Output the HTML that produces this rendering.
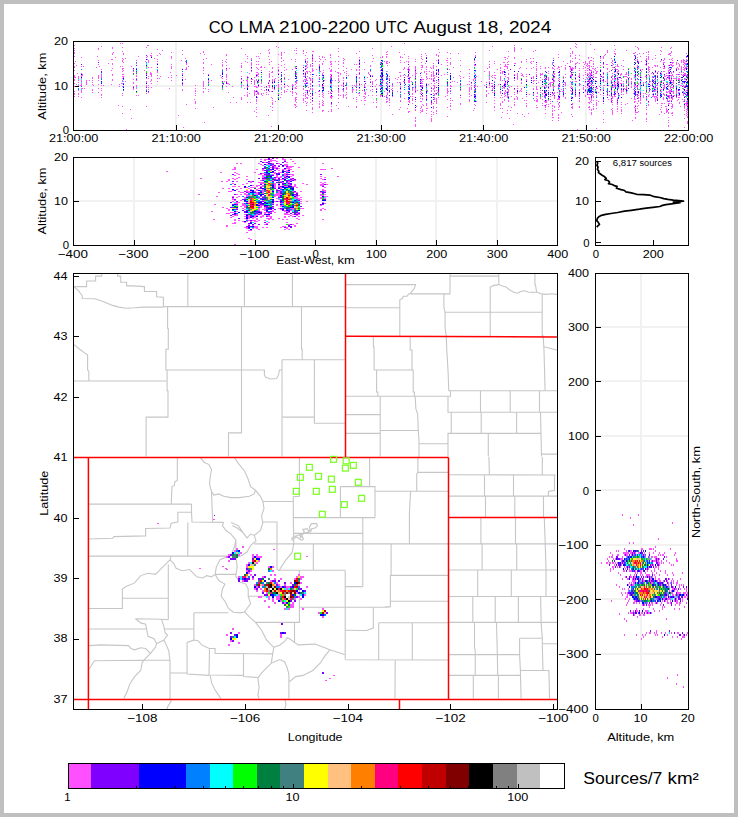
<!DOCTYPE html>
<html><head><meta charset="utf-8"><title>CO LMA</title>
<style>html,body{margin:0;padding:0;background:#fff;overflow:hidden}svg{display:block}text{font-family:"Liberation Sans",sans-serif;fill:#000}</style>
</head><body>
<svg width="738" height="817" viewBox="0 0 738 817">
<rect width="738" height="817" fill="#bfbfbf"/><rect x="4" y="4" width="730" height="809" fill="#fff"/>
<text y="33.2" font-size="17.1598"><tspan x="208.70" textLength="24.75" lengthAdjust="spacingAndGlyphs">CO</tspan> <tspan x="238.74" textLength="35.05" lengthAdjust="spacingAndGlyphs">LMA</tspan> <tspan x="279.09" textLength="90.81" lengthAdjust="spacingAndGlyphs">2100-2200</tspan> <tspan x="375.20" textLength="33.03" lengthAdjust="spacingAndGlyphs">UTC</tspan> <tspan x="413.52" textLength="58.30" lengthAdjust="spacingAndGlyphs">August</tspan> <tspan x="477.11" textLength="26.49" lengthAdjust="spacingAndGlyphs">18,</tspan> <tspan x="508.90" textLength="42.40" lengthAdjust="spacingAndGlyphs">2024</tspan></text>
<g shape-rendering="crispEdges">
<rect x="175" y="42" width="2" height="88" fill="#f1f1f1"/>
<rect x="277" y="42" width="2" height="88" fill="#f1f1f1"/>
<rect x="380" y="42" width="2" height="88" fill="#f1f1f1"/>
<rect x="482" y="42" width="2" height="88" fill="#f1f1f1"/>
<rect x="585" y="42" width="2" height="88" fill="#f1f1f1"/>
<rect x="74" y="85" width="614" height="2" fill="#f1f1f1"/>
<rect x="73" y="41" width="616" height="1" fill="#000"/><rect x="73" y="130" width="616" height="1" fill="#000"/><rect x="73" y="41" width="1" height="90" fill="#000"/><rect x="688" y="41" width="1" height="90" fill="#000"/>
<rect x="73" y="125" width="1" height="5" fill="#000"/>
<rect x="176" y="125" width="1" height="5" fill="#000"/>
<rect x="278" y="125" width="1" height="5" fill="#000"/>
<rect x="381" y="125" width="1" height="5" fill="#000"/>
<rect x="483" y="125" width="1" height="5" fill="#000"/>
<rect x="586" y="125" width="1" height="5" fill="#000"/>
<rect x="688" y="125" width="1" height="5" fill="#000"/>
<rect x="73" y="41" width="6" height="1" fill="#000"/>
<rect x="73" y="86" width="6" height="1" fill="#000"/>
<rect x="73" y="130" width="6" height="1" fill="#000"/>
<path fill="#ff50ff" d="M74 45h1v1h-1zM74 48h1v1h-1zM74 50h1v1h-1zM74 52h1v1h-1zM74 53h1v1h-1zM74 56h1v1h-1zM74 63h1v1h-1zM74 66h1v1h-1zM74 67h1v1h-1zM74 70h1v1h-1zM74 75h1v1h-1zM74 76h1v1h-1zM74 77h1v1h-1zM74 79h1v1h-1zM74 80h1v1h-1zM74 83h1v1h-1zM74 86h1v1h-1zM74 91h1v1h-1zM74 93h1v1h-1zM74 94h1v1h-1zM74 96h1v1h-1zM75 61h1v1h-1zM75 77h1v1h-1zM76 65h1v1h-1zM76 84h1v1h-1zM77 73h1v1h-1zM78 76h1v1h-1zM78 77h1v1h-1zM78 78h1v1h-1zM78 80h1v1h-1zM78 82h1v1h-1zM78 85h1v1h-1zM78 90h1v1h-1zM78 93h1v1h-1zM78 94h1v1h-1zM78 96h1v1h-1zM80 85h1v1h-1zM81 57h1v1h-1zM81 66h1v1h-1zM81 73h1v1h-1zM81 75h1v1h-1zM81 76h1v1h-1zM81 78h1v1h-1zM81 80h1v1h-1zM81 81h1v1h-1zM81 83h1v1h-1zM81 84h1v1h-1zM81 85h1v1h-1zM81 88h1v1h-1zM81 90h1v1h-1zM81 91h1v1h-1zM81 92h1v1h-1zM81 97h1v1h-1zM82 74h1v1h-1zM82 75h1v1h-1zM82 88h1v1h-1zM83 66h1v1h-1zM84 88h1v1h-1zM86 80h1v1h-1zM86 81h1v1h-1zM86 82h1v1h-1zM86 83h1v1h-1zM86 84h1v1h-1zM89 80h1v1h-1zM92 77h1v1h-1zM92 78h1v1h-1zM92 80h1v1h-1zM92 82h1v1h-1zM92 84h1v1h-1zM92 89h1v1h-1zM92 90h1v1h-1zM92 92h1v1h-1zM93 85h1v1h-1zM96 67h1v1h-1zM97 56h1v1h-1zM98 48h1v1h-1zM98 49h1v1h-1zM98 60h1v1h-1zM98 64h1v1h-1zM98 75h1v1h-1zM98 76h1v1h-1zM98 77h1v1h-1zM98 78h1v1h-1zM98 80h1v1h-1zM98 84h1v1h-1zM98 88h1v1h-1zM98 92h1v1h-1zM99 66h1v1h-1zM101 46h1v1h-1zM101 69h1v1h-1zM101 74h1v1h-1zM101 75h1v1h-1zM101 76h1v1h-1zM101 77h1v1h-1zM101 85h1v1h-1zM101 88h1v1h-1zM101 90h1v1h-1zM101 94h1v1h-1zM101 95h1v1h-1zM101 97h1v1h-1zM103 85h1v1h-1zM108 63h1v1h-1zM111 59h1v1h-1zM111 70h1v1h-1zM111 84h1v1h-1zM112 47h1v1h-1zM112 48h1v1h-1zM112 53h1v1h-1zM112 54h1v1h-1zM112 59h1v1h-1zM112 63h1v1h-1zM112 64h1v1h-1zM112 68h1v1h-1zM112 74h1v1h-1zM112 75h1v1h-1zM112 79h1v1h-1zM112 80h1v1h-1zM113 52h1v1h-1zM115 57h1v1h-1zM118 105h1v1h-1zM119 84h1v1h-1zM119 86h1v1h-1zM120 43h1v1h-1zM120 66h1v1h-1zM121 83h1v1h-1zM122 43h1v1h-1zM122 47h1v1h-1zM122 51h1v1h-1zM122 58h1v1h-1zM122 60h1v1h-1zM122 61h1v1h-1zM122 66h1v1h-1zM122 68h1v1h-1zM122 69h1v1h-1zM122 71h1v1h-1zM122 74h1v1h-1zM122 76h1v1h-1zM122 78h1v1h-1zM122 80h1v1h-1zM122 81h1v1h-1zM122 83h1v1h-1zM122 86h1v1h-1zM122 93h1v1h-1zM122 95h1v1h-1zM122 106h1v1h-1zM122 113h1v1h-1zM123 53h1v1h-1zM123 54h1v1h-1zM123 59h1v1h-1zM123 62h1v1h-1zM123 68h1v1h-1zM123 70h1v1h-1zM123 74h1v1h-1zM123 76h1v1h-1zM123 77h1v1h-1zM125 58h1v1h-1zM125 81h1v1h-1zM126 129h1v1h-1zM130 109h1v1h-1zM131 66h1v1h-1zM131 118h1v1h-1zM133 69h1v1h-1zM133 71h1v1h-1zM133 79h1v1h-1zM133 82h1v1h-1zM133 83h1v1h-1zM133 86h1v1h-1zM133 88h1v1h-1zM133 89h1v1h-1zM136 60h1v1h-1zM136 63h1v1h-1zM136 75h1v1h-1zM136 76h1v1h-1zM136 78h1v1h-1zM136 80h1v1h-1zM136 85h1v1h-1zM136 86h1v1h-1zM136 88h1v1h-1zM136 95h1v1h-1zM138 56h1v1h-1zM138 95h1v1h-1zM144 70h1v1h-1zM145 61h1v1h-1zM146 47h1v1h-1zM146 57h1v1h-1zM146 67h1v1h-1zM146 74h1v1h-1zM146 78h1v1h-1zM146 81h1v1h-1zM146 82h1v1h-1zM146 85h1v1h-1zM146 86h1v1h-1zM146 89h1v1h-1zM146 93h1v1h-1zM146 106h1v1h-1zM147 45h1v1h-1zM147 56h1v1h-1zM147 59h1v1h-1zM148 45h1v1h-1zM148 60h1v1h-1zM148 61h1v1h-1zM148 62h1v1h-1zM148 67h1v1h-1zM148 76h1v1h-1zM148 78h1v1h-1zM148 85h1v1h-1zM148 87h1v1h-1zM148 89h1v1h-1zM148 92h1v1h-1zM150 55h1v1h-1zM150 72h1v1h-1zM150 73h1v1h-1zM150 74h1v1h-1zM150 81h1v1h-1zM151 53h1v1h-1zM151 55h1v1h-1zM151 56h1v1h-1zM151 67h1v1h-1zM151 73h1v1h-1zM151 74h1v1h-1zM151 75h1v1h-1zM151 76h1v1h-1zM151 79h1v1h-1zM151 80h1v1h-1zM151 83h1v1h-1zM151 87h1v1h-1zM154 58h1v1h-1zM157 49h1v1h-1zM157 55h1v1h-1zM157 59h1v1h-1zM157 61h1v1h-1zM157 63h1v1h-1zM157 71h1v1h-1zM157 72h1v1h-1zM157 75h1v1h-1zM157 78h1v1h-1zM157 81h1v1h-1zM159 53h1v1h-1zM159 78h1v1h-1zM160 54h1v1h-1zM160 76h1v1h-1zM162 50h1v1h-1zM168 77h1v1h-1zM169 88h1v1h-1zM170 72h1v1h-1zM171 52h1v1h-1zM171 56h1v1h-1zM171 57h1v1h-1zM171 58h1v1h-1zM171 64h1v1h-1zM171 66h1v1h-1zM171 67h1v1h-1zM171 68h1v1h-1zM171 75h1v1h-1zM171 77h1v1h-1zM171 80h1v1h-1zM176 75h1v1h-1zM178 115h1v1h-1zM181 60h1v1h-1zM182 50h1v1h-1zM182 54h1v1h-1zM182 73h1v1h-1zM182 74h1v1h-1zM182 77h1v1h-1zM182 82h1v1h-1zM182 84h1v1h-1zM182 85h1v1h-1zM182 89h1v1h-1zM182 90h1v1h-1zM183 127h1v1h-1zM185 58h1v1h-1zM185 61h1v1h-1zM185 69h1v1h-1zM185 79h1v1h-1zM186 63h1v1h-1zM186 64h1v1h-1zM186 67h1v1h-1zM186 68h1v1h-1zM186 69h1v1h-1zM186 104h1v1h-1zM188 66h1v1h-1zM194 99h1v1h-1zM195 85h1v1h-1zM195 88h1v1h-1zM195 90h1v1h-1zM195 91h1v1h-1zM195 93h1v1h-1zM195 95h1v1h-1zM195 101h1v1h-1zM195 102h1v1h-1zM195 103h1v1h-1zM195 108h1v1h-1zM200 53h1v1h-1zM203 51h1v1h-1zM203 52h1v1h-1zM203 59h1v1h-1zM203 62h1v1h-1zM203 63h1v1h-1zM203 67h1v1h-1zM203 68h1v1h-1zM203 70h1v1h-1zM203 73h1v1h-1zM203 81h1v1h-1zM203 82h1v1h-1zM203 83h1v1h-1zM203 84h1v1h-1zM203 85h1v1h-1zM203 86h1v1h-1zM203 88h1v1h-1zM203 91h1v1h-1zM203 92h1v1h-1zM204 54h1v1h-1zM204 122h1v1h-1zM205 88h1v1h-1zM206 58h1v1h-1zM208 74h1v1h-1zM208 80h1v1h-1zM208 81h1v1h-1zM208 83h1v1h-1zM208 89h1v1h-1zM208 91h1v1h-1zM211 64h1v1h-1zM211 80h1v1h-1zM213 107h1v1h-1zM220 75h1v1h-1zM221 77h1v1h-1zM222 60h1v1h-1zM222 62h1v1h-1zM222 64h1v1h-1zM222 65h1v1h-1zM222 66h1v1h-1zM222 69h1v1h-1zM222 78h1v1h-1zM222 88h1v1h-1zM223 84h1v1h-1zM224 81h1v1h-1zM225 61h1v1h-1zM226 54h1v1h-1zM226 55h1v1h-1zM226 59h1v1h-1zM226 62h1v1h-1zM226 65h1v1h-1zM226 69h1v1h-1zM226 70h1v1h-1zM226 74h1v1h-1zM226 75h1v1h-1zM226 76h1v1h-1zM226 77h1v1h-1zM226 79h1v1h-1zM226 81h1v1h-1zM226 86h1v1h-1zM227 83h1v1h-1zM228 83h1v1h-1zM228 92h1v1h-1zM229 68h1v1h-1zM229 84h1v1h-1zM230 102h1v1h-1zM232 86h1v1h-1zM233 97h1v1h-1zM236 102h1v1h-1zM241 48h1v1h-1zM241 63h1v1h-1zM241 65h1v1h-1zM241 66h1v1h-1zM241 67h1v1h-1zM241 71h1v1h-1zM241 76h1v1h-1zM241 79h1v1h-1zM241 81h1v1h-1zM241 85h1v1h-1zM241 86h1v1h-1zM241 97h1v1h-1zM241 98h1v1h-1zM241 99h1v1h-1zM243 80h1v1h-1zM243 85h1v1h-1zM244 88h1v1h-1zM244 95h1v1h-1zM245 54h1v1h-1zM245 61h1v1h-1zM246 80h1v1h-1zM247 56h1v1h-1zM247 58h1v1h-1zM247 62h1v1h-1zM247 76h1v1h-1zM247 78h1v1h-1zM247 80h1v1h-1zM247 81h1v1h-1zM247 82h1v1h-1zM247 83h1v1h-1zM247 86h1v1h-1zM247 87h1v1h-1zM247 92h1v1h-1zM247 94h1v1h-1zM247 95h1v1h-1zM247 96h1v1h-1zM247 102h1v1h-1zM248 77h1v1h-1zM248 86h1v1h-1zM249 73h1v1h-1zM249 93h1v1h-1zM250 102h1v1h-1zM251 58h1v1h-1zM251 59h1v1h-1zM251 62h1v1h-1zM251 63h1v1h-1zM251 64h1v1h-1zM251 65h1v1h-1zM251 68h1v1h-1zM251 71h1v1h-1zM251 79h1v1h-1zM251 83h1v1h-1zM252 79h1v1h-1zM254 77h1v1h-1zM254 80h1v1h-1zM254 81h1v1h-1zM254 82h1v1h-1zM254 83h1v1h-1zM254 84h1v1h-1zM254 86h1v1h-1zM254 90h1v1h-1zM254 91h1v1h-1zM254 92h1v1h-1zM254 93h1v1h-1zM254 94h1v1h-1zM254 95h1v1h-1zM254 111h1v1h-1zM255 86h1v1h-1zM255 91h1v1h-1zM256 56h1v1h-1zM256 61h1v1h-1zM256 64h1v1h-1zM256 67h1v1h-1zM256 72h1v1h-1zM256 74h1v1h-1zM256 76h1v1h-1zM256 79h1v1h-1zM256 80h1v1h-1zM256 86h1v1h-1zM256 87h1v1h-1zM256 90h1v1h-1zM256 94h1v1h-1zM256 99h1v1h-1zM256 100h1v1h-1zM256 101h1v1h-1zM256 103h1v1h-1zM256 107h1v1h-1zM256 109h1v1h-1zM256 112h1v1h-1zM256 116h1v1h-1zM257 68h1v1h-1zM257 72h1v1h-1zM257 74h1v1h-1zM257 75h1v1h-1zM257 87h1v1h-1zM257 91h1v1h-1zM257 92h1v1h-1zM257 93h1v1h-1zM257 97h1v1h-1zM258 56h1v1h-1zM258 61h1v1h-1zM258 64h1v1h-1zM258 69h1v1h-1zM258 73h1v1h-1zM258 74h1v1h-1zM258 76h1v1h-1zM258 81h1v1h-1zM258 84h1v1h-1zM258 86h1v1h-1zM258 92h1v1h-1zM258 93h1v1h-1zM258 94h1v1h-1zM259 58h1v1h-1zM260 53h1v1h-1zM260 67h1v1h-1zM261 66h1v1h-1zM261 67h1v1h-1zM261 70h1v1h-1zM261 82h1v1h-1zM261 83h1v1h-1zM261 86h1v1h-1zM261 89h1v1h-1zM261 93h1v1h-1zM261 94h1v1h-1zM262 95h1v1h-1zM263 93h1v1h-1zM264 67h1v1h-1zM264 87h1v1h-1zM264 90h1v1h-1zM266 87h1v1h-1zM266 90h1v1h-1zM266 92h1v1h-1zM266 94h1v1h-1zM268 50h1v1h-1zM268 56h1v1h-1zM268 82h1v1h-1zM268 85h1v1h-1zM268 94h1v1h-1zM268 115h1v1h-1zM269 49h1v1h-1zM269 52h1v1h-1zM269 53h1v1h-1zM269 59h1v1h-1zM269 62h1v1h-1zM269 64h1v1h-1zM269 71h1v1h-1zM269 73h1v1h-1zM269 74h1v1h-1zM269 75h1v1h-1zM269 76h1v1h-1zM269 77h1v1h-1zM269 81h1v1h-1zM269 85h1v1h-1zM269 86h1v1h-1zM269 87h1v1h-1zM269 91h1v1h-1zM270 106h1v1h-1zM271 61h1v1h-1zM271 72h1v1h-1zM271 91h1v1h-1zM271 97h1v1h-1zM271 126h1v1h-1zM272 67h1v1h-1zM272 68h1v1h-1zM272 71h1v1h-1zM272 72h1v1h-1zM272 76h1v1h-1zM272 79h1v1h-1zM272 80h1v1h-1zM272 81h1v1h-1zM272 83h1v1h-1zM272 87h1v1h-1zM272 88h1v1h-1zM272 98h1v1h-1zM272 100h1v1h-1zM272 102h1v1h-1zM272 103h1v1h-1zM272 104h1v1h-1zM272 107h1v1h-1zM272 110h1v1h-1zM274 79h1v1h-1zM274 80h1v1h-1zM274 89h1v1h-1zM275 78h1v1h-1zM275 101h1v1h-1zM276 46h1v1h-1zM276 85h1v1h-1zM278 47h1v1h-1zM278 54h1v1h-1zM278 64h1v1h-1zM278 67h1v1h-1zM278 69h1v1h-1zM278 71h1v1h-1zM278 73h1v1h-1zM278 77h1v1h-1zM278 80h1v1h-1zM278 84h1v1h-1zM278 85h1v1h-1zM278 86h1v1h-1zM278 87h1v1h-1zM278 89h1v1h-1zM278 94h1v1h-1zM280 79h1v1h-1zM280 97h1v1h-1zM281 52h1v1h-1zM281 53h1v1h-1zM281 54h1v1h-1zM281 55h1v1h-1zM281 57h1v1h-1zM281 58h1v1h-1zM281 61h1v1h-1zM281 65h1v1h-1zM281 80h1v1h-1zM281 82h1v1h-1zM281 84h1v1h-1zM281 87h1v1h-1zM281 89h1v1h-1zM281 92h1v1h-1zM281 94h1v1h-1zM283 60h1v1h-1zM284 52h1v1h-1zM284 64h1v1h-1zM284 67h1v1h-1zM284 70h1v1h-1zM284 74h1v1h-1zM284 77h1v1h-1zM284 79h1v1h-1zM284 83h1v1h-1zM284 86h1v1h-1zM284 87h1v1h-1zM284 90h1v1h-1zM284 91h1v1h-1zM284 92h1v1h-1zM286 69h1v1h-1zM286 91h1v1h-1zM287 85h1v1h-1zM287 89h1v1h-1zM288 79h1v1h-1zM288 86h1v1h-1zM290 91h1v1h-1zM291 59h1v1h-1zM292 69h1v1h-1zM292 84h1v1h-1zM292 85h1v1h-1zM292 87h1v1h-1zM292 91h1v1h-1zM292 92h1v1h-1zM292 93h1v1h-1zM292 95h1v1h-1zM293 85h1v1h-1zM294 50h1v1h-1zM294 104h1v1h-1zM295 59h1v1h-1zM295 61h1v1h-1zM295 67h1v1h-1zM295 68h1v1h-1zM295 82h1v1h-1zM295 84h1v1h-1zM295 87h1v1h-1zM295 88h1v1h-1zM295 92h1v1h-1zM295 97h1v1h-1zM295 98h1v1h-1zM295 99h1v1h-1zM295 100h1v1h-1zM295 101h1v1h-1zM295 104h1v1h-1zM295 105h1v1h-1zM295 107h1v1h-1zM296 48h1v1h-1zM296 50h1v1h-1zM296 53h1v1h-1zM296 73h1v1h-1zM296 74h1v1h-1zM296 81h1v1h-1zM296 82h1v1h-1zM296 83h1v1h-1zM296 86h1v1h-1zM296 88h1v1h-1zM296 93h1v1h-1zM296 94h1v1h-1zM296 97h1v1h-1zM296 99h1v1h-1zM296 102h1v1h-1zM296 106h1v1h-1zM297 80h1v1h-1zM303 50h1v1h-1zM303 51h1v1h-1zM303 53h1v1h-1zM303 65h1v1h-1zM303 71h1v1h-1zM303 74h1v1h-1zM303 76h1v1h-1zM303 80h1v1h-1zM303 81h1v1h-1zM303 88h1v1h-1zM303 89h1v1h-1zM303 93h1v1h-1zM303 95h1v1h-1zM303 98h1v1h-1zM303 99h1v1h-1zM303 100h1v1h-1zM303 102h1v1h-1zM304 76h1v1h-1zM304 79h1v1h-1zM304 83h1v1h-1zM305 55h1v1h-1zM305 59h1v1h-1zM305 60h1v1h-1zM305 68h1v1h-1zM305 72h1v1h-1zM305 75h1v1h-1zM305 79h1v1h-1zM305 83h1v1h-1zM305 90h1v1h-1zM305 92h1v1h-1zM305 94h1v1h-1zM305 95h1v1h-1zM305 96h1v1h-1zM305 98h1v1h-1zM305 101h1v1h-1zM306 52h1v1h-1zM306 63h1v1h-1zM306 65h1v1h-1zM306 66h1v1h-1zM306 68h1v1h-1zM306 71h1v1h-1zM306 78h1v1h-1zM306 79h1v1h-1zM306 80h1v1h-1zM306 82h1v1h-1zM306 85h1v1h-1zM306 90h1v1h-1zM306 97h1v1h-1zM306 103h1v1h-1zM306 105h1v1h-1zM306 110h1v1h-1zM307 58h1v1h-1zM307 61h1v1h-1zM307 62h1v1h-1zM307 64h1v1h-1zM307 67h1v1h-1zM307 71h1v1h-1zM307 72h1v1h-1zM307 73h1v1h-1zM307 76h1v1h-1zM307 80h1v1h-1zM307 82h1v1h-1zM307 93h1v1h-1zM307 94h1v1h-1zM307 97h1v1h-1zM307 98h1v1h-1zM307 102h1v1h-1zM308 87h1v1h-1zM308 95h1v1h-1zM309 71h1v1h-1zM309 77h1v1h-1zM309 78h1v1h-1zM309 90h1v1h-1zM309 91h1v1h-1zM310 64h1v1h-1zM310 65h1v1h-1zM310 66h1v1h-1zM310 72h1v1h-1zM310 74h1v1h-1zM310 78h1v1h-1zM310 79h1v1h-1zM310 80h1v1h-1zM310 83h1v1h-1zM310 84h1v1h-1zM310 86h1v1h-1zM310 88h1v1h-1zM310 89h1v1h-1zM310 96h1v1h-1zM310 99h1v1h-1zM310 102h1v1h-1zM312 51h1v1h-1zM312 54h1v1h-1zM312 56h1v1h-1zM312 57h1v1h-1zM312 59h1v1h-1zM312 60h1v1h-1zM312 61h1v1h-1zM312 65h1v1h-1zM312 66h1v1h-1zM312 68h1v1h-1zM312 69h1v1h-1zM312 70h1v1h-1zM312 71h1v1h-1zM312 76h1v1h-1zM312 79h1v1h-1zM312 80h1v1h-1zM312 88h1v1h-1zM312 89h1v1h-1zM312 90h1v1h-1zM312 97h1v1h-1zM312 101h1v1h-1zM312 104h1v1h-1zM312 107h1v1h-1zM312 108h1v1h-1zM312 109h1v1h-1zM312 112h1v1h-1zM313 51h1v1h-1zM313 70h1v1h-1zM315 61h1v1h-1zM315 92h1v1h-1zM316 69h1v1h-1zM316 75h1v1h-1zM318 81h1v1h-1zM318 91h1v1h-1zM319 56h1v1h-1zM319 58h1v1h-1zM319 61h1v1h-1zM319 64h1v1h-1zM319 65h1v1h-1zM319 71h1v1h-1zM319 77h1v1h-1zM319 78h1v1h-1zM319 84h1v1h-1zM319 85h1v1h-1zM319 91h1v1h-1zM319 94h1v1h-1zM319 96h1v1h-1zM319 101h1v1h-1zM319 103h1v1h-1zM319 104h1v1h-1zM319 106h1v1h-1zM319 107h1v1h-1zM320 59h1v1h-1zM320 71h1v1h-1zM322 56h1v1h-1zM322 57h1v1h-1zM322 63h1v1h-1zM322 64h1v1h-1zM322 73h1v1h-1zM322 74h1v1h-1zM322 77h1v1h-1zM322 81h1v1h-1zM322 86h1v1h-1zM322 88h1v1h-1zM322 92h1v1h-1zM322 94h1v1h-1zM322 96h1v1h-1zM322 100h1v1h-1zM322 102h1v1h-1zM322 104h1v1h-1zM322 105h1v1h-1zM322 110h1v1h-1zM322 111h1v1h-1zM323 61h1v1h-1zM323 70h1v1h-1zM323 72h1v1h-1zM323 85h1v1h-1zM323 93h1v1h-1zM323 95h1v1h-1zM323 97h1v1h-1zM323 101h1v1h-1zM323 103h1v1h-1zM323 105h1v1h-1zM323 110h1v1h-1zM324 57h1v1h-1zM324 80h1v1h-1zM325 59h1v1h-1zM328 91h1v1h-1zM328 93h1v1h-1zM328 111h1v1h-1zM329 68h1v1h-1zM330 54h1v1h-1zM330 55h1v1h-1zM330 57h1v1h-1zM330 61h1v1h-1zM330 62h1v1h-1zM330 64h1v1h-1zM330 70h1v1h-1zM330 71h1v1h-1zM330 74h1v1h-1zM330 76h1v1h-1zM330 77h1v1h-1zM330 78h1v1h-1zM330 83h1v1h-1zM330 85h1v1h-1zM330 89h1v1h-1zM330 92h1v1h-1zM330 93h1v1h-1zM330 96h1v1h-1zM330 97h1v1h-1zM331 61h1v1h-1zM331 63h1v1h-1zM331 64h1v1h-1zM331 66h1v1h-1zM331 69h1v1h-1zM331 70h1v1h-1zM331 71h1v1h-1zM331 74h1v1h-1zM331 76h1v1h-1zM331 77h1v1h-1zM331 81h1v1h-1zM331 83h1v1h-1zM331 86h1v1h-1zM331 91h1v1h-1zM331 96h1v1h-1zM331 97h1v1h-1zM331 98h1v1h-1zM331 104h1v1h-1zM331 106h1v1h-1zM331 109h1v1h-1zM331 110h1v1h-1zM331 111h1v1h-1zM332 80h1v1h-1zM332 91h1v1h-1zM332 96h1v1h-1zM335 61h1v1h-1zM335 71h1v1h-1zM335 80h1v1h-1zM336 105h1v1h-1zM337 72h1v1h-1zM338 48h1v1h-1zM338 51h1v1h-1zM338 56h1v1h-1zM338 61h1v1h-1zM338 64h1v1h-1zM338 68h1v1h-1zM338 72h1v1h-1zM338 73h1v1h-1zM338 75h1v1h-1zM338 76h1v1h-1zM338 78h1v1h-1zM338 79h1v1h-1zM338 80h1v1h-1zM338 85h1v1h-1zM338 86h1v1h-1zM338 89h1v1h-1zM338 90h1v1h-1zM338 91h1v1h-1zM338 92h1v1h-1zM338 94h1v1h-1zM338 95h1v1h-1zM338 98h1v1h-1zM338 102h1v1h-1zM338 108h1v1h-1zM339 81h1v1h-1zM340 73h1v1h-1zM340 74h1v1h-1zM340 95h1v1h-1zM341 85h1v1h-1zM342 89h1v1h-1zM343 58h1v1h-1zM343 60h1v1h-1zM343 62h1v1h-1zM343 63h1v1h-1zM343 66h1v1h-1zM343 70h1v1h-1zM343 77h1v1h-1zM343 78h1v1h-1zM343 80h1v1h-1zM343 82h1v1h-1zM343 84h1v1h-1zM343 85h1v1h-1zM343 90h1v1h-1zM343 91h1v1h-1zM343 94h1v1h-1zM343 95h1v1h-1zM343 96h1v1h-1zM343 97h1v1h-1zM344 59h1v1h-1zM344 72h1v1h-1zM345 95h1v1h-1zM346 68h1v1h-1zM346 71h1v1h-1zM346 73h1v1h-1zM346 75h1v1h-1zM346 82h1v1h-1zM346 87h1v1h-1zM346 88h1v1h-1zM346 89h1v1h-1zM346 92h1v1h-1zM346 94h1v1h-1zM346 97h1v1h-1zM346 98h1v1h-1zM348 75h1v1h-1zM348 106h1v1h-1zM351 69h1v1h-1zM352 85h1v1h-1zM352 89h1v1h-1zM352 90h1v1h-1zM352 91h1v1h-1zM352 92h1v1h-1zM353 89h1v1h-1zM353 98h1v1h-1zM354 64h1v1h-1zM354 85h1v1h-1zM355 86h1v1h-1zM356 53h1v1h-1zM356 64h1v1h-1zM356 69h1v1h-1zM356 70h1v1h-1zM356 74h1v1h-1zM356 83h1v1h-1zM356 84h1v1h-1zM356 85h1v1h-1zM356 89h1v1h-1zM356 90h1v1h-1zM356 97h1v1h-1zM356 99h1v1h-1zM356 101h1v1h-1zM356 106h1v1h-1zM356 107h1v1h-1zM358 93h1v1h-1zM359 51h1v1h-1zM359 57h1v1h-1zM359 59h1v1h-1zM359 61h1v1h-1zM359 62h1v1h-1zM359 67h1v1h-1zM359 69h1v1h-1zM359 70h1v1h-1zM359 72h1v1h-1zM359 74h1v1h-1zM359 77h1v1h-1zM359 78h1v1h-1zM359 81h1v1h-1zM359 83h1v1h-1zM359 85h1v1h-1zM359 88h1v1h-1zM359 93h1v1h-1zM359 95h1v1h-1zM361 84h1v1h-1zM361 100h1v1h-1zM362 90h1v1h-1zM363 96h1v1h-1zM364 62h1v1h-1zM364 69h1v1h-1zM364 79h1v1h-1zM364 84h1v1h-1zM364 85h1v1h-1zM364 86h1v1h-1zM364 91h1v1h-1zM364 93h1v1h-1zM364 96h1v1h-1zM364 98h1v1h-1zM364 100h1v1h-1zM364 104h1v1h-1zM365 81h1v1h-1zM365 87h1v1h-1zM365 92h1v1h-1zM365 93h1v1h-1zM365 94h1v1h-1zM365 97h1v1h-1zM365 100h1v1h-1zM366 89h1v1h-1zM367 77h1v1h-1zM368 72h1v1h-1zM368 73h1v1h-1zM368 95h1v1h-1zM369 74h1v1h-1zM370 65h1v1h-1zM370 66h1v1h-1zM370 71h1v1h-1zM370 79h1v1h-1zM370 81h1v1h-1zM370 86h1v1h-1zM370 90h1v1h-1zM372 48h1v1h-1zM372 55h1v1h-1zM372 61h1v1h-1zM372 75h1v1h-1zM372 81h1v1h-1zM372 82h1v1h-1zM372 83h1v1h-1zM372 84h1v1h-1zM372 89h1v1h-1zM372 91h1v1h-1zM372 95h1v1h-1zM373 58h1v1h-1zM373 102h1v1h-1zM375 80h1v1h-1zM375 86h1v1h-1zM376 79h1v1h-1zM376 84h1v1h-1zM376 88h1v1h-1zM376 95h1v1h-1zM376 100h1v1h-1zM376 102h1v1h-1zM376 106h1v1h-1zM376 107h1v1h-1zM379 85h1v1h-1zM380 57h1v1h-1zM380 62h1v1h-1zM380 70h1v1h-1zM380 80h1v1h-1zM380 82h1v1h-1zM380 85h1v1h-1zM380 86h1v1h-1zM380 94h1v1h-1zM380 95h1v1h-1zM380 96h1v1h-1zM381 64h1v1h-1zM381 78h1v1h-1zM381 86h1v1h-1zM381 95h1v1h-1zM382 56h1v1h-1zM382 57h1v1h-1zM382 71h1v1h-1zM382 77h1v1h-1zM382 80h1v1h-1zM382 83h1v1h-1zM383 75h1v1h-1zM383 80h1v1h-1zM384 61h1v1h-1zM384 91h1v1h-1zM384 96h1v1h-1zM385 88h1v1h-1zM386 52h1v1h-1zM386 54h1v1h-1zM386 56h1v1h-1zM386 57h1v1h-1zM386 61h1v1h-1zM386 62h1v1h-1zM386 63h1v1h-1zM386 71h1v1h-1zM386 76h1v1h-1zM386 77h1v1h-1zM386 82h1v1h-1zM386 95h1v1h-1zM386 96h1v1h-1zM386 99h1v1h-1zM386 101h1v1h-1zM386 102h1v1h-1zM387 51h1v1h-1zM387 54h1v1h-1zM387 61h1v1h-1zM387 63h1v1h-1zM387 65h1v1h-1zM387 83h1v1h-1zM387 84h1v1h-1zM387 88h1v1h-1zM387 92h1v1h-1zM387 93h1v1h-1zM387 94h1v1h-1zM387 97h1v1h-1zM387 98h1v1h-1zM387 101h1v1h-1zM389 62h1v1h-1zM389 76h1v1h-1zM389 78h1v1h-1zM389 79h1v1h-1zM389 85h1v1h-1zM389 88h1v1h-1zM389 92h1v1h-1zM389 98h1v1h-1zM389 99h1v1h-1zM389 100h1v1h-1zM389 102h1v1h-1zM389 105h1v1h-1zM391 46h1v1h-1zM391 89h1v1h-1zM392 83h1v1h-1zM392 85h1v1h-1zM392 86h1v1h-1zM392 88h1v1h-1zM392 91h1v1h-1zM392 96h1v1h-1zM392 114h1v1h-1zM395 78h1v1h-1zM397 79h1v1h-1zM397 82h1v1h-1zM397 91h1v1h-1zM398 77h1v1h-1zM399 52h1v1h-1zM399 72h1v1h-1zM399 82h1v1h-1zM399 109h1v1h-1zM400 56h1v1h-1zM400 57h1v1h-1zM400 60h1v1h-1zM400 62h1v1h-1zM400 72h1v1h-1zM400 75h1v1h-1zM400 76h1v1h-1zM400 79h1v1h-1zM400 82h1v1h-1zM400 83h1v1h-1zM400 86h1v1h-1zM400 87h1v1h-1zM400 89h1v1h-1zM400 91h1v1h-1zM400 95h1v1h-1zM400 97h1v1h-1zM400 100h1v1h-1zM400 101h1v1h-1zM400 107h1v1h-1zM402 57h1v1h-1zM403 69h1v1h-1zM403 75h1v1h-1zM403 81h1v1h-1zM404 43h1v1h-1zM404 54h1v1h-1zM404 62h1v1h-1zM404 67h1v1h-1zM404 68h1v1h-1zM404 81h1v1h-1zM404 93h1v1h-1zM404 98h1v1h-1zM405 75h1v1h-1zM406 61h1v1h-1zM407 69h1v1h-1zM407 76h1v1h-1zM407 108h1v1h-1zM408 56h1v1h-1zM408 58h1v1h-1zM408 61h1v1h-1zM408 62h1v1h-1zM408 67h1v1h-1zM408 68h1v1h-1zM408 70h1v1h-1zM408 76h1v1h-1zM408 80h1v1h-1zM408 81h1v1h-1zM408 82h1v1h-1zM408 101h1v1h-1zM408 111h1v1h-1zM408 112h1v1h-1zM409 66h1v1h-1zM409 69h1v1h-1zM409 70h1v1h-1zM409 73h1v1h-1zM409 77h1v1h-1zM409 79h1v1h-1zM409 80h1v1h-1zM409 81h1v1h-1zM409 82h1v1h-1zM409 84h1v1h-1zM409 86h1v1h-1zM409 87h1v1h-1zM409 91h1v1h-1zM409 93h1v1h-1zM409 100h1v1h-1zM409 101h1v1h-1zM409 102h1v1h-1zM409 111h1v1h-1zM410 77h1v1h-1zM410 96h1v1h-1zM411 81h1v1h-1zM412 75h1v1h-1zM412 88h1v1h-1zM412 89h1v1h-1zM412 90h1v1h-1zM412 93h1v1h-1zM412 94h1v1h-1zM412 96h1v1h-1zM412 98h1v1h-1zM412 99h1v1h-1zM412 100h1v1h-1zM412 103h1v1h-1zM413 87h1v1h-1zM415 59h1v1h-1zM415 61h1v1h-1zM415 66h1v1h-1zM415 67h1v1h-1zM415 68h1v1h-1zM415 69h1v1h-1zM415 71h1v1h-1zM415 72h1v1h-1zM415 73h1v1h-1zM415 74h1v1h-1zM415 75h1v1h-1zM415 77h1v1h-1zM415 83h1v1h-1zM415 85h1v1h-1zM415 88h1v1h-1zM415 89h1v1h-1zM415 90h1v1h-1zM415 92h1v1h-1zM415 101h1v1h-1zM415 109h1v1h-1zM415 110h1v1h-1zM415 117h1v1h-1zM415 118h1v1h-1zM415 120h1v1h-1zM415 121h1v1h-1zM415 124h1v1h-1zM415 125h1v1h-1zM415 126h1v1h-1zM416 73h1v1h-1zM416 106h1v1h-1zM417 90h1v1h-1zM420 75h1v1h-1zM420 80h1v1h-1zM420 82h1v1h-1zM420 89h1v1h-1zM420 91h1v1h-1zM420 93h1v1h-1zM420 96h1v1h-1zM420 98h1v1h-1zM420 101h1v1h-1zM420 108h1v1h-1zM420 110h1v1h-1zM420 112h1v1h-1zM421 54h1v1h-1zM421 56h1v1h-1zM421 58h1v1h-1zM421 62h1v1h-1zM421 65h1v1h-1zM421 67h1v1h-1zM421 69h1v1h-1zM421 72h1v1h-1zM421 77h1v1h-1zM421 79h1v1h-1zM421 80h1v1h-1zM421 82h1v1h-1zM421 83h1v1h-1zM421 85h1v1h-1zM421 86h1v1h-1zM421 87h1v1h-1zM421 90h1v1h-1zM421 92h1v1h-1zM421 101h1v1h-1zM421 106h1v1h-1zM421 107h1v1h-1zM421 111h1v1h-1zM422 59h1v1h-1zM422 65h1v1h-1zM422 66h1v1h-1zM422 67h1v1h-1zM422 79h1v1h-1zM422 81h1v1h-1zM422 83h1v1h-1zM422 85h1v1h-1zM422 86h1v1h-1zM422 96h1v1h-1zM422 98h1v1h-1zM422 99h1v1h-1zM422 104h1v1h-1zM422 109h1v1h-1zM422 110h1v1h-1zM422 111h1v1h-1zM423 79h1v1h-1zM423 105h1v1h-1zM424 71h1v1h-1zM424 72h1v1h-1zM425 53h1v1h-1zM425 63h1v1h-1zM426 55h1v1h-1zM426 60h1v1h-1zM426 66h1v1h-1zM426 67h1v1h-1zM426 69h1v1h-1zM426 71h1v1h-1zM426 73h1v1h-1zM426 74h1v1h-1zM426 76h1v1h-1zM426 77h1v1h-1zM426 79h1v1h-1zM426 83h1v1h-1zM426 86h1v1h-1zM426 89h1v1h-1zM426 96h1v1h-1zM426 97h1v1h-1zM426 98h1v1h-1zM426 103h1v1h-1zM426 104h1v1h-1zM426 105h1v1h-1zM426 108h1v1h-1zM426 110h1v1h-1zM426 113h1v1h-1zM427 78h1v1h-1zM427 90h1v1h-1zM427 91h1v1h-1zM427 108h1v1h-1zM428 84h1v1h-1zM429 71h1v1h-1zM429 78h1v1h-1zM430 67h1v1h-1zM430 94h1v1h-1zM431 68h1v1h-1zM431 72h1v1h-1zM431 74h1v1h-1zM431 75h1v1h-1zM431 76h1v1h-1zM431 78h1v1h-1zM431 79h1v1h-1zM431 83h1v1h-1zM431 87h1v1h-1zM431 90h1v1h-1zM431 91h1v1h-1zM431 103h1v1h-1zM431 104h1v1h-1zM431 111h1v1h-1zM431 114h1v1h-1zM431 116h1v1h-1zM431 118h1v1h-1zM431 119h1v1h-1zM431 120h1v1h-1zM431 121h1v1h-1zM433 63h1v1h-1zM433 65h1v1h-1zM433 66h1v1h-1zM433 67h1v1h-1zM433 68h1v1h-1zM433 71h1v1h-1zM433 72h1v1h-1zM433 73h1v1h-1zM433 74h1v1h-1zM433 75h1v1h-1zM433 76h1v1h-1zM433 78h1v1h-1zM433 79h1v1h-1zM433 81h1v1h-1zM433 85h1v1h-1zM433 88h1v1h-1zM433 89h1v1h-1zM433 93h1v1h-1zM433 103h1v1h-1zM433 106h1v1h-1zM433 107h1v1h-1zM433 108h1v1h-1zM433 112h1v1h-1zM433 114h1v1h-1zM434 75h1v1h-1zM434 77h1v1h-1zM434 78h1v1h-1zM434 80h1v1h-1zM434 81h1v1h-1zM434 83h1v1h-1zM434 85h1v1h-1zM434 86h1v1h-1zM434 87h1v1h-1zM434 88h1v1h-1zM434 90h1v1h-1zM434 91h1v1h-1zM434 94h1v1h-1zM434 95h1v1h-1zM434 97h1v1h-1zM434 98h1v1h-1zM434 99h1v1h-1zM434 101h1v1h-1zM435 93h1v1h-1zM436 54h1v1h-1zM436 55h1v1h-1zM436 60h1v1h-1zM436 66h1v1h-1zM436 69h1v1h-1zM436 72h1v1h-1zM436 76h1v1h-1zM436 82h1v1h-1zM436 90h1v1h-1zM436 94h1v1h-1zM436 98h1v1h-1zM436 99h1v1h-1zM436 100h1v1h-1zM436 101h1v1h-1zM436 102h1v1h-1zM436 103h1v1h-1zM436 107h1v1h-1zM436 110h1v1h-1zM436 111h1v1h-1zM436 113h1v1h-1zM437 92h1v1h-1zM438 49h1v1h-1zM438 55h1v1h-1zM438 56h1v1h-1zM438 59h1v1h-1zM438 61h1v1h-1zM438 72h1v1h-1zM438 73h1v1h-1zM438 80h1v1h-1zM438 81h1v1h-1zM438 92h1v1h-1zM438 97h1v1h-1zM439 52h1v1h-1zM441 64h1v1h-1zM441 75h1v1h-1zM444 74h1v1h-1zM445 96h1v1h-1zM446 60h1v1h-1zM447 52h1v1h-1zM447 58h1v1h-1zM447 60h1v1h-1zM447 62h1v1h-1zM447 65h1v1h-1zM447 74h1v1h-1zM447 86h1v1h-1zM447 88h1v1h-1zM447 89h1v1h-1zM447 90h1v1h-1zM447 91h1v1h-1zM447 92h1v1h-1zM447 93h1v1h-1zM447 95h1v1h-1zM447 99h1v1h-1zM447 107h1v1h-1zM447 116h1v1h-1zM448 91h1v1h-1zM449 69h1v1h-1zM450 53h1v1h-1zM450 58h1v1h-1zM450 62h1v1h-1zM450 63h1v1h-1zM450 64h1v1h-1zM450 85h1v1h-1zM450 86h1v1h-1zM450 90h1v1h-1zM450 93h1v1h-1zM450 98h1v1h-1zM450 100h1v1h-1zM450 103h1v1h-1zM450 105h1v1h-1zM450 106h1v1h-1zM450 109h1v1h-1zM451 86h1v1h-1zM452 81h1v1h-1zM452 100h1v1h-1zM453 67h1v1h-1zM453 77h1v1h-1zM454 81h1v1h-1zM457 82h1v1h-1zM458 53h1v1h-1zM459 75h1v1h-1zM460 60h1v1h-1zM460 65h1v1h-1zM460 71h1v1h-1zM460 76h1v1h-1zM460 78h1v1h-1zM460 85h1v1h-1zM460 88h1v1h-1zM460 90h1v1h-1zM460 97h1v1h-1zM460 103h1v1h-1zM460 104h1v1h-1zM463 77h1v1h-1zM467 84h1v1h-1zM469 69h1v1h-1zM469 73h1v1h-1zM469 76h1v1h-1zM469 78h1v1h-1zM469 81h1v1h-1zM469 84h1v1h-1zM469 87h1v1h-1zM469 88h1v1h-1zM469 89h1v1h-1zM469 90h1v1h-1zM469 91h1v1h-1zM469 93h1v1h-1zM469 94h1v1h-1zM469 96h1v1h-1zM469 99h1v1h-1zM469 100h1v1h-1zM469 101h1v1h-1zM471 83h1v1h-1zM471 85h1v1h-1zM471 87h1v1h-1zM471 88h1v1h-1zM471 89h1v1h-1zM471 95h1v1h-1zM473 79h1v1h-1zM473 80h1v1h-1zM473 110h1v1h-1zM474 60h1v1h-1zM474 62h1v1h-1zM474 64h1v1h-1zM474 65h1v1h-1zM474 73h1v1h-1zM474 78h1v1h-1zM474 81h1v1h-1zM474 86h1v1h-1zM474 89h1v1h-1zM474 95h1v1h-1zM474 104h1v1h-1zM474 108h1v1h-1zM475 52h1v1h-1zM475 55h1v1h-1zM475 56h1v1h-1zM475 65h1v1h-1zM475 74h1v1h-1zM475 78h1v1h-1zM475 79h1v1h-1zM475 84h1v1h-1zM475 85h1v1h-1zM475 86h1v1h-1zM475 90h1v1h-1zM475 94h1v1h-1zM475 97h1v1h-1zM475 105h1v1h-1zM476 76h1v1h-1zM476 101h1v1h-1zM477 86h1v1h-1zM481 81h1v1h-1zM484 71h1v1h-1zM484 85h1v1h-1zM486 82h1v1h-1zM486 90h1v1h-1zM486 91h1v1h-1zM486 94h1v1h-1zM486 95h1v1h-1zM486 96h1v1h-1zM486 102h1v1h-1zM487 68h1v1h-1zM488 93h1v1h-1zM489 50h1v1h-1zM489 61h1v1h-1zM489 64h1v1h-1zM489 66h1v1h-1zM489 67h1v1h-1zM489 71h1v1h-1zM489 72h1v1h-1zM489 73h1v1h-1zM489 74h1v1h-1zM489 76h1v1h-1zM489 78h1v1h-1zM489 79h1v1h-1zM489 81h1v1h-1zM489 82h1v1h-1zM489 84h1v1h-1zM489 85h1v1h-1zM489 87h1v1h-1zM491 76h1v1h-1zM491 83h1v1h-1zM491 86h1v1h-1zM491 90h1v1h-1zM492 46h1v1h-1zM492 75h1v1h-1zM492 77h1v1h-1zM492 83h1v1h-1zM492 85h1v1h-1zM492 88h1v1h-1zM492 89h1v1h-1zM492 92h1v1h-1zM493 87h1v1h-1zM494 61h1v1h-1zM494 63h1v1h-1zM494 72h1v1h-1zM494 75h1v1h-1zM494 77h1v1h-1zM494 81h1v1h-1zM494 85h1v1h-1zM494 87h1v1h-1zM494 91h1v1h-1zM494 92h1v1h-1zM494 97h1v1h-1zM494 100h1v1h-1zM494 103h1v1h-1zM494 106h1v1h-1zM494 107h1v1h-1zM494 110h1v1h-1zM495 75h1v1h-1zM495 78h1v1h-1zM497 69h1v1h-1zM498 84h1v1h-1zM500 64h1v1h-1zM500 67h1v1h-1zM500 68h1v1h-1zM500 70h1v1h-1zM500 72h1v1h-1zM500 73h1v1h-1zM500 76h1v1h-1zM500 77h1v1h-1zM500 78h1v1h-1zM500 79h1v1h-1zM500 80h1v1h-1zM500 87h1v1h-1zM500 91h1v1h-1zM500 92h1v1h-1zM500 93h1v1h-1zM500 97h1v1h-1zM500 103h1v1h-1zM500 104h1v1h-1zM500 105h1v1h-1zM500 108h1v1h-1zM501 95h1v1h-1zM501 117h1v1h-1zM502 71h1v1h-1zM502 72h1v1h-1zM502 73h1v1h-1zM502 80h1v1h-1zM502 88h1v1h-1zM502 97h1v1h-1zM502 101h1v1h-1zM502 102h1v1h-1zM502 108h1v1h-1zM502 112h1v1h-1zM503 62h1v1h-1zM503 71h1v1h-1zM503 85h1v1h-1zM503 87h1v1h-1zM504 57h1v1h-1zM504 62h1v1h-1zM504 66h1v1h-1zM504 69h1v1h-1zM504 80h1v1h-1zM504 83h1v1h-1zM504 86h1v1h-1zM504 87h1v1h-1zM504 88h1v1h-1zM504 92h1v1h-1zM504 93h1v1h-1zM504 94h1v1h-1zM504 96h1v1h-1zM504 99h1v1h-1zM504 100h1v1h-1zM505 57h1v1h-1zM505 59h1v1h-1zM505 64h1v1h-1zM505 65h1v1h-1zM505 66h1v1h-1zM505 74h1v1h-1zM505 76h1v1h-1zM505 82h1v1h-1zM505 83h1v1h-1zM505 85h1v1h-1zM505 90h1v1h-1zM505 91h1v1h-1zM505 93h1v1h-1zM505 95h1v1h-1zM506 66h1v1h-1zM506 92h1v1h-1zM507 58h1v1h-1zM507 62h1v1h-1zM507 64h1v1h-1zM507 66h1v1h-1zM507 67h1v1h-1zM507 68h1v1h-1zM507 77h1v1h-1zM507 80h1v1h-1zM507 81h1v1h-1zM507 83h1v1h-1zM507 89h1v1h-1zM507 91h1v1h-1zM507 95h1v1h-1zM507 96h1v1h-1zM507 97h1v1h-1zM507 110h1v1h-1zM507 113h1v1h-1zM508 51h1v1h-1zM508 56h1v1h-1zM508 61h1v1h-1zM508 64h1v1h-1zM508 70h1v1h-1zM508 73h1v1h-1zM508 74h1v1h-1zM508 77h1v1h-1zM508 78h1v1h-1zM508 79h1v1h-1zM508 86h1v1h-1zM508 89h1v1h-1zM508 90h1v1h-1zM508 91h1v1h-1zM508 92h1v1h-1zM508 94h1v1h-1zM508 96h1v1h-1zM508 100h1v1h-1zM508 101h1v1h-1zM508 106h1v1h-1zM509 87h1v1h-1zM509 118h1v1h-1zM510 110h1v1h-1zM511 86h1v1h-1zM511 96h1v1h-1zM511 107h1v1h-1zM513 124h1v1h-1zM514 45h1v1h-1zM514 47h1v1h-1zM514 48h1v1h-1zM514 49h1v1h-1zM514 50h1v1h-1zM514 51h1v1h-1zM514 57h1v1h-1zM514 58h1v1h-1zM514 63h1v1h-1zM514 74h1v1h-1zM514 80h1v1h-1zM514 89h1v1h-1zM514 92h1v1h-1zM514 94h1v1h-1zM514 98h1v1h-1zM514 99h1v1h-1zM514 102h1v1h-1zM514 104h1v1h-1zM514 105h1v1h-1zM515 63h1v1h-1zM516 96h1v1h-1zM517 73h1v1h-1zM517 74h1v1h-1zM517 75h1v1h-1zM517 76h1v1h-1zM517 77h1v1h-1zM517 78h1v1h-1zM517 79h1v1h-1zM517 86h1v1h-1zM517 88h1v1h-1zM517 92h1v1h-1zM517 93h1v1h-1zM517 97h1v1h-1zM517 98h1v1h-1zM517 99h1v1h-1zM517 113h1v1h-1zM519 68h1v1h-1zM519 91h1v1h-1zM520 67h1v1h-1zM520 90h1v1h-1zM521 48h1v1h-1zM521 61h1v1h-1zM521 62h1v1h-1zM521 73h1v1h-1zM521 75h1v1h-1zM521 80h1v1h-1zM521 82h1v1h-1zM521 83h1v1h-1zM521 88h1v1h-1zM521 89h1v1h-1zM521 91h1v1h-1zM522 74h1v1h-1zM522 75h1v1h-1zM522 98h1v1h-1zM522 114h1v1h-1zM523 76h1v1h-1zM524 100h1v1h-1zM524 116h1v1h-1zM526 59h1v1h-1zM526 61h1v1h-1zM526 68h1v1h-1zM526 74h1v1h-1zM526 76h1v1h-1zM526 79h1v1h-1zM526 80h1v1h-1zM526 96h1v1h-1zM526 100h1v1h-1zM526 103h1v1h-1zM526 105h1v1h-1zM526 106h1v1h-1zM528 113h1v1h-1zM529 94h1v1h-1zM530 58h1v1h-1zM530 62h1v1h-1zM531 61h1v1h-1zM531 63h1v1h-1zM531 68h1v1h-1zM531 77h1v1h-1zM533 51h1v1h-1zM533 58h1v1h-1zM533 61h1v1h-1zM533 67h1v1h-1zM533 76h1v1h-1zM533 77h1v1h-1zM533 78h1v1h-1zM533 80h1v1h-1zM533 81h1v1h-1zM533 83h1v1h-1zM533 88h1v1h-1zM533 89h1v1h-1zM533 93h1v1h-1zM533 94h1v1h-1zM534 80h1v1h-1zM534 100h1v1h-1zM535 50h1v1h-1zM536 64h1v1h-1zM536 66h1v1h-1zM536 68h1v1h-1zM536 69h1v1h-1zM536 70h1v1h-1zM536 72h1v1h-1zM536 74h1v1h-1zM536 75h1v1h-1zM536 80h1v1h-1zM536 86h1v1h-1zM536 87h1v1h-1zM536 88h1v1h-1zM536 89h1v1h-1zM536 96h1v1h-1zM536 98h1v1h-1zM536 100h1v1h-1zM536 101h1v1h-1zM536 105h1v1h-1zM536 107h1v1h-1zM537 89h1v1h-1zM537 92h1v1h-1zM537 93h1v1h-1zM537 96h1v1h-1zM537 99h1v1h-1zM537 100h1v1h-1zM537 101h1v1h-1zM537 107h1v1h-1zM538 82h1v1h-1zM540 66h1v1h-1zM540 68h1v1h-1zM540 73h1v1h-1zM540 74h1v1h-1zM540 75h1v1h-1zM540 77h1v1h-1zM540 80h1v1h-1zM540 90h1v1h-1zM540 92h1v1h-1zM540 97h1v1h-1zM540 98h1v1h-1zM541 74h1v1h-1zM542 73h1v1h-1zM542 74h1v1h-1zM542 79h1v1h-1zM542 86h1v1h-1zM542 93h1v1h-1zM542 94h1v1h-1zM542 96h1v1h-1zM542 99h1v1h-1zM542 103h1v1h-1zM542 105h1v1h-1zM544 77h1v1h-1zM544 86h1v1h-1zM544 93h1v1h-1zM544 95h1v1h-1zM544 97h1v1h-1zM544 101h1v1h-1zM544 105h1v1h-1zM545 67h1v1h-1zM545 68h1v1h-1zM545 76h1v1h-1zM545 79h1v1h-1zM545 82h1v1h-1zM545 85h1v1h-1zM545 87h1v1h-1zM545 91h1v1h-1zM545 93h1v1h-1zM545 96h1v1h-1zM545 98h1v1h-1zM545 101h1v1h-1zM545 102h1v1h-1zM545 106h1v1h-1zM545 107h1v1h-1zM545 109h1v1h-1zM545 113h1v1h-1zM546 78h1v1h-1zM546 85h1v1h-1zM546 87h1v1h-1zM546 91h1v1h-1zM546 93h1v1h-1zM546 100h1v1h-1zM546 101h1v1h-1zM546 102h1v1h-1zM546 104h1v1h-1zM548 67h1v1h-1zM548 71h1v1h-1zM548 73h1v1h-1zM548 77h1v1h-1zM548 78h1v1h-1zM548 79h1v1h-1zM548 80h1v1h-1zM548 86h1v1h-1zM548 88h1v1h-1zM548 90h1v1h-1zM548 100h1v1h-1zM548 104h1v1h-1zM548 106h1v1h-1zM549 83h1v1h-1zM550 82h1v1h-1zM550 83h1v1h-1zM550 84h1v1h-1zM550 85h1v1h-1zM550 86h1v1h-1zM550 92h1v1h-1zM550 96h1v1h-1zM550 99h1v1h-1zM550 101h1v1h-1zM550 103h1v1h-1zM551 82h1v1h-1zM552 62h1v1h-1zM552 63h1v1h-1zM552 64h1v1h-1zM552 67h1v1h-1zM552 68h1v1h-1zM552 74h1v1h-1zM552 75h1v1h-1zM552 78h1v1h-1zM552 82h1v1h-1zM552 84h1v1h-1zM552 85h1v1h-1zM552 93h1v1h-1zM552 95h1v1h-1zM552 105h1v1h-1zM552 106h1v1h-1zM552 108h1v1h-1zM552 110h1v1h-1zM552 111h1v1h-1zM552 113h1v1h-1zM552 114h1v1h-1zM552 115h1v1h-1zM552 117h1v1h-1zM552 120h1v1h-1zM553 58h1v1h-1zM553 68h1v1h-1zM553 73h1v1h-1zM553 78h1v1h-1zM553 79h1v1h-1zM553 81h1v1h-1zM553 82h1v1h-1zM553 86h1v1h-1zM553 87h1v1h-1zM553 88h1v1h-1zM553 93h1v1h-1zM553 94h1v1h-1zM553 117h1v1h-1zM554 66h1v1h-1zM554 69h1v1h-1zM554 71h1v1h-1zM554 73h1v1h-1zM554 74h1v1h-1zM554 77h1v1h-1zM554 80h1v1h-1zM554 81h1v1h-1zM554 86h1v1h-1zM554 92h1v1h-1zM554 93h1v1h-1zM554 96h1v1h-1zM554 97h1v1h-1zM554 98h1v1h-1zM554 106h1v1h-1zM554 107h1v1h-1zM554 110h1v1h-1zM557 68h1v1h-1zM557 92h1v1h-1zM557 99h1v1h-1zM557 101h1v1h-1zM558 54h1v1h-1zM558 57h1v1h-1zM558 66h1v1h-1zM558 67h1v1h-1zM558 75h1v1h-1zM558 78h1v1h-1zM558 80h1v1h-1zM558 84h1v1h-1zM558 86h1v1h-1zM558 87h1v1h-1zM558 89h1v1h-1zM558 95h1v1h-1zM558 97h1v1h-1zM558 98h1v1h-1zM558 99h1v1h-1zM558 103h1v1h-1zM558 104h1v1h-1zM558 107h1v1h-1zM558 109h1v1h-1zM558 114h1v1h-1zM558 115h1v1h-1zM558 117h1v1h-1zM558 118h1v1h-1zM558 120h1v1h-1zM559 67h1v1h-1zM559 69h1v1h-1zM559 79h1v1h-1zM559 84h1v1h-1zM559 92h1v1h-1zM559 93h1v1h-1zM559 98h1v1h-1zM559 99h1v1h-1zM559 105h1v1h-1zM559 106h1v1h-1zM560 91h1v1h-1zM561 66h1v1h-1zM561 89h1v1h-1zM561 112h1v1h-1zM562 82h1v1h-1zM562 86h1v1h-1zM562 91h1v1h-1zM563 61h1v1h-1zM563 76h1v1h-1zM563 78h1v1h-1zM563 89h1v1h-1zM563 91h1v1h-1zM563 95h1v1h-1zM563 96h1v1h-1zM564 82h1v1h-1zM565 65h1v1h-1zM565 67h1v1h-1zM565 68h1v1h-1zM565 69h1v1h-1zM565 74h1v1h-1zM565 77h1v1h-1zM565 82h1v1h-1zM565 83h1v1h-1zM565 84h1v1h-1zM565 85h1v1h-1zM565 88h1v1h-1zM565 93h1v1h-1zM565 97h1v1h-1zM565 98h1v1h-1zM567 63h1v1h-1zM570 48h1v1h-1zM570 53h1v1h-1zM570 55h1v1h-1zM570 56h1v1h-1zM570 60h1v1h-1zM570 61h1v1h-1zM570 62h1v1h-1zM570 66h1v1h-1zM570 67h1v1h-1zM570 68h1v1h-1zM570 69h1v1h-1zM570 75h1v1h-1zM570 81h1v1h-1zM570 87h1v1h-1zM570 90h1v1h-1zM571 68h1v1h-1zM571 73h1v1h-1zM571 74h1v1h-1zM571 75h1v1h-1zM571 76h1v1h-1zM571 78h1v1h-1zM571 83h1v1h-1zM571 84h1v1h-1zM571 86h1v1h-1zM571 91h1v1h-1zM571 93h1v1h-1zM571 97h1v1h-1zM571 107h1v1h-1zM571 114h1v1h-1zM572 51h1v1h-1zM572 52h1v1h-1zM572 53h1v1h-1zM572 58h1v1h-1zM572 61h1v1h-1zM572 67h1v1h-1zM572 68h1v1h-1zM572 69h1v1h-1zM572 70h1v1h-1zM572 75h1v1h-1zM572 81h1v1h-1zM572 87h1v1h-1zM572 88h1v1h-1zM572 91h1v1h-1zM572 98h1v1h-1zM572 103h1v1h-1zM572 104h1v1h-1zM572 106h1v1h-1zM572 107h1v1h-1zM572 108h1v1h-1zM572 116h1v1h-1zM573 68h1v1h-1zM573 72h1v1h-1zM575 43h1v1h-1zM575 46h1v1h-1zM575 55h1v1h-1zM575 57h1v1h-1zM575 58h1v1h-1zM575 63h1v1h-1zM575 64h1v1h-1zM575 67h1v1h-1zM575 68h1v1h-1zM575 77h1v1h-1zM575 79h1v1h-1zM575 81h1v1h-1zM575 91h1v1h-1zM575 93h1v1h-1zM575 95h1v1h-1zM575 96h1v1h-1zM576 44h1v1h-1zM576 47h1v1h-1zM576 63h1v1h-1zM576 81h1v1h-1zM577 62h1v1h-1zM577 129h1v1h-1zM578 76h1v1h-1zM579 55h1v1h-1zM579 59h1v1h-1zM579 63h1v1h-1zM579 68h1v1h-1zM579 70h1v1h-1zM579 73h1v1h-1zM579 74h1v1h-1zM579 75h1v1h-1zM579 76h1v1h-1zM579 79h1v1h-1zM579 84h1v1h-1zM579 85h1v1h-1zM579 89h1v1h-1zM579 90h1v1h-1zM579 94h1v1h-1zM579 95h1v1h-1zM579 96h1v1h-1zM579 100h1v1h-1zM579 101h1v1h-1zM579 106h1v1h-1zM579 107h1v1h-1zM580 84h1v1h-1zM583 62h1v1h-1zM583 66h1v1h-1zM583 68h1v1h-1zM583 75h1v1h-1zM583 78h1v1h-1zM583 87h1v1h-1zM583 88h1v1h-1zM583 89h1v1h-1zM584 64h1v1h-1zM585 61h1v1h-1zM585 62h1v1h-1zM585 63h1v1h-1zM585 67h1v1h-1zM585 70h1v1h-1zM585 72h1v1h-1zM585 74h1v1h-1zM585 79h1v1h-1zM585 82h1v1h-1zM585 86h1v1h-1zM585 89h1v1h-1zM585 91h1v1h-1zM585 95h1v1h-1zM585 96h1v1h-1zM586 65h1v1h-1zM586 77h1v1h-1zM587 63h1v1h-1zM587 64h1v1h-1zM587 66h1v1h-1zM587 68h1v1h-1zM587 70h1v1h-1zM587 73h1v1h-1zM587 74h1v1h-1zM587 78h1v1h-1zM587 87h1v1h-1zM587 90h1v1h-1zM587 93h1v1h-1zM588 57h1v1h-1zM588 58h1v1h-1zM588 65h1v1h-1zM588 68h1v1h-1zM588 74h1v1h-1zM588 76h1v1h-1zM588 77h1v1h-1zM588 79h1v1h-1zM588 80h1v1h-1zM588 84h1v1h-1zM588 85h1v1h-1zM588 86h1v1h-1zM588 88h1v1h-1zM588 94h1v1h-1zM588 97h1v1h-1zM588 102h1v1h-1zM588 107h1v1h-1zM589 61h1v1h-1zM589 62h1v1h-1zM589 63h1v1h-1zM589 65h1v1h-1zM589 66h1v1h-1zM589 67h1v1h-1zM589 70h1v1h-1zM589 72h1v1h-1zM589 73h1v1h-1zM589 75h1v1h-1zM589 77h1v1h-1zM589 80h1v1h-1zM589 81h1v1h-1zM589 83h1v1h-1zM589 85h1v1h-1zM589 87h1v1h-1zM589 94h1v1h-1zM589 97h1v1h-1zM589 98h1v1h-1zM589 99h1v1h-1zM589 102h1v1h-1zM589 103h1v1h-1zM589 106h1v1h-1zM589 107h1v1h-1zM589 109h1v1h-1zM590 44h1v1h-1zM590 60h1v1h-1zM590 70h1v1h-1zM590 73h1v1h-1zM590 74h1v1h-1zM590 75h1v1h-1zM590 76h1v1h-1zM590 79h1v1h-1zM590 83h1v1h-1zM590 85h1v1h-1zM590 101h1v1h-1zM591 57h1v1h-1zM591 60h1v1h-1zM591 66h1v1h-1zM591 70h1v1h-1zM591 71h1v1h-1zM591 73h1v1h-1zM591 74h1v1h-1zM591 82h1v1h-1zM591 83h1v1h-1zM591 94h1v1h-1zM591 95h1v1h-1zM591 98h1v1h-1zM591 99h1v1h-1zM591 100h1v1h-1zM591 102h1v1h-1zM591 109h1v1h-1zM591 110h1v1h-1zM591 112h1v1h-1zM591 113h1v1h-1zM591 114h1v1h-1zM592 68h1v1h-1zM592 75h1v1h-1zM592 77h1v1h-1zM592 80h1v1h-1zM592 85h1v1h-1zM592 89h1v1h-1zM592 93h1v1h-1zM592 95h1v1h-1zM593 58h1v1h-1zM593 61h1v1h-1zM593 63h1v1h-1zM593 64h1v1h-1zM593 66h1v1h-1zM593 68h1v1h-1zM593 71h1v1h-1zM593 72h1v1h-1zM593 74h1v1h-1zM593 76h1v1h-1zM593 77h1v1h-1zM593 81h1v1h-1zM593 85h1v1h-1zM593 89h1v1h-1zM593 91h1v1h-1zM593 92h1v1h-1zM593 94h1v1h-1zM593 96h1v1h-1zM593 97h1v1h-1zM593 100h1v1h-1zM593 104h1v1h-1zM593 106h1v1h-1zM593 108h1v1h-1zM593 109h1v1h-1zM594 49h1v1h-1zM594 69h1v1h-1zM595 68h1v1h-1zM595 70h1v1h-1zM595 73h1v1h-1zM595 77h1v1h-1zM595 80h1v1h-1zM595 87h1v1h-1zM596 71h1v1h-1zM596 72h1v1h-1zM596 73h1v1h-1zM596 77h1v1h-1zM596 87h1v1h-1zM596 88h1v1h-1zM596 91h1v1h-1zM596 95h1v1h-1zM596 96h1v1h-1zM596 100h1v1h-1zM596 102h1v1h-1zM596 103h1v1h-1zM596 104h1v1h-1zM596 105h1v1h-1zM596 108h1v1h-1zM596 128h1v1h-1zM597 67h1v1h-1zM597 71h1v1h-1zM597 88h1v1h-1zM598 92h1v1h-1zM598 101h1v1h-1zM599 86h1v1h-1zM600 57h1v1h-1zM600 58h1v1h-1zM600 60h1v1h-1zM600 65h1v1h-1zM600 69h1v1h-1zM600 75h1v1h-1zM600 76h1v1h-1zM600 79h1v1h-1zM600 85h1v1h-1zM600 90h1v1h-1zM600 94h1v1h-1zM602 77h1v1h-1zM602 80h1v1h-1zM603 56h1v1h-1zM603 57h1v1h-1zM603 58h1v1h-1zM603 64h1v1h-1zM603 66h1v1h-1zM603 72h1v1h-1zM603 74h1v1h-1zM603 76h1v1h-1zM603 81h1v1h-1zM603 85h1v1h-1zM603 87h1v1h-1zM603 89h1v1h-1zM603 92h1v1h-1zM603 95h1v1h-1zM603 99h1v1h-1zM603 100h1v1h-1zM603 103h1v1h-1zM603 111h1v1h-1zM603 113h1v1h-1zM603 119h1v1h-1zM603 122h1v1h-1zM604 55h1v1h-1zM604 85h1v1h-1zM605 54h1v1h-1zM605 81h1v1h-1zM606 64h1v1h-1zM606 91h1v1h-1zM607 50h1v1h-1zM607 51h1v1h-1zM607 52h1v1h-1zM607 64h1v1h-1zM607 68h1v1h-1zM607 69h1v1h-1zM607 72h1v1h-1zM607 79h1v1h-1zM607 80h1v1h-1zM607 81h1v1h-1zM607 82h1v1h-1zM607 93h1v1h-1zM607 95h1v1h-1zM608 85h1v1h-1zM608 99h1v1h-1zM609 71h1v1h-1zM609 95h1v1h-1zM611 58h1v1h-1zM611 62h1v1h-1zM611 76h1v1h-1zM611 80h1v1h-1zM611 85h1v1h-1zM611 90h1v1h-1zM611 91h1v1h-1zM611 96h1v1h-1zM611 99h1v1h-1zM611 100h1v1h-1zM611 102h1v1h-1zM611 109h1v1h-1zM612 60h1v1h-1zM612 61h1v1h-1zM612 63h1v1h-1zM612 65h1v1h-1zM612 67h1v1h-1zM612 69h1v1h-1zM612 73h1v1h-1zM612 75h1v1h-1zM612 76h1v1h-1zM612 78h1v1h-1zM612 79h1v1h-1zM612 82h1v1h-1zM612 86h1v1h-1zM612 87h1v1h-1zM612 96h1v1h-1zM612 97h1v1h-1zM612 98h1v1h-1zM612 100h1v1h-1zM612 102h1v1h-1zM612 104h1v1h-1zM612 108h1v1h-1zM612 110h1v1h-1zM612 111h1v1h-1zM612 112h1v1h-1zM612 113h1v1h-1zM612 114h1v1h-1zM613 64h1v1h-1zM613 67h1v1h-1zM613 87h1v1h-1zM613 94h1v1h-1zM614 45h1v1h-1zM614 51h1v1h-1zM614 53h1v1h-1zM614 69h1v1h-1zM614 72h1v1h-1zM614 78h1v1h-1zM614 79h1v1h-1zM614 82h1v1h-1zM614 83h1v1h-1zM614 84h1v1h-1zM614 85h1v1h-1zM614 86h1v1h-1zM614 95h1v1h-1zM614 96h1v1h-1zM615 49h1v1h-1zM615 53h1v1h-1zM615 54h1v1h-1zM615 61h1v1h-1zM615 66h1v1h-1zM615 68h1v1h-1zM615 79h1v1h-1zM615 82h1v1h-1zM615 84h1v1h-1zM615 86h1v1h-1zM615 91h1v1h-1zM615 94h1v1h-1zM615 96h1v1h-1zM616 69h1v1h-1zM617 64h1v1h-1zM617 65h1v1h-1zM617 66h1v1h-1zM617 69h1v1h-1zM617 71h1v1h-1zM617 72h1v1h-1zM617 73h1v1h-1zM617 75h1v1h-1zM617 77h1v1h-1zM617 80h1v1h-1zM617 81h1v1h-1zM617 82h1v1h-1zM617 84h1v1h-1zM617 86h1v1h-1zM617 90h1v1h-1zM617 91h1v1h-1zM617 92h1v1h-1zM617 98h1v1h-1zM617 99h1v1h-1zM617 101h1v1h-1zM617 103h1v1h-1zM617 104h1v1h-1zM617 106h1v1h-1zM617 108h1v1h-1zM617 109h1v1h-1zM617 111h1v1h-1zM618 66h1v1h-1zM618 70h1v1h-1zM618 71h1v1h-1zM618 77h1v1h-1zM618 79h1v1h-1zM618 81h1v1h-1zM618 82h1v1h-1zM618 83h1v1h-1zM618 87h1v1h-1zM618 88h1v1h-1zM618 94h1v1h-1zM619 95h1v1h-1zM620 74h1v1h-1zM620 75h1v1h-1zM620 83h1v1h-1zM621 65h1v1h-1zM621 73h1v1h-1zM621 74h1v1h-1zM621 78h1v1h-1zM621 80h1v1h-1zM621 83h1v1h-1zM621 86h1v1h-1zM621 90h1v1h-1zM621 91h1v1h-1zM621 92h1v1h-1zM621 94h1v1h-1zM621 102h1v1h-1zM621 104h1v1h-1zM621 107h1v1h-1zM621 109h1v1h-1zM621 110h1v1h-1zM621 111h1v1h-1zM621 113h1v1h-1zM623 60h1v1h-1zM623 66h1v1h-1zM623 69h1v1h-1zM623 81h1v1h-1zM623 83h1v1h-1zM623 85h1v1h-1zM623 88h1v1h-1zM623 90h1v1h-1zM623 91h1v1h-1zM623 94h1v1h-1zM624 76h1v1h-1zM624 88h1v1h-1zM625 74h1v1h-1zM625 76h1v1h-1zM625 89h1v1h-1zM625 104h1v1h-1zM626 50h1v1h-1zM626 72h1v1h-1zM626 73h1v1h-1zM626 74h1v1h-1zM626 76h1v1h-1zM626 79h1v1h-1zM626 83h1v1h-1zM626 86h1v1h-1zM626 87h1v1h-1zM626 88h1v1h-1zM626 92h1v1h-1zM626 93h1v1h-1zM627 77h1v1h-1zM627 90h1v1h-1zM627 103h1v1h-1zM628 74h1v1h-1zM628 80h1v1h-1zM628 81h1v1h-1zM628 82h1v1h-1zM629 77h1v1h-1zM631 78h1v1h-1zM631 79h1v1h-1zM631 81h1v1h-1zM631 82h1v1h-1zM631 84h1v1h-1zM631 86h1v1h-1zM631 87h1v1h-1zM631 98h1v1h-1zM632 120h1v1h-1zM633 53h1v1h-1zM633 89h1v1h-1zM633 93h1v1h-1zM634 53h1v1h-1zM634 67h1v1h-1zM634 71h1v1h-1zM634 75h1v1h-1zM634 77h1v1h-1zM634 84h1v1h-1zM634 85h1v1h-1zM634 86h1v1h-1zM634 91h1v1h-1zM634 92h1v1h-1zM634 97h1v1h-1zM634 98h1v1h-1zM634 99h1v1h-1zM634 101h1v1h-1zM634 102h1v1h-1zM634 107h1v1h-1zM635 46h1v1h-1zM635 52h1v1h-1zM635 55h1v1h-1zM635 60h1v1h-1zM635 77h1v1h-1zM635 80h1v1h-1zM635 82h1v1h-1zM635 83h1v1h-1zM635 85h1v1h-1zM635 87h1v1h-1zM635 99h1v1h-1zM635 101h1v1h-1zM635 105h1v1h-1zM635 108h1v1h-1zM635 109h1v1h-1zM635 111h1v1h-1zM635 112h1v1h-1zM635 114h1v1h-1zM635 117h1v1h-1zM635 118h1v1h-1zM636 86h1v1h-1zM636 94h1v1h-1zM636 112h1v1h-1zM637 47h1v1h-1zM637 54h1v1h-1zM637 57h1v1h-1zM637 59h1v1h-1zM637 60h1v1h-1zM637 62h1v1h-1zM637 65h1v1h-1zM637 66h1v1h-1zM637 68h1v1h-1zM637 74h1v1h-1zM637 79h1v1h-1zM637 86h1v1h-1zM637 87h1v1h-1zM637 89h1v1h-1zM637 91h1v1h-1zM637 92h1v1h-1zM637 95h1v1h-1zM637 96h1v1h-1zM637 103h1v1h-1zM637 106h1v1h-1zM637 108h1v1h-1zM637 112h1v1h-1zM638 48h1v1h-1zM638 49h1v1h-1zM638 61h1v1h-1zM638 68h1v1h-1zM638 76h1v1h-1zM638 83h1v1h-1zM638 84h1v1h-1zM638 93h1v1h-1zM638 95h1v1h-1zM638 97h1v1h-1zM638 98h1v1h-1zM638 100h1v1h-1zM638 101h1v1h-1zM638 105h1v1h-1zM638 111h1v1h-1zM639 53h1v1h-1zM639 89h1v1h-1zM640 56h1v1h-1zM640 69h1v1h-1zM640 74h1v1h-1zM640 76h1v1h-1zM640 80h1v1h-1zM640 84h1v1h-1zM640 86h1v1h-1zM640 91h1v1h-1zM640 95h1v1h-1zM640 97h1v1h-1zM640 98h1v1h-1zM640 99h1v1h-1zM640 100h1v1h-1zM640 102h1v1h-1zM640 103h1v1h-1zM641 61h1v1h-1zM641 71h1v1h-1zM641 77h1v1h-1zM641 80h1v1h-1zM642 69h1v1h-1zM643 53h1v1h-1zM643 82h1v1h-1zM643 83h1v1h-1zM643 93h1v1h-1zM643 95h1v1h-1zM643 97h1v1h-1zM645 60h1v1h-1zM645 64h1v1h-1zM645 76h1v1h-1zM645 82h1v1h-1zM645 93h1v1h-1zM646 52h1v1h-1zM646 56h1v1h-1zM646 58h1v1h-1zM646 59h1v1h-1zM646 60h1v1h-1zM646 62h1v1h-1zM646 65h1v1h-1zM646 76h1v1h-1zM646 79h1v1h-1zM646 84h1v1h-1zM646 89h1v1h-1zM646 94h1v1h-1zM646 97h1v1h-1zM646 98h1v1h-1zM646 100h1v1h-1zM646 107h1v1h-1zM646 109h1v1h-1zM646 113h1v1h-1zM646 114h1v1h-1zM646 118h1v1h-1zM646 119h1v1h-1zM646 121h1v1h-1zM648 51h1v1h-1zM648 52h1v1h-1zM648 54h1v1h-1zM648 56h1v1h-1zM648 57h1v1h-1zM648 58h1v1h-1zM648 59h1v1h-1zM648 63h1v1h-1zM648 66h1v1h-1zM648 67h1v1h-1zM648 68h1v1h-1zM648 69h1v1h-1zM648 70h1v1h-1zM648 72h1v1h-1zM648 74h1v1h-1zM648 83h1v1h-1zM648 92h1v1h-1zM648 95h1v1h-1zM648 96h1v1h-1zM648 102h1v1h-1zM648 104h1v1h-1zM648 105h1v1h-1zM649 67h1v1h-1zM649 69h1v1h-1zM649 71h1v1h-1zM649 75h1v1h-1zM649 76h1v1h-1zM649 80h1v1h-1zM649 82h1v1h-1zM649 89h1v1h-1zM649 91h1v1h-1zM649 94h1v1h-1zM650 81h1v1h-1zM650 85h1v1h-1zM650 89h1v1h-1zM651 73h1v1h-1zM652 59h1v1h-1zM652 67h1v1h-1zM652 76h1v1h-1zM652 77h1v1h-1zM652 83h1v1h-1zM652 86h1v1h-1zM652 90h1v1h-1zM652 94h1v1h-1zM652 96h1v1h-1zM653 74h1v1h-1zM653 81h1v1h-1zM653 87h1v1h-1zM653 91h1v1h-1zM653 93h1v1h-1zM653 95h1v1h-1zM653 96h1v1h-1zM654 65h1v1h-1zM654 75h1v1h-1zM654 79h1v1h-1zM654 87h1v1h-1zM654 88h1v1h-1zM654 90h1v1h-1zM654 91h1v1h-1zM654 96h1v1h-1zM654 97h1v1h-1zM655 55h1v1h-1zM655 58h1v1h-1zM655 65h1v1h-1zM655 66h1v1h-1zM655 70h1v1h-1zM655 72h1v1h-1zM655 79h1v1h-1zM655 80h1v1h-1zM655 90h1v1h-1zM655 96h1v1h-1zM655 98h1v1h-1zM655 99h1v1h-1zM655 100h1v1h-1zM655 101h1v1h-1zM656 85h1v1h-1zM656 96h1v1h-1zM656 97h1v1h-1zM657 65h1v1h-1zM657 66h1v1h-1zM657 72h1v1h-1zM657 75h1v1h-1zM657 84h1v1h-1zM657 85h1v1h-1zM657 87h1v1h-1zM657 90h1v1h-1zM657 93h1v1h-1zM657 94h1v1h-1zM657 97h1v1h-1zM657 98h1v1h-1zM657 103h1v1h-1zM658 71h1v1h-1zM658 82h1v1h-1zM659 114h1v1h-1zM660 50h1v1h-1zM660 54h1v1h-1zM660 61h1v1h-1zM660 67h1v1h-1zM660 72h1v1h-1zM660 74h1v1h-1zM660 82h1v1h-1zM660 83h1v1h-1zM660 89h1v1h-1zM660 91h1v1h-1zM660 96h1v1h-1zM660 109h1v1h-1zM661 47h1v1h-1zM661 51h1v1h-1zM661 60h1v1h-1zM661 73h1v1h-1zM661 80h1v1h-1zM661 89h1v1h-1zM661 91h1v1h-1zM661 103h1v1h-1zM661 105h1v1h-1zM661 107h1v1h-1zM661 111h1v1h-1zM661 112h1v1h-1zM662 103h1v1h-1zM663 60h1v1h-1zM663 62h1v1h-1zM663 63h1v1h-1zM663 66h1v1h-1zM663 68h1v1h-1zM663 71h1v1h-1zM663 80h1v1h-1zM663 82h1v1h-1zM663 85h1v1h-1zM663 87h1v1h-1zM663 88h1v1h-1zM663 93h1v1h-1zM663 94h1v1h-1zM663 97h1v1h-1zM663 98h1v1h-1zM663 99h1v1h-1zM664 58h1v1h-1zM664 59h1v1h-1zM664 62h1v1h-1zM664 65h1v1h-1zM664 67h1v1h-1zM664 68h1v1h-1zM664 71h1v1h-1zM664 75h1v1h-1zM664 76h1v1h-1zM664 78h1v1h-1zM664 84h1v1h-1zM664 85h1v1h-1zM664 86h1v1h-1zM664 87h1v1h-1zM664 88h1v1h-1zM664 94h1v1h-1zM664 95h1v1h-1zM664 103h1v1h-1zM664 113h1v1h-1zM665 76h1v1h-1zM665 106h1v1h-1zM666 73h1v1h-1zM666 75h1v1h-1zM666 78h1v1h-1zM666 79h1v1h-1zM666 89h1v1h-1zM666 91h1v1h-1zM666 92h1v1h-1zM666 106h1v1h-1zM666 108h1v1h-1zM666 109h1v1h-1zM666 110h1v1h-1zM666 111h1v1h-1zM666 112h1v1h-1zM667 75h1v1h-1zM667 82h1v1h-1zM667 83h1v1h-1zM667 92h1v1h-1zM667 95h1v1h-1zM667 99h1v1h-1zM667 100h1v1h-1zM667 101h1v1h-1zM667 110h1v1h-1zM667 111h1v1h-1zM668 54h1v1h-1zM668 65h1v1h-1zM668 68h1v1h-1zM668 70h1v1h-1zM668 71h1v1h-1zM668 72h1v1h-1zM668 73h1v1h-1zM668 75h1v1h-1zM668 76h1v1h-1zM668 77h1v1h-1zM668 78h1v1h-1zM668 85h1v1h-1zM668 86h1v1h-1zM668 89h1v1h-1zM668 91h1v1h-1zM668 95h1v1h-1zM668 97h1v1h-1zM668 103h1v1h-1zM668 104h1v1h-1zM668 112h1v1h-1zM668 113h1v1h-1zM668 117h1v1h-1zM668 120h1v1h-1zM668 122h1v1h-1zM668 125h1v1h-1zM668 126h1v1h-1zM669 53h1v1h-1zM669 54h1v1h-1zM669 59h1v1h-1zM669 69h1v1h-1zM669 70h1v1h-1zM669 76h1v1h-1zM669 79h1v1h-1zM669 83h1v1h-1zM669 84h1v1h-1zM669 90h1v1h-1zM669 91h1v1h-1zM669 92h1v1h-1zM669 93h1v1h-1zM669 95h1v1h-1zM669 96h1v1h-1zM669 97h1v1h-1zM669 98h1v1h-1zM669 100h1v1h-1zM669 101h1v1h-1zM669 103h1v1h-1zM670 48h1v1h-1zM670 53h1v1h-1zM670 55h1v1h-1zM670 64h1v1h-1zM670 75h1v1h-1zM670 80h1v1h-1zM670 87h1v1h-1zM670 88h1v1h-1zM670 90h1v1h-1zM670 91h1v1h-1zM670 92h1v1h-1zM670 95h1v1h-1zM671 47h1v1h-1zM671 51h1v1h-1zM671 52h1v1h-1zM671 59h1v1h-1zM671 62h1v1h-1zM671 64h1v1h-1zM671 65h1v1h-1zM671 68h1v1h-1zM671 72h1v1h-1zM671 73h1v1h-1zM671 75h1v1h-1zM671 77h1v1h-1zM671 79h1v1h-1zM671 80h1v1h-1zM671 84h1v1h-1zM671 85h1v1h-1zM671 87h1v1h-1zM671 90h1v1h-1zM671 94h1v1h-1zM671 96h1v1h-1zM671 98h1v1h-1zM671 100h1v1h-1zM671 103h1v1h-1zM671 106h1v1h-1zM671 108h1v1h-1zM671 113h1v1h-1zM672 58h1v1h-1zM672 60h1v1h-1zM672 62h1v1h-1zM672 63h1v1h-1zM672 65h1v1h-1zM672 66h1v1h-1zM672 74h1v1h-1zM672 75h1v1h-1zM672 82h1v1h-1zM672 87h1v1h-1zM672 91h1v1h-1zM672 96h1v1h-1zM672 97h1v1h-1zM672 98h1v1h-1zM672 99h1v1h-1zM672 104h1v1h-1zM672 105h1v1h-1zM672 106h1v1h-1zM672 107h1v1h-1zM672 112h1v1h-1zM672 113h1v1h-1zM672 115h1v1h-1zM673 62h1v1h-1zM673 65h1v1h-1zM673 72h1v1h-1zM673 76h1v1h-1zM673 78h1v1h-1zM673 81h1v1h-1zM673 82h1v1h-1zM673 83h1v1h-1zM673 87h1v1h-1zM673 91h1v1h-1zM673 92h1v1h-1zM673 93h1v1h-1zM673 95h1v1h-1zM674 78h1v1h-1zM674 95h1v1h-1zM675 78h1v1h-1zM676 62h1v1h-1zM676 63h1v1h-1zM676 64h1v1h-1zM676 68h1v1h-1zM676 74h1v1h-1zM676 76h1v1h-1zM676 78h1v1h-1zM676 79h1v1h-1zM676 85h1v1h-1zM676 90h1v1h-1zM676 91h1v1h-1zM676 92h1v1h-1zM676 93h1v1h-1zM676 97h1v1h-1zM677 67h1v1h-1zM677 74h1v1h-1zM677 100h1v1h-1zM678 63h1v1h-1zM678 68h1v1h-1zM678 69h1v1h-1zM678 78h1v1h-1zM678 79h1v1h-1zM678 84h1v1h-1zM678 92h1v1h-1zM678 93h1v1h-1zM678 95h1v1h-1zM678 97h1v1h-1zM678 99h1v1h-1zM679 64h1v1h-1zM679 65h1v1h-1zM679 66h1v1h-1zM679 72h1v1h-1zM679 74h1v1h-1zM679 76h1v1h-1zM679 78h1v1h-1zM679 79h1v1h-1zM679 81h1v1h-1zM679 90h1v1h-1zM679 95h1v1h-1zM679 97h1v1h-1zM679 102h1v1h-1zM679 103h1v1h-1zM680 85h1v1h-1zM680 106h1v1h-1zM681 60h1v1h-1zM681 61h1v1h-1zM681 62h1v1h-1zM681 66h1v1h-1zM681 67h1v1h-1zM681 68h1v1h-1zM681 69h1v1h-1zM681 70h1v1h-1zM681 72h1v1h-1zM681 74h1v1h-1zM681 79h1v1h-1zM681 83h1v1h-1zM681 85h1v1h-1zM682 75h1v1h-1zM682 83h1v1h-1zM682 99h1v1h-1zM683 59h1v1h-1zM683 60h1v1h-1zM683 61h1v1h-1zM683 62h1v1h-1zM683 64h1v1h-1zM683 67h1v1h-1zM683 69h1v1h-1zM683 72h1v1h-1zM683 74h1v1h-1zM683 75h1v1h-1zM683 82h1v1h-1zM683 85h1v1h-1zM683 86h1v1h-1zM683 88h1v1h-1zM683 89h1v1h-1zM683 91h1v1h-1zM683 92h1v1h-1zM683 93h1v1h-1zM683 94h1v1h-1zM683 95h1v1h-1zM683 101h1v1h-1zM684 60h1v1h-1zM684 62h1v1h-1zM684 63h1v1h-1zM684 65h1v1h-1zM684 66h1v1h-1zM684 68h1v1h-1zM684 69h1v1h-1zM684 70h1v1h-1zM684 73h1v1h-1zM684 74h1v1h-1zM684 78h1v1h-1zM684 79h1v1h-1zM684 83h1v1h-1zM684 86h1v1h-1zM684 96h1v1h-1zM684 99h1v1h-1zM684 100h1v1h-1zM684 103h1v1h-1zM684 105h1v1h-1zM684 106h1v1h-1zM684 107h1v1h-1zM684 108h1v1h-1zM684 110h1v1h-1zM684 114h1v1h-1zM684 118h1v1h-1zM684 127h1v1h-1zM685 61h1v1h-1zM685 63h1v1h-1zM685 64h1v1h-1zM685 67h1v1h-1zM685 68h1v1h-1zM685 73h1v1h-1zM685 74h1v1h-1zM685 75h1v1h-1zM685 79h1v1h-1zM685 85h1v1h-1zM685 91h1v1h-1zM685 93h1v1h-1zM685 103h1v1h-1zM686 53h1v1h-1zM686 57h1v1h-1zM686 59h1v1h-1zM686 60h1v1h-1zM686 63h1v1h-1zM686 66h1v1h-1zM686 67h1v1h-1zM686 75h1v1h-1zM686 80h1v1h-1zM686 90h1v1h-1zM686 94h1v1h-1zM686 97h1v1h-1zM686 101h1v1h-1zM686 102h1v1h-1zM686 103h1v1h-1zM686 104h1v1h-1zM686 105h1v1h-1zM686 109h1v1h-1zM686 111h1v1h-1zM686 113h1v1h-1zM686 115h1v1h-1zM687 68h1v1h-1zM687 76h1v1h-1zM687 78h1v1h-1zM687 87h1v1h-1zM687 89h1v1h-1zM687 91h1v1h-1zM687 100h1v1h-1zM687 102h1v1h-1zM687 104h1v1h-1zM687 105h1v1h-1zM687 107h1v1h-1zM687 109h1v1h-1zM687 110h1v1h-1zM687 112h1v1h-1zM687 114h1v1h-1zM687 116h1v1h-1zM687 117h1v1h-1zM687 121h1v1h-1zM687 122h1v1h-1zM687 123h1v1h-1z"/><path fill="#0080ff" d="M78 88h1v1h-1zM78 89h1v1h-1zM81 69h1v1h-1zM81 86h1v1h-1zM101 78h1v1h-1zM101 79h1v1h-1zM101 82h1v1h-1zM123 79h1v1h-1zM123 83h1v1h-1zM123 86h1v1h-1zM123 90h1v1h-1zM133 70h1v1h-1zM136 62h1v1h-1zM136 68h1v1h-1zM146 62h1v1h-1zM146 90h1v1h-1zM182 71h1v1h-1zM186 60h1v1h-1zM186 61h1v1h-1zM208 78h1v1h-1zM208 82h1v1h-1zM208 85h1v1h-1zM222 70h1v1h-1zM222 71h1v1h-1zM222 83h1v1h-1zM222 87h1v1h-1zM247 84h1v1h-1zM251 60h1v1h-1zM261 76h1v1h-1zM261 79h1v1h-1zM274 85h1v1h-1zM274 86h1v1h-1zM278 82h1v1h-1zM278 90h1v1h-1zM278 91h1v1h-1zM278 98h1v1h-1zM281 74h1v1h-1zM281 76h1v1h-1zM292 86h1v1h-1zM295 74h1v1h-1zM295 81h1v1h-1zM296 77h1v1h-1zM296 80h1v1h-1zM305 62h1v1h-1zM305 76h1v1h-1zM305 84h1v1h-1zM305 87h1v1h-1zM307 83h1v1h-1zM307 91h1v1h-1zM312 78h1v1h-1zM312 86h1v1h-1zM312 91h1v1h-1zM313 74h1v1h-1zM319 70h1v1h-1zM319 79h1v1h-1zM319 81h1v1h-1zM322 79h1v1h-1zM322 91h1v1h-1zM323 89h1v1h-1zM330 79h1v1h-1zM330 87h1v1h-1zM331 80h1v1h-1zM331 87h1v1h-1zM343 89h1v1h-1zM346 78h1v1h-1zM346 83h1v1h-1zM346 84h1v1h-1zM346 85h1v1h-1zM356 78h1v1h-1zM356 79h1v1h-1zM356 80h1v1h-1zM356 92h1v1h-1zM359 92h1v1h-1zM364 90h1v1h-1zM370 69h1v1h-1zM370 70h1v1h-1zM376 92h1v1h-1zM380 67h1v1h-1zM380 84h1v1h-1zM380 88h1v1h-1zM381 65h1v1h-1zM381 67h1v1h-1zM381 74h1v1h-1zM381 79h1v1h-1zM381 84h1v1h-1zM381 85h1v1h-1zM381 87h1v1h-1zM381 90h1v1h-1zM382 60h1v1h-1zM382 61h1v1h-1zM382 72h1v1h-1zM382 78h1v1h-1zM382 81h1v1h-1zM382 82h1v1h-1zM382 88h1v1h-1zM382 89h1v1h-1zM382 92h1v1h-1zM386 74h1v1h-1zM386 78h1v1h-1zM386 83h1v1h-1zM386 85h1v1h-1zM386 97h1v1h-1zM387 74h1v1h-1zM387 79h1v1h-1zM387 81h1v1h-1zM387 87h1v1h-1zM392 84h1v1h-1zM392 94h1v1h-1zM400 92h1v1h-1zM400 94h1v1h-1zM400 96h1v1h-1zM404 74h1v1h-1zM404 83h1v1h-1zM404 85h1v1h-1zM404 87h1v1h-1zM404 89h1v1h-1zM408 88h1v1h-1zM408 92h1v1h-1zM408 98h1v1h-1zM409 85h1v1h-1zM412 82h1v1h-1zM412 87h1v1h-1zM415 76h1v1h-1zM415 81h1v1h-1zM415 84h1v1h-1zM415 86h1v1h-1zM420 81h1v1h-1zM420 86h1v1h-1zM426 87h1v1h-1zM426 93h1v1h-1zM426 100h1v1h-1zM431 100h1v1h-1zM433 95h1v1h-1zM436 80h1v1h-1zM438 88h1v1h-1zM438 93h1v1h-1zM438 94h1v1h-1zM447 72h1v1h-1zM447 79h1v1h-1zM447 84h1v1h-1zM447 85h1v1h-1zM450 77h1v1h-1zM450 91h1v1h-1zM460 80h1v1h-1zM460 81h1v1h-1zM460 83h1v1h-1zM474 58h1v1h-1zM474 67h1v1h-1zM474 75h1v1h-1zM474 83h1v1h-1zM474 85h1v1h-1zM474 91h1v1h-1zM474 100h1v1h-1zM475 75h1v1h-1zM475 80h1v1h-1zM475 88h1v1h-1zM475 95h1v1h-1zM475 98h1v1h-1zM486 84h1v1h-1zM492 90h1v1h-1zM494 82h1v1h-1zM494 94h1v1h-1zM504 78h1v1h-1zM507 84h1v1h-1zM507 88h1v1h-1zM507 93h1v1h-1zM507 94h1v1h-1zM508 98h1v1h-1zM526 87h1v1h-1zM533 95h1v1h-1zM533 98h1v1h-1zM540 94h1v1h-1zM540 95h1v1h-1zM544 81h1v1h-1zM544 83h1v1h-1zM544 96h1v1h-1zM545 75h1v1h-1zM545 78h1v1h-1zM545 80h1v1h-1zM545 81h1v1h-1zM545 84h1v1h-1zM545 97h1v1h-1zM546 82h1v1h-1zM548 93h1v1h-1zM552 101h1v1h-1zM553 62h1v1h-1zM553 75h1v1h-1zM553 89h1v1h-1zM558 88h1v1h-1zM559 74h1v1h-1zM559 75h1v1h-1zM559 77h1v1h-1zM559 85h1v1h-1zM559 91h1v1h-1zM559 94h1v1h-1zM563 86h1v1h-1zM563 88h1v1h-1zM563 90h1v1h-1zM563 92h1v1h-1zM571 82h1v1h-1zM571 94h1v1h-1zM572 82h1v1h-1zM572 84h1v1h-1zM572 94h1v1h-1zM575 72h1v1h-1zM575 85h1v1h-1zM575 89h1v1h-1zM579 83h1v1h-1zM583 85h1v1h-1zM587 83h1v1h-1zM587 91h1v1h-1zM588 91h1v1h-1zM590 81h1v1h-1zM590 88h1v1h-1zM590 92h1v1h-1zM590 94h1v1h-1zM591 84h1v1h-1zM591 89h1v1h-1zM591 91h1v1h-1zM592 82h1v1h-1zM592 83h1v1h-1zM595 89h1v1h-1zM596 93h1v1h-1zM596 97h1v1h-1zM600 62h1v1h-1zM600 87h1v1h-1zM603 77h1v1h-1zM607 74h1v1h-1zM607 76h1v1h-1zM607 77h1v1h-1zM607 78h1v1h-1zM607 88h1v1h-1zM607 89h1v1h-1zM607 90h1v1h-1zM607 91h1v1h-1zM611 81h1v1h-1zM611 83h1v1h-1zM611 87h1v1h-1zM611 92h1v1h-1zM614 60h1v1h-1zM614 62h1v1h-1zM614 71h1v1h-1zM614 77h1v1h-1zM614 91h1v1h-1zM614 93h1v1h-1zM615 76h1v1h-1zM615 85h1v1h-1zM617 79h1v1h-1zM617 88h1v1h-1zM618 95h1v1h-1zM621 88h1v1h-1zM623 76h1v1h-1zM626 82h1v1h-1zM626 91h1v1h-1zM628 71h1v1h-1zM628 72h1v1h-1zM628 73h1v1h-1zM628 75h1v1h-1zM628 79h1v1h-1zM631 83h1v1h-1zM634 55h1v1h-1zM634 70h1v1h-1zM634 94h1v1h-1zM634 96h1v1h-1zM635 69h1v1h-1zM635 89h1v1h-1zM635 93h1v1h-1zM637 69h1v1h-1zM637 78h1v1h-1zM637 88h1v1h-1zM638 71h1v1h-1zM638 73h1v1h-1zM638 79h1v1h-1zM640 73h1v1h-1zM640 83h1v1h-1zM640 88h1v1h-1zM640 92h1v1h-1zM643 84h1v1h-1zM646 86h1v1h-1zM646 99h1v1h-1zM646 105h1v1h-1zM649 78h1v1h-1zM649 79h1v1h-1zM649 81h1v1h-1zM649 90h1v1h-1zM651 97h1v1h-1zM652 79h1v1h-1zM652 80h1v1h-1zM652 84h1v1h-1zM652 88h1v1h-1zM653 90h1v1h-1zM654 76h1v1h-1zM655 77h1v1h-1zM655 86h1v1h-1zM655 89h1v1h-1zM655 93h1v1h-1zM655 94h1v1h-1zM657 79h1v1h-1zM657 89h1v1h-1zM660 75h1v1h-1zM660 85h1v1h-1zM660 86h1v1h-1zM660 94h1v1h-1zM660 97h1v1h-1zM661 71h1v1h-1zM661 74h1v1h-1zM661 81h1v1h-1zM661 95h1v1h-1zM663 90h1v1h-1zM664 80h1v1h-1zM666 88h1v1h-1zM666 94h1v1h-1zM666 97h1v1h-1zM667 84h1v1h-1zM667 89h1v1h-1zM667 96h1v1h-1zM667 98h1v1h-1zM668 101h1v1h-1zM669 77h1v1h-1zM669 82h1v1h-1zM671 67h1v1h-1zM673 85h1v1h-1zM676 86h1v1h-1zM676 87h1v1h-1zM676 94h1v1h-1zM678 74h1v1h-1zM679 87h1v1h-1zM681 71h1v1h-1zM682 79h1v1h-1zM684 101h1v1h-1zM685 94h1v1h-1zM685 96h1v1h-1zM686 64h1v1h-1zM686 71h1v1h-1zM687 60h1v1h-1zM687 66h1v1h-1zM687 71h1v1h-1zM687 75h1v1h-1zM687 85h1v1h-1zM687 88h1v1h-1zM687 101h1v1h-1zM687 108h1v1h-1z"/><path fill="#00ffff" d="M78 79h1v1h-1zM78 84h1v1h-1zM81 79h1v1h-1zM81 82h1v1h-1zM81 89h1v1h-1zM101 73h1v1h-1zM123 81h1v1h-1zM136 70h1v1h-1zM136 87h1v1h-1zM146 63h1v1h-1zM146 64h1v1h-1zM146 68h1v1h-1zM157 69h1v1h-1zM241 84h1v1h-1zM241 87h1v1h-1zM247 72h1v1h-1zM257 83h1v1h-1zM261 77h1v1h-1zM281 88h1v1h-1zM284 81h1v1h-1zM296 70h1v1h-1zM296 72h1v1h-1zM305 65h1v1h-1zM305 80h1v1h-1zM307 85h1v1h-1zM312 92h1v1h-1zM319 72h1v1h-1zM319 73h1v1h-1zM319 86h1v1h-1zM323 76h1v1h-1zM323 78h1v1h-1zM331 84h1v1h-1zM331 85h1v1h-1zM331 88h1v1h-1zM352 88h1v1h-1zM356 86h1v1h-1zM364 76h1v1h-1zM364 78h1v1h-1zM380 63h1v1h-1zM381 75h1v1h-1zM381 80h1v1h-1zM381 92h1v1h-1zM382 86h1v1h-1zM382 91h1v1h-1zM387 71h1v1h-1zM387 77h1v1h-1zM408 84h1v1h-1zM408 87h1v1h-1zM408 89h1v1h-1zM408 95h1v1h-1zM426 88h1v1h-1zM460 86h1v1h-1zM474 72h1v1h-1zM474 77h1v1h-1zM474 99h1v1h-1zM475 71h1v1h-1zM489 77h1v1h-1zM500 88h1v1h-1zM504 79h1v1h-1zM507 86h1v1h-1zM526 86h1v1h-1zM526 90h1v1h-1zM544 80h1v1h-1zM545 74h1v1h-1zM545 90h1v1h-1zM546 86h1v1h-1zM559 88h1v1h-1zM563 82h1v1h-1zM571 77h1v1h-1zM571 96h1v1h-1zM572 83h1v1h-1zM575 83h1v1h-1zM575 87h1v1h-1zM575 88h1v1h-1zM583 81h1v1h-1zM587 79h1v1h-1zM587 89h1v1h-1zM589 76h1v1h-1zM590 77h1v1h-1zM590 89h1v1h-1zM592 81h1v1h-1zM595 90h1v1h-1zM600 82h1v1h-1zM600 84h1v1h-1zM603 82h1v1h-1zM603 88h1v1h-1zM607 73h1v1h-1zM607 75h1v1h-1zM607 84h1v1h-1zM613 85h1v1h-1zM614 58h1v1h-1zM614 80h1v1h-1zM615 64h1v1h-1zM615 74h1v1h-1zM615 80h1v1h-1zM617 87h1v1h-1zM618 96h1v1h-1zM623 84h1v1h-1zM634 76h1v1h-1zM634 87h1v1h-1zM635 73h1v1h-1zM635 78h1v1h-1zM637 81h1v1h-1zM638 67h1v1h-1zM640 81h1v1h-1zM640 85h1v1h-1zM640 87h1v1h-1zM640 89h1v1h-1zM640 90h1v1h-1zM643 90h1v1h-1zM643 96h1v1h-1zM646 82h1v1h-1zM646 83h1v1h-1zM646 85h1v1h-1zM646 87h1v1h-1zM646 103h1v1h-1zM649 77h1v1h-1zM653 76h1v1h-1zM655 85h1v1h-1zM655 91h1v1h-1zM657 80h1v1h-1zM657 81h1v1h-1zM661 75h1v1h-1zM661 92h1v1h-1zM666 81h1v1h-1zM667 81h1v1h-1zM671 76h1v1h-1zM671 83h1v1h-1zM673 90h1v1h-1zM676 77h1v1h-1zM679 84h1v1h-1zM679 92h1v1h-1zM682 82h1v1h-1zM682 84h1v1h-1zM682 91h1v1h-1zM684 92h1v1h-1zM685 78h1v1h-1zM686 65h1v1h-1zM686 83h1v1h-1zM686 96h1v1h-1z"/><path fill="#0000ff" d="M81 74h1v1h-1zM81 77h1v1h-1zM101 81h1v1h-1zM101 83h1v1h-1zM123 78h1v1h-1zM123 84h1v1h-1zM123 87h1v1h-1zM123 89h1v1h-1zM136 69h1v1h-1zM136 91h1v1h-1zM146 59h1v1h-1zM146 65h1v1h-1zM146 75h1v1h-1zM146 77h1v1h-1zM146 83h1v1h-1zM146 91h1v1h-1zM151 57h1v1h-1zM157 64h1v1h-1zM182 69h1v1h-1zM182 75h1v1h-1zM182 79h1v1h-1zM182 80h1v1h-1zM182 83h1v1h-1zM208 75h1v1h-1zM208 79h1v1h-1zM222 73h1v1h-1zM222 74h1v1h-1zM222 76h1v1h-1zM241 82h1v1h-1zM247 85h1v1h-1zM247 88h1v1h-1zM247 89h1v1h-1zM251 67h1v1h-1zM251 78h1v1h-1zM256 75h1v1h-1zM256 91h1v1h-1zM256 97h1v1h-1zM257 81h1v1h-1zM258 80h1v1h-1zM258 85h1v1h-1zM261 72h1v1h-1zM266 89h1v1h-1zM268 90h1v1h-1zM272 82h1v1h-1zM272 86h1v1h-1zM274 82h1v1h-1zM274 87h1v1h-1zM278 74h1v1h-1zM278 95h1v1h-1zM278 99h1v1h-1zM281 78h1v1h-1zM281 81h1v1h-1zM284 84h1v1h-1zM292 89h1v1h-1zM295 76h1v1h-1zM295 78h1v1h-1zM296 68h1v1h-1zM303 70h1v1h-1zM303 73h1v1h-1zM305 61h1v1h-1zM305 69h1v1h-1zM305 77h1v1h-1zM305 85h1v1h-1zM307 92h1v1h-1zM312 74h1v1h-1zM312 85h1v1h-1zM312 93h1v1h-1zM312 98h1v1h-1zM319 67h1v1h-1zM319 90h1v1h-1zM322 84h1v1h-1zM322 90h1v1h-1zM323 75h1v1h-1zM323 77h1v1h-1zM323 80h1v1h-1zM323 87h1v1h-1zM323 90h1v1h-1zM330 80h1v1h-1zM330 81h1v1h-1zM330 86h1v1h-1zM331 90h1v1h-1zM331 95h1v1h-1zM338 88h1v1h-1zM346 77h1v1h-1zM356 77h1v1h-1zM356 81h1v1h-1zM359 60h1v1h-1zM359 63h1v1h-1zM359 87h1v1h-1zM364 77h1v1h-1zM364 81h1v1h-1zM364 87h1v1h-1zM370 76h1v1h-1zM376 91h1v1h-1zM380 64h1v1h-1zM380 79h1v1h-1zM380 83h1v1h-1zM380 89h1v1h-1zM381 60h1v1h-1zM381 70h1v1h-1zM381 73h1v1h-1zM381 88h1v1h-1zM381 93h1v1h-1zM382 63h1v1h-1zM382 70h1v1h-1zM382 73h1v1h-1zM382 74h1v1h-1zM382 75h1v1h-1zM382 76h1v1h-1zM382 79h1v1h-1zM382 93h1v1h-1zM382 95h1v1h-1zM386 79h1v1h-1zM386 88h1v1h-1zM386 89h1v1h-1zM387 75h1v1h-1zM387 90h1v1h-1zM389 82h1v1h-1zM389 86h1v1h-1zM389 91h1v1h-1zM392 93h1v1h-1zM392 95h1v1h-1zM400 84h1v1h-1zM400 88h1v1h-1zM404 79h1v1h-1zM408 72h1v1h-1zM408 78h1v1h-1zM408 86h1v1h-1zM408 97h1v1h-1zM409 89h1v1h-1zM409 94h1v1h-1zM409 97h1v1h-1zM409 98h1v1h-1zM412 84h1v1h-1zM415 99h1v1h-1zM415 105h1v1h-1zM415 107h1v1h-1zM420 73h1v1h-1zM420 79h1v1h-1zM420 83h1v1h-1zM421 89h1v1h-1zM421 94h1v1h-1zM422 87h1v1h-1zM422 88h1v1h-1zM426 58h1v1h-1zM426 61h1v1h-1zM426 84h1v1h-1zM426 85h1v1h-1zM426 91h1v1h-1zM426 92h1v1h-1zM426 99h1v1h-1zM431 94h1v1h-1zM431 97h1v1h-1zM431 107h1v1h-1zM436 70h1v1h-1zM436 73h1v1h-1zM438 60h1v1h-1zM438 62h1v1h-1zM438 63h1v1h-1zM438 69h1v1h-1zM438 70h1v1h-1zM438 74h1v1h-1zM438 79h1v1h-1zM438 85h1v1h-1zM438 87h1v1h-1zM438 89h1v1h-1zM447 82h1v1h-1zM450 75h1v1h-1zM450 76h1v1h-1zM450 78h1v1h-1zM450 79h1v1h-1zM474 59h1v1h-1zM474 70h1v1h-1zM474 76h1v1h-1zM474 94h1v1h-1zM474 96h1v1h-1zM475 57h1v1h-1zM475 64h1v1h-1zM475 77h1v1h-1zM475 82h1v1h-1zM475 91h1v1h-1zM475 96h1v1h-1zM475 101h1v1h-1zM489 83h1v1h-1zM492 80h1v1h-1zM494 84h1v1h-1zM494 86h1v1h-1zM494 88h1v1h-1zM494 93h1v1h-1zM494 95h1v1h-1zM500 84h1v1h-1zM500 89h1v1h-1zM502 90h1v1h-1zM502 93h1v1h-1zM504 71h1v1h-1zM504 72h1v1h-1zM504 74h1v1h-1zM504 84h1v1h-1zM504 85h1v1h-1zM505 81h1v1h-1zM505 86h1v1h-1zM507 82h1v1h-1zM507 92h1v1h-1zM508 81h1v1h-1zM508 97h1v1h-1zM514 65h1v1h-1zM514 71h1v1h-1zM514 77h1v1h-1zM517 91h1v1h-1zM521 79h1v1h-1zM524 87h1v1h-1zM526 81h1v1h-1zM526 84h1v1h-1zM526 94h1v1h-1zM531 80h1v1h-1zM531 82h1v1h-1zM533 92h1v1h-1zM536 78h1v1h-1zM540 88h1v1h-1zM542 81h1v1h-1zM542 84h1v1h-1zM544 87h1v1h-1zM544 90h1v1h-1zM544 91h1v1h-1zM544 92h1v1h-1zM545 94h1v1h-1zM545 100h1v1h-1zM546 72h1v1h-1zM546 76h1v1h-1zM546 90h1v1h-1zM546 94h1v1h-1zM546 95h1v1h-1zM548 87h1v1h-1zM548 92h1v1h-1zM548 98h1v1h-1zM550 94h1v1h-1zM552 79h1v1h-1zM552 92h1v1h-1zM553 60h1v1h-1zM553 65h1v1h-1zM553 71h1v1h-1zM553 76h1v1h-1zM553 90h1v1h-1zM558 96h1v1h-1zM559 71h1v1h-1zM559 83h1v1h-1zM559 97h1v1h-1zM563 80h1v1h-1zM563 81h1v1h-1zM563 94h1v1h-1zM570 77h1v1h-1zM571 98h1v1h-1zM571 100h1v1h-1zM572 74h1v1h-1zM572 89h1v1h-1zM572 90h1v1h-1zM572 92h1v1h-1zM572 93h1v1h-1zM572 97h1v1h-1zM575 78h1v1h-1zM575 84h1v1h-1zM575 92h1v1h-1zM575 94h1v1h-1zM579 77h1v1h-1zM579 92h1v1h-1zM583 92h1v1h-1zM587 84h1v1h-1zM588 83h1v1h-1zM588 89h1v1h-1zM588 90h1v1h-1zM589 79h1v1h-1zM589 86h1v1h-1zM589 88h1v1h-1zM589 90h1v1h-1zM589 92h1v1h-1zM590 78h1v1h-1zM590 90h1v1h-1zM590 91h1v1h-1zM591 75h1v1h-1zM591 80h1v1h-1zM591 81h1v1h-1zM591 87h1v1h-1zM591 90h1v1h-1zM592 78h1v1h-1zM592 91h1v1h-1zM593 79h1v1h-1zM595 81h1v1h-1zM595 83h1v1h-1zM595 92h1v1h-1zM596 86h1v1h-1zM596 92h1v1h-1zM600 56h1v1h-1zM600 70h1v1h-1zM600 71h1v1h-1zM600 74h1v1h-1zM600 78h1v1h-1zM600 81h1v1h-1zM600 83h1v1h-1zM603 90h1v1h-1zM603 93h1v1h-1zM603 97h1v1h-1zM603 98h1v1h-1zM603 101h1v1h-1zM607 83h1v1h-1zM607 85h1v1h-1zM611 89h1v1h-1zM611 93h1v1h-1zM612 85h1v1h-1zM614 56h1v1h-1zM614 59h1v1h-1zM614 81h1v1h-1zM614 94h1v1h-1zM615 62h1v1h-1zM615 70h1v1h-1zM615 71h1v1h-1zM615 88h1v1h-1zM617 83h1v1h-1zM617 85h1v1h-1zM617 89h1v1h-1zM618 73h1v1h-1zM618 84h1v1h-1zM618 86h1v1h-1zM618 93h1v1h-1zM618 97h1v1h-1zM619 77h1v1h-1zM621 85h1v1h-1zM621 97h1v1h-1zM623 89h1v1h-1zM626 90h1v1h-1zM628 78h1v1h-1zM628 88h1v1h-1zM634 64h1v1h-1zM634 68h1v1h-1zM634 93h1v1h-1zM635 58h1v1h-1zM635 63h1v1h-1zM635 72h1v1h-1zM635 74h1v1h-1zM635 91h1v1h-1zM635 92h1v1h-1zM637 61h1v1h-1zM637 72h1v1h-1zM637 85h1v1h-1zM638 63h1v1h-1zM638 92h1v1h-1zM640 77h1v1h-1zM640 79h1v1h-1zM640 82h1v1h-1zM641 85h1v1h-1zM643 85h1v1h-1zM646 61h1v1h-1zM646 69h1v1h-1zM646 72h1v1h-1zM646 75h1v1h-1zM648 86h1v1h-1zM649 84h1v1h-1zM649 86h1v1h-1zM649 88h1v1h-1zM652 81h1v1h-1zM652 91h1v1h-1zM653 86h1v1h-1zM653 94h1v1h-1zM654 83h1v1h-1zM655 71h1v1h-1zM655 76h1v1h-1zM657 83h1v1h-1zM657 91h1v1h-1zM660 73h1v1h-1zM660 77h1v1h-1zM660 84h1v1h-1zM660 95h1v1h-1zM661 76h1v1h-1zM661 87h1v1h-1zM661 96h1v1h-1zM663 77h1v1h-1zM663 89h1v1h-1zM666 87h1v1h-1zM667 86h1v1h-1zM667 88h1v1h-1zM668 105h1v1h-1zM668 109h1v1h-1zM669 72h1v1h-1zM669 75h1v1h-1zM670 62h1v1h-1zM670 67h1v1h-1zM670 69h1v1h-1zM670 71h1v1h-1zM670 82h1v1h-1zM670 83h1v1h-1zM670 93h1v1h-1zM671 95h1v1h-1zM673 96h1v1h-1zM676 88h1v1h-1zM678 89h1v1h-1zM679 89h1v1h-1zM679 93h1v1h-1zM679 94h1v1h-1zM681 80h1v1h-1zM682 77h1v1h-1zM682 81h1v1h-1zM682 92h1v1h-1zM683 76h1v1h-1zM684 81h1v1h-1zM684 89h1v1h-1zM684 97h1v1h-1zM684 104h1v1h-1zM686 68h1v1h-1zM686 69h1v1h-1zM686 79h1v1h-1zM686 82h1v1h-1zM686 86h1v1h-1zM686 92h1v1h-1zM687 55h1v1h-1zM687 56h1v1h-1zM687 63h1v1h-1zM687 64h1v1h-1zM687 77h1v1h-1zM687 81h1v1h-1zM687 82h1v1h-1zM687 86h1v1h-1zM687 92h1v1h-1zM687 93h1v1h-1zM687 94h1v1h-1zM687 98h1v1h-1zM687 99h1v1h-1z"/><path fill="#8000ff" d="M81 64h1v1h-1zM98 62h1v1h-1zM101 71h1v1h-1zM101 72h1v1h-1zM133 68h1v1h-1zM133 73h1v1h-1zM133 87h1v1h-1zM136 65h1v1h-1zM136 71h1v1h-1zM136 73h1v1h-1zM136 79h1v1h-1zM146 55h1v1h-1zM146 73h1v1h-1zM146 87h1v1h-1zM148 91h1v1h-1zM157 67h1v1h-1zM157 70h1v1h-1zM186 62h1v1h-1zM222 72h1v1h-1zM222 81h1v1h-1zM222 85h1v1h-1zM223 83h1v1h-1zM226 68h1v1h-1zM226 82h1v1h-1zM226 83h1v1h-1zM241 78h1v1h-1zM247 77h1v1h-1zM251 70h1v1h-1zM251 81h1v1h-1zM256 96h1v1h-1zM257 82h1v1h-1zM261 80h1v1h-1zM268 83h1v1h-1zM268 89h1v1h-1zM269 80h1v1h-1zM272 91h1v1h-1zM274 81h1v1h-1zM274 88h1v1h-1zM278 70h1v1h-1zM281 72h1v1h-1zM281 75h1v1h-1zM292 88h1v1h-1zM295 71h1v1h-1zM295 73h1v1h-1zM296 66h1v1h-1zM296 76h1v1h-1zM296 78h1v1h-1zM303 67h1v1h-1zM303 86h1v1h-1zM305 66h1v1h-1zM305 73h1v1h-1zM305 74h1v1h-1zM305 81h1v1h-1zM306 83h1v1h-1zM306 86h1v1h-1zM307 90h1v1h-1zM310 93h1v1h-1zM312 55h1v1h-1zM312 58h1v1h-1zM312 63h1v1h-1zM312 81h1v1h-1zM312 82h1v1h-1zM312 94h1v1h-1zM312 95h1v1h-1zM312 100h1v1h-1zM319 66h1v1h-1zM319 68h1v1h-1zM322 75h1v1h-1zM322 85h1v1h-1zM323 83h1v1h-1zM323 88h1v1h-1zM330 82h1v1h-1zM331 75h1v1h-1zM331 79h1v1h-1zM331 93h1v1h-1zM331 102h1v1h-1zM331 103h1v1h-1zM343 83h1v1h-1zM343 86h1v1h-1zM343 88h1v1h-1zM345 85h1v1h-1zM352 87h1v1h-1zM356 76h1v1h-1zM356 87h1v1h-1zM359 64h1v1h-1zM359 66h1v1h-1zM359 73h1v1h-1zM365 83h1v1h-1zM370 75h1v1h-1zM370 82h1v1h-1zM372 76h1v1h-1zM372 86h1v1h-1zM376 89h1v1h-1zM380 75h1v1h-1zM380 76h1v1h-1zM381 62h1v1h-1zM381 69h1v1h-1zM381 72h1v1h-1zM381 76h1v1h-1zM381 82h1v1h-1zM381 91h1v1h-1zM382 68h1v1h-1zM382 85h1v1h-1zM382 96h1v1h-1zM386 73h1v1h-1zM387 78h1v1h-1zM387 86h1v1h-1zM389 80h1v1h-1zM389 90h1v1h-1zM389 95h1v1h-1zM392 90h1v1h-1zM404 77h1v1h-1zM404 80h1v1h-1zM404 82h1v1h-1zM405 84h1v1h-1zM408 64h1v1h-1zM408 69h1v1h-1zM408 71h1v1h-1zM408 74h1v1h-1zM408 75h1v1h-1zM408 91h1v1h-1zM408 93h1v1h-1zM408 99h1v1h-1zM408 104h1v1h-1zM409 78h1v1h-1zM409 88h1v1h-1zM415 70h1v1h-1zM415 78h1v1h-1zM415 82h1v1h-1zM415 87h1v1h-1zM415 91h1v1h-1zM415 97h1v1h-1zM420 85h1v1h-1zM422 93h1v1h-1zM422 95h1v1h-1zM426 57h1v1h-1zM426 95h1v1h-1zM431 88h1v1h-1zM431 101h1v1h-1zM431 102h1v1h-1zM433 80h1v1h-1zM433 97h1v1h-1zM433 99h1v1h-1zM436 74h1v1h-1zM436 87h1v1h-1zM436 93h1v1h-1zM438 71h1v1h-1zM438 77h1v1h-1zM438 83h1v1h-1zM438 90h1v1h-1zM438 91h1v1h-1zM447 69h1v1h-1zM447 83h1v1h-1zM450 73h1v1h-1zM450 82h1v1h-1zM450 88h1v1h-1zM460 84h1v1h-1zM460 95h1v1h-1zM471 82h1v1h-1zM474 87h1v1h-1zM474 92h1v1h-1zM474 97h1v1h-1zM474 101h1v1h-1zM475 70h1v1h-1zM475 89h1v1h-1zM486 86h1v1h-1zM486 87h1v1h-1zM492 86h1v1h-1zM502 86h1v1h-1zM505 72h1v1h-1zM505 84h1v1h-1zM510 69h1v1h-1zM514 75h1v1h-1zM514 78h1v1h-1zM514 88h1v1h-1zM517 90h1v1h-1zM518 71h1v1h-1zM526 92h1v1h-1zM529 74h1v1h-1zM531 78h1v1h-1zM536 62h1v1h-1zM536 76h1v1h-1zM536 83h1v1h-1zM542 82h1v1h-1zM542 90h1v1h-1zM544 75h1v1h-1zM544 79h1v1h-1zM544 88h1v1h-1zM545 71h1v1h-1zM545 95h1v1h-1zM545 105h1v1h-1zM546 77h1v1h-1zM546 79h1v1h-1zM548 84h1v1h-1zM548 94h1v1h-1zM548 96h1v1h-1zM553 80h1v1h-1zM554 76h1v1h-1zM554 95h1v1h-1zM558 72h1v1h-1zM558 85h1v1h-1zM559 72h1v1h-1zM559 81h1v1h-1zM559 86h1v1h-1zM559 90h1v1h-1zM559 96h1v1h-1zM559 102h1v1h-1zM563 84h1v1h-1zM563 93h1v1h-1zM569 66h1v1h-1zM570 71h1v1h-1zM570 76h1v1h-1zM571 69h1v1h-1zM571 70h1v1h-1zM571 72h1v1h-1zM571 88h1v1h-1zM571 104h1v1h-1zM575 66h1v1h-1zM575 75h1v1h-1zM575 90h1v1h-1zM579 80h1v1h-1zM579 93h1v1h-1zM579 98h1v1h-1zM585 81h1v1h-1zM585 90h1v1h-1zM587 75h1v1h-1zM587 81h1v1h-1zM587 85h1v1h-1zM587 92h1v1h-1zM587 94h1v1h-1zM588 81h1v1h-1zM589 69h1v1h-1zM589 82h1v1h-1zM590 87h1v1h-1zM591 72h1v1h-1zM591 77h1v1h-1zM591 88h1v1h-1zM591 92h1v1h-1zM591 96h1v1h-1zM591 97h1v1h-1zM593 87h1v1h-1zM596 81h1v1h-1zM600 80h1v1h-1zM600 89h1v1h-1zM601 76h1v1h-1zM603 62h1v1h-1zM603 63h1v1h-1zM603 67h1v1h-1zM603 73h1v1h-1zM603 79h1v1h-1zM603 80h1v1h-1zM607 94h1v1h-1zM607 97h1v1h-1zM609 91h1v1h-1zM611 65h1v1h-1zM611 70h1v1h-1zM611 77h1v1h-1zM611 82h1v1h-1zM611 88h1v1h-1zM611 94h1v1h-1zM611 95h1v1h-1zM611 98h1v1h-1zM611 101h1v1h-1zM612 84h1v1h-1zM614 74h1v1h-1zM614 92h1v1h-1zM615 75h1v1h-1zM615 78h1v1h-1zM615 87h1v1h-1zM615 93h1v1h-1zM617 78h1v1h-1zM617 100h1v1h-1zM617 102h1v1h-1zM618 85h1v1h-1zM618 98h1v1h-1zM620 77h1v1h-1zM621 84h1v1h-1zM621 89h1v1h-1zM623 86h1v1h-1zM626 81h1v1h-1zM626 89h1v1h-1zM628 69h1v1h-1zM628 84h1v1h-1zM628 85h1v1h-1zM634 59h1v1h-1zM634 62h1v1h-1zM634 88h1v1h-1zM634 90h1v1h-1zM635 56h1v1h-1zM635 57h1v1h-1zM635 71h1v1h-1zM635 75h1v1h-1zM635 79h1v1h-1zM635 84h1v1h-1zM635 94h1v1h-1zM635 95h1v1h-1zM635 106h1v1h-1zM635 110h1v1h-1zM637 67h1v1h-1zM637 75h1v1h-1zM637 94h1v1h-1zM637 98h1v1h-1zM638 62h1v1h-1zM638 66h1v1h-1zM638 91h1v1h-1zM640 70h1v1h-1zM640 93h1v1h-1zM640 94h1v1h-1zM640 96h1v1h-1zM646 63h1v1h-1zM646 64h1v1h-1zM646 68h1v1h-1zM646 77h1v1h-1zM646 81h1v1h-1zM646 90h1v1h-1zM646 96h1v1h-1zM648 84h1v1h-1zM648 101h1v1h-1zM652 72h1v1h-1zM652 85h1v1h-1zM653 73h1v1h-1zM653 77h1v1h-1zM653 80h1v1h-1zM653 82h1v1h-1zM654 89h1v1h-1zM655 78h1v1h-1zM655 81h1v1h-1zM655 82h1v1h-1zM655 83h1v1h-1zM655 87h1v1h-1zM657 73h1v1h-1zM657 76h1v1h-1zM657 77h1v1h-1zM657 88h1v1h-1zM657 92h1v1h-1zM657 95h1v1h-1zM657 99h1v1h-1zM657 100h1v1h-1zM660 93h1v1h-1zM661 59h1v1h-1zM661 94h1v1h-1zM663 64h1v1h-1zM663 83h1v1h-1zM664 66h1v1h-1zM664 74h1v1h-1zM664 79h1v1h-1zM666 84h1v1h-1zM666 95h1v1h-1zM666 98h1v1h-1zM667 77h1v1h-1zM668 96h1v1h-1zM669 65h1v1h-1zM669 67h1v1h-1zM669 73h1v1h-1zM669 78h1v1h-1zM669 80h1v1h-1zM670 81h1v1h-1zM671 78h1v1h-1zM671 82h1v1h-1zM671 89h1v1h-1zM671 91h1v1h-1zM671 97h1v1h-1zM671 101h1v1h-1zM672 84h1v1h-1zM673 71h1v1h-1zM673 80h1v1h-1zM673 86h1v1h-1zM676 69h1v1h-1zM676 70h1v1h-1zM676 89h1v1h-1zM676 95h1v1h-1zM676 96h1v1h-1zM677 60h1v1h-1zM678 80h1v1h-1zM678 82h1v1h-1zM678 90h1v1h-1zM681 77h1v1h-1zM682 86h1v1h-1zM683 81h1v1h-1zM684 75h1v1h-1zM684 82h1v1h-1zM684 87h1v1h-1zM684 90h1v1h-1zM684 93h1v1h-1zM685 81h1v1h-1zM685 87h1v1h-1zM686 56h1v1h-1zM686 61h1v1h-1zM686 76h1v1h-1zM686 84h1v1h-1zM686 85h1v1h-1zM686 95h1v1h-1zM687 74h1v1h-1zM687 90h1v1h-1zM687 95h1v1h-1zM687 103h1v1h-1zM687 106h1v1h-1z"/><path fill="#00ff00" d="M133 74h1v1h-1zM136 72h1v1h-1zM136 92h1v1h-1zM146 66h1v1h-1zM146 71h1v1h-1zM146 72h1v1h-1zM208 84h1v1h-1zM222 82h1v1h-1zM222 89h1v1h-1zM241 83h1v1h-1zM247 79h1v1h-1zM258 79h1v1h-1zM258 82h1v1h-1zM261 74h1v1h-1zM261 81h1v1h-1zM278 88h1v1h-1zM278 93h1v1h-1zM278 97h1v1h-1zM281 79h1v1h-1zM295 66h1v1h-1zM305 86h1v1h-1zM322 78h1v1h-1zM331 89h1v1h-1zM359 90h1v1h-1zM376 98h1v1h-1zM376 99h1v1h-1zM381 83h1v1h-1zM381 94h1v1h-1zM382 65h1v1h-1zM382 66h1v1h-1zM382 90h1v1h-1zM382 94h1v1h-1zM409 92h1v1h-1zM412 83h1v1h-1zM415 79h1v1h-1zM422 90h1v1h-1zM426 90h1v1h-1zM438 95h1v1h-1zM447 68h1v1h-1zM447 81h1v1h-1zM474 68h1v1h-1zM474 90h1v1h-1zM475 92h1v1h-1zM475 100h1v1h-1zM489 75h1v1h-1zM500 86h1v1h-1zM508 85h1v1h-1zM521 78h1v1h-1zM526 85h1v1h-1zM540 87h1v1h-1zM540 96h1v1h-1zM544 76h1v1h-1zM545 83h1v1h-1zM545 88h1v1h-1zM546 75h1v1h-1zM546 83h1v1h-1zM548 99h1v1h-1zM553 77h1v1h-1zM553 84h1v1h-1zM553 85h1v1h-1zM563 77h1v1h-1zM572 72h1v1h-1zM572 79h1v1h-1zM591 86h1v1h-1zM592 88h1v1h-1zM595 91h1v1h-1zM600 67h1v1h-1zM611 86h1v1h-1zM614 89h1v1h-1zM614 90h1v1h-1zM623 77h1v1h-1zM626 80h1v1h-1zM626 85h1v1h-1zM628 68h1v1h-1zM628 83h1v1h-1zM631 73h1v1h-1zM635 62h1v1h-1zM635 68h1v1h-1zM637 71h1v1h-1zM637 82h1v1h-1zM637 83h1v1h-1zM638 74h1v1h-1zM638 89h1v1h-1zM640 72h1v1h-1zM640 75h1v1h-1zM646 74h1v1h-1zM646 78h1v1h-1zM646 88h1v1h-1zM646 92h1v1h-1zM652 89h1v1h-1zM653 88h1v1h-1zM654 81h1v1h-1zM655 84h1v1h-1zM660 81h1v1h-1zM661 77h1v1h-1zM661 84h1v1h-1zM666 82h1v1h-1zM670 86h1v1h-1zM673 88h1v1h-1zM679 80h1v1h-1zM682 88h1v1h-1zM686 77h1v1h-1zM687 83h1v1h-1zM687 96h1v1h-1z"/><path fill="#008040" d="M222 86h1v1h-1zM266 86h1v1h-1zM272 85h1v1h-1zM284 78h1v1h-1zM295 72h1v1h-1zM295 75h1v1h-1zM319 69h1v1h-1zM319 75h1v1h-1zM322 87h1v1h-1zM323 81h1v1h-1zM331 78h1v1h-1zM331 82h1v1h-1zM338 82h1v1h-1zM356 82h1v1h-1zM359 84h1v1h-1zM364 89h1v1h-1zM380 81h1v1h-1zM380 91h1v1h-1zM381 63h1v1h-1zM381 66h1v1h-1zM381 77h1v1h-1zM382 64h1v1h-1zM382 69h1v1h-1zM382 87h1v1h-1zM387 76h1v1h-1zM387 89h1v1h-1zM392 92h1v1h-1zM460 87h1v1h-1zM460 89h1v1h-1zM494 90h1v1h-1zM545 92h1v1h-1zM553 72h1v1h-1zM553 83h1v1h-1zM575 74h1v1h-1zM589 78h1v1h-1zM589 89h1v1h-1zM589 91h1v1h-1zM607 92h1v1h-1zM614 67h1v1h-1zM614 76h1v1h-1zM615 69h1v1h-1zM618 74h1v1h-1zM634 82h1v1h-1zM634 83h1v1h-1zM635 76h1v1h-1zM646 71h1v1h-1zM646 91h1v1h-1zM655 75h1v1h-1zM660 90h1v1h-1zM661 82h1v1h-1zM663 78h1v1h-1zM676 80h1v1h-1zM676 83h1v1h-1zM679 82h1v1h-1zM685 86h1v1h-1zM687 72h1v1h-1z"/><path fill="#ffff00" d="M687 79h1v1h-1z"/>
</g>
<text y="141.9" font-size="11.33"><tspan x="48.90" textLength="49.40" lengthAdjust="spacingAndGlyphs">21:00:00</tspan></text>
<text y="141.9" font-size="11.33"><tspan x="151.40" textLength="49.40" lengthAdjust="spacingAndGlyphs">21:10:00</tspan></text>
<text y="141.9" font-size="11.33"><tspan x="253.90" textLength="49.40" lengthAdjust="spacingAndGlyphs">21:20:00</tspan></text>
<text y="141.9" font-size="11.33"><tspan x="356.40" textLength="49.40" lengthAdjust="spacingAndGlyphs">21:30:00</tspan></text>
<text y="141.9" font-size="11.33"><tspan x="458.90" textLength="49.40" lengthAdjust="spacingAndGlyphs">21:40:00</tspan></text>
<text y="141.9" font-size="11.33"><tspan x="561.40" textLength="49.40" lengthAdjust="spacingAndGlyphs">21:50:00</tspan></text>
<text y="141.9" font-size="11.33"><tspan x="663.90" textLength="49.40" lengthAdjust="spacingAndGlyphs">22:00:00</tspan></text>
<text y="45.2" font-size="11.33"><tspan x="53.90" textLength="14.00" lengthAdjust="spacingAndGlyphs">20</tspan></text>
<text y="90.2" font-size="11.33"><tspan x="53.90" textLength="14.00" lengthAdjust="spacingAndGlyphs">10</tspan></text>
<text y="134.1" font-size="11.33"><tspan x="65.80" text-anchor="middle">0</tspan></text>
<text y="86.1" font-size="11.33" transform="rotate(-90 46.3 86.1)"><tspan x="12.77" textLength="46.48" lengthAdjust="spacingAndGlyphs">Altitude,</tspan> <tspan x="62.75" textLength="17.08" lengthAdjust="spacingAndGlyphs">km</tspan></text>
<g shape-rendering="crispEdges">
<rect x="133" y="158" width="2" height="87" fill="#f1f1f1"/>
<rect x="193" y="158" width="2" height="87" fill="#f1f1f1"/>
<rect x="254" y="158" width="2" height="87" fill="#f1f1f1"/>
<rect x="314" y="158" width="2" height="87" fill="#f1f1f1"/>
<rect x="375" y="158" width="2" height="87" fill="#f1f1f1"/>
<rect x="435" y="158" width="2" height="87" fill="#f1f1f1"/>
<rect x="496" y="158" width="2" height="87" fill="#f1f1f1"/>
<rect x="74" y="200" width="483" height="2" fill="#f1f1f1"/>
<path fill="#408080" d="M248 198h2v1h-2zM248 205h2v1h-2zM248 208h2v1h-2zM248 209h2v1h-2zM250 196h2v1h-2zM250 197h2v1h-2zM250 199h2v1h-2zM250 209h2v1h-2zM250 213h2v1h-2zM252 195h2v1h-2zM252 196h2v1h-2zM252 197h2v1h-2zM252 213h2v1h-2zM254 198h2v1h-2zM256 201h2v1h-2zM264 185h2v1h-2zM264 190h2v1h-2zM266 179h2v1h-2zM266 182h2v1h-2zM266 193h2v1h-2zM266 197h2v1h-2zM266 198h2v1h-2zM266 199h2v1h-2zM266 200h2v1h-2zM266 202h2v1h-2zM268 179h2v1h-2zM268 188h2v1h-2zM268 200h2v1h-2zM268 202h2v1h-2zM268 203h2v1h-2zM270 184h2v1h-2zM270 187h2v1h-2zM270 188h2v1h-2zM270 189h2v1h-2zM270 193h2v1h-2zM270 194h2v1h-2zM270 202h2v1h-2zM272 183h2v1h-2zM276 191h2v1h-2zM284 191h2v1h-2zM284 194h2v1h-2zM284 208h2v1h-2zM286 185h2v1h-2zM286 190h2v1h-2zM288 191h2v1h-2zM288 192h2v1h-2zM290 192h2v1h-2zM290 195h2v1h-2zM290 198h2v1h-2zM290 199h2v1h-2zM290 201h2v1h-2zM290 205h2v1h-2zM292 193h2v1h-2zM294 202h2v1h-2zM294 203h2v1h-2zM294 205h2v1h-2zM294 208h2v1h-2zM294 209h2v1h-2zM296 200h2v1h-2zM322 197h2v1h-2z"/><path fill="#ff0080" d="M248 203h2v1h-2zM250 198h2v1h-2zM250 200h2v1h-2zM250 203h2v1h-2zM250 205h2v1h-2zM252 203h2v1h-2zM252 205h2v1h-2zM252 208h2v1h-2zM266 190h2v1h-2zM268 183h2v1h-2zM268 191h2v1h-2zM268 194h2v1h-2zM268 195h2v1h-2zM284 198h2v1h-2zM284 199h2v1h-2zM286 199h2v1h-2zM286 202h2v1h-2zM286 203h2v1h-2zM288 202h2v1h-2zM288 203h2v1h-2z"/><path fill="#ffff00" d="M232 208h2v1h-2zM246 189h2v1h-2zM248 199h2v1h-2zM248 204h2v1h-2zM248 206h2v1h-2zM252 209h2v1h-2zM252 210h2v1h-2zM254 199h2v1h-2zM254 201h2v1h-2zM254 206h2v1h-2zM254 209h2v1h-2zM256 203h2v1h-2zM256 206h2v1h-2zM256 208h2v1h-2zM266 183h2v1h-2zM266 186h2v1h-2zM266 194h2v1h-2zM266 195h2v1h-2zM268 181h2v1h-2zM268 187h2v1h-2zM268 189h2v1h-2zM268 197h2v1h-2zM270 171h2v1h-2zM270 192h2v1h-2zM270 196h2v1h-2zM270 198h2v1h-2zM284 195h2v1h-2zM284 197h2v1h-2zM284 202h2v1h-2zM284 203h2v1h-2zM284 204h2v1h-2zM286 191h2v1h-2zM286 192h2v1h-2zM286 196h2v1h-2zM286 205h2v1h-2zM288 188h2v1h-2zM290 196h2v1h-2zM290 197h2v1h-2zM290 203h2v1h-2zM294 206h2v1h-2z"/><path fill="#0000ff" d="M232 189h2v1h-2zM232 205h2v1h-2zM232 209h2v1h-2zM234 190h2v1h-2zM234 204h2v1h-2zM234 211h2v1h-2zM234 213h2v1h-2zM236 207h2v1h-2zM238 212h2v1h-2zM244 186h2v1h-2zM244 200h2v1h-2zM244 221h2v1h-2zM246 197h2v1h-2zM246 201h2v1h-2zM246 203h2v1h-2zM246 211h2v1h-2zM246 212h2v1h-2zM246 215h2v1h-2zM246 217h2v1h-2zM246 218h2v1h-2zM248 227h2v1h-2zM250 185h2v1h-2zM250 190h2v1h-2zM250 192h2v1h-2zM250 217h2v1h-2zM250 223h2v1h-2zM250 229h2v1h-2zM252 190h2v1h-2zM252 191h2v1h-2zM252 192h2v1h-2zM252 216h2v1h-2zM252 226h2v1h-2zM254 195h2v1h-2zM254 211h2v1h-2zM256 204h2v1h-2zM256 205h2v1h-2zM256 216h2v1h-2zM258 190h2v1h-2zM258 202h2v1h-2zM258 205h2v1h-2zM258 212h2v1h-2zM260 192h2v1h-2zM260 194h2v1h-2zM260 195h2v1h-2zM260 202h2v1h-2zM262 188h2v1h-2zM262 194h2v1h-2zM262 199h2v1h-2zM262 203h2v1h-2zM264 164h2v1h-2zM264 181h2v1h-2zM264 184h2v1h-2zM264 189h2v1h-2zM264 202h2v1h-2zM264 205h2v1h-2zM266 172h2v1h-2zM266 177h2v1h-2zM266 203h2v1h-2zM266 205h2v1h-2zM266 210h2v1h-2zM266 214h2v1h-2zM268 163h2v1h-2zM268 173h2v1h-2zM268 208h2v1h-2zM268 214h2v1h-2zM270 172h2v1h-2zM270 176h2v1h-2zM270 207h2v1h-2zM270 208h2v1h-2zM272 169h2v1h-2zM272 171h2v1h-2zM272 185h2v1h-2zM272 186h2v1h-2zM272 187h2v1h-2zM272 191h2v1h-2zM272 197h2v1h-2zM272 199h2v1h-2zM272 201h2v1h-2zM272 202h2v1h-2zM276 180h2v1h-2zM278 174h2v1h-2zM278 184h2v1h-2zM278 188h2v1h-2zM280 195h2v1h-2zM280 197h2v1h-2zM280 201h2v1h-2zM280 204h2v1h-2zM282 165h2v1h-2zM282 171h2v1h-2zM282 172h2v1h-2zM282 178h2v1h-2zM282 181h2v1h-2zM282 186h2v1h-2zM282 187h2v1h-2zM282 189h2v1h-2zM282 194h2v1h-2zM282 206h2v1h-2zM282 209h2v1h-2zM284 168h2v1h-2zM284 179h2v1h-2zM284 183h2v1h-2zM284 187h2v1h-2zM284 188h2v1h-2zM286 176h2v1h-2zM286 187h2v1h-2zM286 210h2v1h-2zM288 170h2v1h-2zM288 172h2v1h-2zM288 177h2v1h-2zM288 186h2v1h-2zM290 181h2v1h-2zM290 186h2v1h-2zM290 188h2v1h-2zM290 207h2v1h-2zM292 188h2v1h-2zM292 189h2v1h-2zM292 194h2v1h-2zM292 195h2v1h-2zM292 202h2v1h-2zM292 206h2v1h-2zM292 207h2v1h-2zM294 196h2v1h-2zM294 200h2v1h-2zM298 210h2v1h-2zM322 196h2v1h-2zM322 200h2v1h-2zM322 203h2v1h-2zM324 200h2v1h-2z"/><path fill="#800000" d="M252 204h2v1h-2z"/><path fill="#ff0000" d="M250 201h2v1h-2zM250 204h2v1h-2zM250 207h2v1h-2zM252 202h2v1h-2zM252 207h2v1h-2zM268 192h2v1h-2zM286 200h2v1h-2zM286 201h2v1h-2zM288 195h2v1h-2zM288 199h2v1h-2zM288 201h2v1h-2zM296 205h2v1h-2z"/><path fill="#008040" d="M234 206h2v1h-2zM234 207h2v1h-2zM246 199h2v1h-2zM246 207h2v1h-2zM248 197h2v1h-2zM248 207h2v1h-2zM248 210h2v1h-2zM248 214h2v1h-2zM250 212h2v1h-2zM252 194h2v1h-2zM252 211h2v1h-2zM252 212h2v1h-2zM254 188h2v1h-2zM254 200h2v1h-2zM254 210h2v1h-2zM264 186h2v1h-2zM264 187h2v1h-2zM264 193h2v1h-2zM264 197h2v1h-2zM266 167h2v1h-2zM266 176h2v1h-2zM266 178h2v1h-2zM266 181h2v1h-2zM268 175h2v1h-2zM268 176h2v1h-2zM268 178h2v1h-2zM268 205h2v1h-2zM268 207h2v1h-2zM270 185h2v1h-2zM270 199h2v1h-2zM270 201h2v1h-2zM272 179h2v1h-2zM272 188h2v1h-2zM278 182h2v1h-2zM282 193h2v1h-2zM282 196h2v1h-2zM282 197h2v1h-2zM282 198h2v1h-2zM282 199h2v1h-2zM282 200h2v1h-2zM284 180h2v1h-2zM284 192h2v1h-2zM284 193h2v1h-2zM286 189h2v1h-2zM286 204h2v1h-2zM286 208h2v1h-2zM288 190h2v1h-2zM288 205h2v1h-2zM288 207h2v1h-2zM290 187h2v1h-2zM290 189h2v1h-2zM290 191h2v1h-2zM290 193h2v1h-2zM290 194h2v1h-2zM290 202h2v1h-2zM292 192h2v1h-2zM292 204h2v1h-2zM294 212h2v1h-2zM296 202h2v1h-2zM296 210h2v1h-2zM298 204h2v1h-2zM298 205h2v1h-2zM298 208h2v1h-2zM322 199h2v1h-2z"/><path fill="#8000ff" d="M230 202h2v1h-2zM230 207h2v1h-2zM230 215h2v1h-2zM232 174h2v1h-2zM232 181h2v1h-2zM232 197h2v1h-2zM232 204h2v1h-2zM232 207h2v1h-2zM232 214h2v1h-2zM234 184h2v1h-2zM234 194h2v1h-2zM234 199h2v1h-2zM234 214h2v1h-2zM236 201h2v1h-2zM236 204h2v1h-2zM236 209h2v1h-2zM238 218h2v1h-2zM242 199h2v1h-2zM242 210h2v1h-2zM244 187h2v1h-2zM244 191h2v1h-2zM244 199h2v1h-2zM244 201h2v1h-2zM244 211h2v1h-2zM244 212h2v1h-2zM246 192h2v1h-2zM246 206h2v1h-2zM246 210h2v1h-2zM246 214h2v1h-2zM246 216h2v1h-2zM246 226h2v1h-2zM248 181h2v1h-2zM248 223h2v1h-2zM248 225h2v1h-2zM248 226h2v1h-2zM248 228h2v1h-2zM250 215h2v1h-2zM250 216h2v1h-2zM250 220h2v1h-2zM250 222h2v1h-2zM250 226h2v1h-2zM252 181h2v1h-2zM252 224h2v1h-2zM254 192h2v1h-2zM254 213h2v1h-2zM254 223h2v1h-2zM256 197h2v1h-2zM256 211h2v1h-2zM256 212h2v1h-2zM258 178h2v1h-2zM258 192h2v1h-2zM258 193h2v1h-2zM258 194h2v1h-2zM258 203h2v1h-2zM258 211h2v1h-2zM258 214h2v1h-2zM258 224h2v1h-2zM260 161h2v1h-2zM260 173h2v1h-2zM260 184h2v1h-2zM260 187h2v1h-2zM260 188h2v1h-2zM260 191h2v1h-2zM260 198h2v1h-2zM260 201h2v1h-2zM260 203h2v1h-2zM260 204h2v1h-2zM260 212h2v1h-2zM260 213h2v1h-2zM262 162h2v1h-2zM262 168h2v1h-2zM262 178h2v1h-2zM262 180h2v1h-2zM262 197h2v1h-2zM262 201h2v1h-2zM262 204h2v1h-2zM264 167h2v1h-2zM264 168h2v1h-2zM264 170h2v1h-2zM264 174h2v1h-2zM264 177h2v1h-2zM264 178h2v1h-2zM264 195h2v1h-2zM264 198h2v1h-2zM264 199h2v1h-2zM264 203h2v1h-2zM264 206h2v1h-2zM264 214h2v1h-2zM264 222h2v1h-2zM266 162h2v1h-2zM266 170h2v1h-2zM266 171h2v1h-2zM266 174h2v1h-2zM266 175h2v1h-2zM266 206h2v1h-2zM266 207h2v1h-2zM266 209h2v1h-2zM266 211h2v1h-2zM266 216h2v1h-2zM266 224h2v1h-2zM268 158h2v1h-2zM268 159h2v1h-2zM268 161h2v1h-2zM268 168h2v1h-2zM268 174h2v1h-2zM268 209h2v1h-2zM268 212h2v1h-2zM270 163h2v1h-2zM270 165h2v1h-2zM270 169h2v1h-2zM270 175h2v1h-2zM270 177h2v1h-2zM270 209h2v1h-2zM270 211h2v1h-2zM270 213h2v1h-2zM272 158h2v1h-2zM272 164h2v1h-2zM272 166h2v1h-2zM272 167h2v1h-2zM272 168h2v1h-2zM272 172h2v1h-2zM272 175h2v1h-2zM272 178h2v1h-2zM272 181h2v1h-2zM272 184h2v1h-2zM272 200h2v1h-2zM272 204h2v1h-2zM272 206h2v1h-2zM272 208h2v1h-2zM274 165h2v1h-2zM274 170h2v1h-2zM274 177h2v1h-2zM274 179h2v1h-2zM274 180h2v1h-2zM274 188h2v1h-2zM274 209h2v1h-2zM276 163h2v1h-2zM276 168h2v1h-2zM276 173h2v1h-2zM276 174h2v1h-2zM276 182h2v1h-2zM276 190h2v1h-2zM276 201h2v1h-2zM278 166h2v1h-2zM278 173h2v1h-2zM278 178h2v1h-2zM278 179h2v1h-2zM278 187h2v1h-2zM278 190h2v1h-2zM278 197h2v1h-2zM280 164h2v1h-2zM280 182h2v1h-2zM280 186h2v1h-2zM280 191h2v1h-2zM280 192h2v1h-2zM280 193h2v1h-2zM280 196h2v1h-2zM280 200h2v1h-2zM280 202h2v1h-2zM280 208h2v1h-2zM282 162h2v1h-2zM282 166h2v1h-2zM282 170h2v1h-2zM282 175h2v1h-2zM282 183h2v1h-2zM282 184h2v1h-2zM282 202h2v1h-2zM282 208h2v1h-2zM282 210h2v1h-2zM284 161h2v1h-2zM284 171h2v1h-2zM284 177h2v1h-2zM284 185h2v1h-2zM284 227h2v1h-2zM286 166h2v1h-2zM286 174h2v1h-2zM286 180h2v1h-2zM286 181h2v1h-2zM286 207h2v1h-2zM286 209h2v1h-2zM286 212h2v1h-2zM288 174h2v1h-2zM288 176h2v1h-2zM288 180h2v1h-2zM288 183h2v1h-2zM288 185h2v1h-2zM288 187h2v1h-2zM288 208h2v1h-2zM288 210h2v1h-2zM288 211h2v1h-2zM288 225h2v1h-2zM288 226h2v1h-2zM290 179h2v1h-2zM290 183h2v1h-2zM290 184h2v1h-2zM290 213h2v1h-2zM290 224h2v1h-2zM290 226h2v1h-2zM290 227h2v1h-2zM292 178h2v1h-2zM292 180h2v1h-2zM292 187h2v1h-2zM292 205h2v1h-2zM292 212h2v1h-2zM294 179h2v1h-2zM294 191h2v1h-2zM294 194h2v1h-2zM294 210h2v1h-2zM294 211h2v1h-2zM294 213h2v1h-2zM294 214h2v1h-2zM294 216h2v1h-2zM296 193h2v1h-2zM296 194h2v1h-2zM296 195h2v1h-2zM296 212h2v1h-2zM296 214h2v1h-2zM298 200h2v1h-2zM298 202h2v1h-2zM298 213h2v1h-2zM300 206h2v1h-2zM320 174h2v1h-2zM320 191h2v1h-2zM320 204h2v1h-2zM322 186h2v1h-2zM322 192h2v1h-2zM322 193h2v1h-2zM322 204h2v1h-2zM324 179h2v1h-2zM324 184h2v1h-2zM324 192h2v1h-2zM324 199h2v1h-2z"/><path fill="#ff8000" d="M250 208h2v1h-2zM252 198h2v1h-2zM252 199h2v1h-2zM252 200h2v1h-2zM252 201h2v1h-2zM254 202h2v1h-2zM254 203h2v1h-2zM254 204h2v1h-2zM254 205h2v1h-2zM266 188h2v1h-2zM266 191h2v1h-2zM266 192h2v1h-2zM268 184h2v1h-2zM268 185h2v1h-2zM268 190h2v1h-2zM270 183h2v1h-2zM284 196h2v1h-2zM284 201h2v1h-2zM286 193h2v1h-2zM288 193h2v1h-2zM288 194h2v1h-2zM288 196h2v1h-2zM288 197h2v1h-2zM288 198h2v1h-2zM288 204h2v1h-2zM296 203h2v1h-2zM296 204h2v1h-2zM296 206h2v1h-2zM296 208h2v1h-2z"/><path fill="#0080ff" d="M230 184h2v1h-2zM232 210h2v1h-2zM234 209h2v1h-2zM236 213h2v1h-2zM242 196h2v1h-2zM244 203h2v1h-2zM246 205h2v1h-2zM246 208h2v1h-2zM246 220h2v1h-2zM248 186h2v1h-2zM248 193h2v1h-2zM248 194h2v1h-2zM248 196h2v1h-2zM250 214h2v1h-2zM252 193h2v1h-2zM252 215h2v1h-2zM252 227h2v1h-2zM254 212h2v1h-2zM254 214h2v1h-2zM256 195h2v1h-2zM256 196h2v1h-2zM256 202h2v1h-2zM256 210h2v1h-2zM256 213h2v1h-2zM258 197h2v1h-2zM258 200h2v1h-2zM258 201h2v1h-2zM258 207h2v1h-2zM260 190h2v1h-2zM260 199h2v1h-2zM262 198h2v1h-2zM264 166h2v1h-2zM264 172h2v1h-2zM264 188h2v1h-2zM264 191h2v1h-2zM264 196h2v1h-2zM266 169h2v1h-2zM266 173h2v1h-2zM266 208h2v1h-2zM268 166h2v1h-2zM268 169h2v1h-2zM268 170h2v1h-2zM268 177h2v1h-2zM268 180h2v1h-2zM268 201h2v1h-2zM268 211h2v1h-2zM270 164h2v1h-2zM270 178h2v1h-2zM270 180h2v1h-2zM270 203h2v1h-2zM270 204h2v1h-2zM270 205h2v1h-2zM272 182h2v1h-2zM272 190h2v1h-2zM272 192h2v1h-2zM272 194h2v1h-2zM272 195h2v1h-2zM276 192h2v1h-2zM278 180h2v1h-2zM280 189h2v1h-2zM280 199h2v1h-2zM282 174h2v1h-2zM282 190h2v1h-2zM282 191h2v1h-2zM282 192h2v1h-2zM282 201h2v1h-2zM282 204h2v1h-2zM284 206h2v1h-2zM284 207h2v1h-2zM286 172h2v1h-2zM286 178h2v1h-2zM286 182h2v1h-2zM288 209h2v1h-2zM290 206h2v1h-2zM290 209h2v1h-2zM292 190h2v1h-2zM292 201h2v1h-2zM294 201h2v1h-2zM296 199h2v1h-2zM296 201h2v1h-2zM296 211h2v1h-2zM298 203h2v1h-2zM322 191h2v1h-2z"/><path fill="#ffc080" d="M234 208h2v1h-2zM248 200h2v1h-2zM248 201h2v1h-2zM248 202h2v1h-2zM250 195h2v1h-2zM250 210h2v1h-2zM250 211h2v1h-2zM254 207h2v1h-2zM254 208h2v1h-2zM266 185h2v1h-2zM266 187h2v1h-2zM266 189h2v1h-2zM266 196h2v1h-2zM268 182h2v1h-2zM268 186h2v1h-2zM268 193h2v1h-2zM268 196h2v1h-2zM268 198h2v1h-2zM268 199h2v1h-2zM270 181h2v1h-2zM270 186h2v1h-2zM270 190h2v1h-2zM270 191h2v1h-2zM284 200h2v1h-2zM286 194h2v1h-2zM286 195h2v1h-2zM288 200h2v1h-2zM290 200h2v1h-2zM294 204h2v1h-2zM294 207h2v1h-2zM296 207h2v1h-2zM296 209h2v1h-2z"/><path fill="#00ff00" d="M236 206h2v1h-2zM254 196h2v1h-2zM254 197h2v1h-2zM256 199h2v1h-2zM256 207h2v1h-2zM256 209h2v1h-2zM260 193h2v1h-2zM264 182h2v1h-2zM264 200h2v1h-2zM264 204h2v1h-2zM266 168h2v1h-2zM266 180h2v1h-2zM266 184h2v1h-2zM268 171h2v1h-2zM270 195h2v1h-2zM270 206h2v1h-2zM272 189h2v1h-2zM272 193h2v1h-2zM272 196h2v1h-2zM282 195h2v1h-2zM284 184h2v1h-2zM284 189h2v1h-2zM284 205h2v1h-2zM286 206h2v1h-2zM286 224h2v1h-2zM288 206h2v1h-2zM290 204h2v1h-2zM292 197h2v1h-2zM292 198h2v1h-2zM298 207h2v1h-2zM298 209h2v1h-2zM322 194h2v1h-2zM322 198h2v1h-2z"/><path fill="#00ffff" d="M232 206h2v1h-2zM234 202h2v1h-2zM234 205h2v1h-2zM234 210h2v1h-2zM246 198h2v1h-2zM246 200h2v1h-2zM246 204h2v1h-2zM246 209h2v1h-2zM248 211h2v1h-2zM248 213h2v1h-2zM250 193h2v1h-2zM250 194h2v1h-2zM250 227h2v1h-2zM252 214h2v1h-2zM252 222h2v1h-2zM254 193h2v1h-2zM256 198h2v1h-2zM256 200h2v1h-2zM258 196h2v1h-2zM264 176h2v1h-2zM264 180h2v1h-2zM266 165h2v1h-2zM266 201h2v1h-2zM266 204h2v1h-2zM266 221h2v1h-2zM268 165h2v1h-2zM268 167h2v1h-2zM268 172h2v1h-2zM268 204h2v1h-2zM270 174h2v1h-2zM270 179h2v1h-2zM270 182h2v1h-2zM270 197h2v1h-2zM270 200h2v1h-2zM272 177h2v1h-2zM278 198h2v1h-2zM282 176h2v1h-2zM282 203h2v1h-2zM282 207h2v1h-2zM284 190h2v1h-2zM286 184h2v1h-2zM286 188h2v1h-2zM288 179h2v1h-2zM288 189h2v1h-2zM290 190h2v1h-2zM292 196h2v1h-2zM292 199h2v1h-2zM292 200h2v1h-2zM292 203h2v1h-2zM292 210h2v1h-2zM292 211h2v1h-2zM294 199h2v1h-2zM298 201h2v1h-2zM298 206h2v1h-2zM324 197h2v1h-2z"/><path fill="#c00000" d="M250 202h2v1h-2zM250 206h2v1h-2zM252 206h2v1h-2zM286 197h2v1h-2zM286 198h2v1h-2z"/><path fill="#ff50ff" d="M200 178h2v1h-2zM216 196h2v1h-2zM218 192h2v1h-2zM220 172h2v1h-2zM222 188h2v1h-2zM222 207h2v1h-2zM226 181h2v1h-2zM226 208h2v1h-2zM226 213h2v1h-2zM226 225h2v1h-2zM226 226h2v1h-2zM228 179h2v1h-2zM228 180h2v1h-2zM228 188h2v1h-2zM228 191h2v1h-2zM228 209h2v1h-2zM228 210h2v1h-2zM228 213h2v1h-2zM230 191h2v1h-2zM230 212h2v1h-2zM230 217h2v1h-2zM232 169h2v1h-2zM232 178h2v1h-2zM232 183h2v1h-2zM232 186h2v1h-2zM232 190h2v1h-2zM232 196h2v1h-2zM232 198h2v1h-2zM232 199h2v1h-2zM232 201h2v1h-2zM232 212h2v1h-2zM232 216h2v1h-2zM232 223h2v1h-2zM234 167h2v1h-2zM234 168h2v1h-2zM234 169h2v1h-2zM234 172h2v1h-2zM234 175h2v1h-2zM234 179h2v1h-2zM234 186h2v1h-2zM234 200h2v1h-2zM234 203h2v1h-2zM234 212h2v1h-2zM234 215h2v1h-2zM234 219h2v1h-2zM234 220h2v1h-2zM234 222h2v1h-2zM234 223h2v1h-2zM234 244h2v1h-2zM236 163h2v1h-2zM236 173h2v1h-2zM236 178h2v1h-2zM236 181h2v1h-2zM236 189h2v1h-2zM236 194h2v1h-2zM236 197h2v1h-2zM236 202h2v1h-2zM236 203h2v1h-2zM236 205h2v1h-2zM236 208h2v1h-2zM236 211h2v1h-2zM236 214h2v1h-2zM236 215h2v1h-2zM238 174h2v1h-2zM238 177h2v1h-2zM238 186h2v1h-2zM238 191h2v1h-2zM238 196h2v1h-2zM238 202h2v1h-2zM238 220h2v1h-2zM240 163h2v1h-2zM240 188h2v1h-2zM240 192h2v1h-2zM240 194h2v1h-2zM240 200h2v1h-2zM240 206h2v1h-2zM242 184h2v1h-2zM242 192h2v1h-2zM242 203h2v1h-2zM242 204h2v1h-2zM242 205h2v1h-2zM242 208h2v1h-2zM242 221h2v1h-2zM244 193h2v1h-2zM244 194h2v1h-2zM244 197h2v1h-2zM244 198h2v1h-2zM244 204h2v1h-2zM244 205h2v1h-2zM244 206h2v1h-2zM244 207h2v1h-2zM244 209h2v1h-2zM244 214h2v1h-2zM244 216h2v1h-2zM244 218h2v1h-2zM244 222h2v1h-2zM244 227h2v1h-2zM246 176h2v1h-2zM246 179h2v1h-2zM246 183h2v1h-2zM246 187h2v1h-2zM246 190h2v1h-2zM246 191h2v1h-2zM246 194h2v1h-2zM246 195h2v1h-2zM246 196h2v1h-2zM246 202h2v1h-2zM246 219h2v1h-2zM246 221h2v1h-2zM246 227h2v1h-2zM246 228h2v1h-2zM246 232h2v1h-2zM248 188h2v1h-2zM248 191h2v1h-2zM248 192h2v1h-2zM248 195h2v1h-2zM248 212h2v1h-2zM248 215h2v1h-2zM248 216h2v1h-2zM248 217h2v1h-2zM248 218h2v1h-2zM248 220h2v1h-2zM248 224h2v1h-2zM248 230h2v1h-2zM248 238h2v1h-2zM250 181h2v1h-2zM250 182h2v1h-2zM250 187h2v1h-2zM250 189h2v1h-2zM250 191h2v1h-2zM250 221h2v1h-2zM250 230h2v1h-2zM250 239h2v1h-2zM252 185h2v1h-2zM252 187h2v1h-2zM252 217h2v1h-2zM252 218h2v1h-2zM252 220h2v1h-2zM252 225h2v1h-2zM252 228h2v1h-2zM254 172h2v1h-2zM254 187h2v1h-2zM254 191h2v1h-2zM254 194h2v1h-2zM254 215h2v1h-2zM254 216h2v1h-2zM254 217h2v1h-2zM254 220h2v1h-2zM254 221h2v1h-2zM254 226h2v1h-2zM254 227h2v1h-2zM256 169h2v1h-2zM256 185h2v1h-2zM256 186h2v1h-2zM256 189h2v1h-2zM256 190h2v1h-2zM256 192h2v1h-2zM256 193h2v1h-2zM256 194h2v1h-2zM256 214h2v1h-2zM256 215h2v1h-2zM256 218h2v1h-2zM256 219h2v1h-2zM256 221h2v1h-2zM256 226h2v1h-2zM256 227h2v1h-2zM256 228h2v1h-2zM258 163h2v1h-2zM258 174h2v1h-2zM258 182h2v1h-2zM258 185h2v1h-2zM258 188h2v1h-2zM258 198h2v1h-2zM258 204h2v1h-2zM258 206h2v1h-2zM258 208h2v1h-2zM258 209h2v1h-2zM258 210h2v1h-2zM258 213h2v1h-2zM258 220h2v1h-2zM258 229h2v1h-2zM260 159h2v1h-2zM260 164h2v1h-2zM260 174h2v1h-2zM260 180h2v1h-2zM260 182h2v1h-2zM260 183h2v1h-2zM260 186h2v1h-2zM260 196h2v1h-2zM260 205h2v1h-2zM260 206h2v1h-2zM260 207h2v1h-2zM260 211h2v1h-2zM260 214h2v1h-2zM260 216h2v1h-2zM260 217h2v1h-2zM262 165h2v1h-2zM262 169h2v1h-2zM262 170h2v1h-2zM262 173h2v1h-2zM262 175h2v1h-2zM262 176h2v1h-2zM262 177h2v1h-2zM262 179h2v1h-2zM262 182h2v1h-2zM262 183h2v1h-2zM262 185h2v1h-2zM262 186h2v1h-2zM262 189h2v1h-2zM262 190h2v1h-2zM262 191h2v1h-2zM262 192h2v1h-2zM262 193h2v1h-2zM262 196h2v1h-2zM262 200h2v1h-2zM262 205h2v1h-2zM262 209h2v1h-2zM262 215h2v1h-2zM262 216h2v1h-2zM262 227h2v1h-2zM264 159h2v1h-2zM264 160h2v1h-2zM264 162h2v1h-2zM264 173h2v1h-2zM264 175h2v1h-2zM264 179h2v1h-2zM264 183h2v1h-2zM264 201h2v1h-2zM264 207h2v1h-2zM264 208h2v1h-2zM264 209h2v1h-2zM264 210h2v1h-2zM264 212h2v1h-2zM264 213h2v1h-2zM264 220h2v1h-2zM264 224h2v1h-2zM266 159h2v1h-2zM266 164h2v1h-2zM266 212h2v1h-2zM266 215h2v1h-2zM266 218h2v1h-2zM266 223h2v1h-2zM266 227h2v1h-2zM268 162h2v1h-2zM268 164h2v1h-2zM268 206h2v1h-2zM268 213h2v1h-2zM268 215h2v1h-2zM268 216h2v1h-2zM268 218h2v1h-2zM268 219h2v1h-2zM268 222h2v1h-2zM270 159h2v1h-2zM270 160h2v1h-2zM270 161h2v1h-2zM270 167h2v1h-2zM270 170h2v1h-2zM270 212h2v1h-2zM270 216h2v1h-2zM270 217h2v1h-2zM270 218h2v1h-2zM272 160h2v1h-2zM272 163h2v1h-2zM272 165h2v1h-2zM272 174h2v1h-2zM272 180h2v1h-2zM272 203h2v1h-2zM272 207h2v1h-2zM272 210h2v1h-2zM272 211h2v1h-2zM272 219h2v1h-2zM274 160h2v1h-2zM274 166h2v1h-2zM274 167h2v1h-2zM274 168h2v1h-2zM274 172h2v1h-2zM274 173h2v1h-2zM274 178h2v1h-2zM274 183h2v1h-2zM274 184h2v1h-2zM274 185h2v1h-2zM274 186h2v1h-2zM274 187h2v1h-2zM274 194h2v1h-2zM274 195h2v1h-2zM274 196h2v1h-2zM274 201h2v1h-2zM274 212h2v1h-2zM276 158h2v1h-2zM276 161h2v1h-2zM276 167h2v1h-2zM276 169h2v1h-2zM276 175h2v1h-2zM276 176h2v1h-2zM276 177h2v1h-2zM276 179h2v1h-2zM276 189h2v1h-2zM276 193h2v1h-2zM276 194h2v1h-2zM276 195h2v1h-2zM276 198h2v1h-2zM276 204h2v1h-2zM276 205h2v1h-2zM278 163h2v1h-2zM278 165h2v1h-2zM278 168h2v1h-2zM278 170h2v1h-2zM278 172h2v1h-2zM278 177h2v1h-2zM278 181h2v1h-2zM278 183h2v1h-2zM278 185h2v1h-2zM278 186h2v1h-2zM278 191h2v1h-2zM278 192h2v1h-2zM278 193h2v1h-2zM278 194h2v1h-2zM278 195h2v1h-2zM278 196h2v1h-2zM278 199h2v1h-2zM278 201h2v1h-2zM278 208h2v1h-2zM278 218h2v1h-2zM280 172h2v1h-2zM280 176h2v1h-2zM280 177h2v1h-2zM280 179h2v1h-2zM280 181h2v1h-2zM280 187h2v1h-2zM280 188h2v1h-2zM280 190h2v1h-2zM280 194h2v1h-2zM280 203h2v1h-2zM280 205h2v1h-2zM280 206h2v1h-2zM280 209h2v1h-2zM280 227h2v1h-2zM282 158h2v1h-2zM282 159h2v1h-2zM282 169h2v1h-2zM282 179h2v1h-2zM282 182h2v1h-2zM282 185h2v1h-2zM282 205h2v1h-2zM282 219h2v1h-2zM282 226h2v1h-2zM284 159h2v1h-2zM284 160h2v1h-2zM284 164h2v1h-2zM284 165h2v1h-2zM284 169h2v1h-2zM284 173h2v1h-2zM284 174h2v1h-2zM284 175h2v1h-2zM284 176h2v1h-2zM284 178h2v1h-2zM284 186h2v1h-2zM284 210h2v1h-2zM284 211h2v1h-2zM284 213h2v1h-2zM284 214h2v1h-2zM284 216h2v1h-2zM284 217h2v1h-2zM284 226h2v1h-2zM284 229h2v1h-2zM286 162h2v1h-2zM286 164h2v1h-2zM286 165h2v1h-2zM286 167h2v1h-2zM286 168h2v1h-2zM286 170h2v1h-2zM286 171h2v1h-2zM286 173h2v1h-2zM286 175h2v1h-2zM286 177h2v1h-2zM286 183h2v1h-2zM286 186h2v1h-2zM286 211h2v1h-2zM286 213h2v1h-2zM286 214h2v1h-2zM286 219h2v1h-2zM286 222h2v1h-2zM286 227h2v1h-2zM286 228h2v1h-2zM288 166h2v1h-2zM288 167h2v1h-2zM288 168h2v1h-2zM288 169h2v1h-2zM288 171h2v1h-2zM288 181h2v1h-2zM288 182h2v1h-2zM288 184h2v1h-2zM288 212h2v1h-2zM288 214h2v1h-2zM288 216h2v1h-2zM288 224h2v1h-2zM288 229h2v1h-2zM290 159h2v1h-2zM290 166h2v1h-2zM290 167h2v1h-2zM290 169h2v1h-2zM290 174h2v1h-2zM290 176h2v1h-2zM290 178h2v1h-2zM290 180h2v1h-2zM290 185h2v1h-2zM290 208h2v1h-2zM290 210h2v1h-2zM290 215h2v1h-2zM292 161h2v1h-2zM292 166h2v1h-2zM292 171h2v1h-2zM292 174h2v1h-2zM292 175h2v1h-2zM292 179h2v1h-2zM292 186h2v1h-2zM292 191h2v1h-2zM292 208h2v1h-2zM292 209h2v1h-2zM292 214h2v1h-2zM292 216h2v1h-2zM292 224h2v1h-2zM294 163h2v1h-2zM294 180h2v1h-2zM294 184h2v1h-2zM294 185h2v1h-2zM294 186h2v1h-2zM294 192h2v1h-2zM294 195h2v1h-2zM294 197h2v1h-2zM294 198h2v1h-2zM294 225h2v1h-2zM294 226h2v1h-2zM296 187h2v1h-2zM296 192h2v1h-2zM296 196h2v1h-2zM296 197h2v1h-2zM296 198h2v1h-2zM296 213h2v1h-2zM296 215h2v1h-2zM296 218h2v1h-2zM296 223h2v1h-2zM298 167h2v1h-2zM298 195h2v1h-2zM298 198h2v1h-2zM298 199h2v1h-2zM298 212h2v1h-2zM298 214h2v1h-2zM298 216h2v1h-2zM298 219h2v1h-2zM300 191h2v1h-2zM300 197h2v1h-2zM300 199h2v1h-2zM300 201h2v1h-2zM300 203h2v1h-2zM300 208h2v1h-2zM302 183h2v1h-2zM302 208h2v1h-2zM302 215h2v1h-2zM306 184h2v1h-2zM306 201h2v1h-2zM320 169h2v1h-2zM320 176h2v1h-2zM320 178h2v1h-2zM320 182h2v1h-2zM320 184h2v1h-2zM320 185h2v1h-2zM320 192h2v1h-2zM320 194h2v1h-2zM320 195h2v1h-2zM320 197h2v1h-2zM320 198h2v1h-2zM320 205h2v1h-2zM320 209h2v1h-2zM320 210h2v1h-2zM322 163h2v1h-2zM322 169h2v1h-2zM322 179h2v1h-2zM322 183h2v1h-2zM322 184h2v1h-2zM322 185h2v1h-2zM322 189h2v1h-2zM322 190h2v1h-2zM322 195h2v1h-2zM322 202h2v1h-2zM322 208h2v1h-2zM322 219h2v1h-2zM324 169h2v1h-2zM324 177h2v1h-2zM324 182h2v1h-2zM324 187h2v1h-2zM324 190h2v1h-2zM324 191h2v1h-2zM324 194h2v1h-2zM324 196h2v1h-2zM324 198h2v1h-2zM324 203h2v1h-2zM324 209h2v1h-2zM326 184h2v1h-2zM326 196h2v1h-2z"/><path fill="#ff50ff" d="M198 194h2v1h-2zM211 211h2v1h-2zM213 219h2v1h-2zM214 204h2v1h-2zM221 181h2v1h-2zM337 176h2v1h-2zM331 168h2v1h-2zM166 171h2v1h-2z"/>
<rect x="73" y="157" width="485" height="1" fill="#000"/><rect x="73" y="245" width="485" height="1" fill="#000"/><rect x="73" y="157" width="1" height="89" fill="#000"/><rect x="557" y="157" width="1" height="89" fill="#000"/>
<rect x="73" y="240" width="1" height="5" fill="#000"/>
<rect x="134" y="240" width="1" height="5" fill="#000"/>
<rect x="194" y="240" width="1" height="5" fill="#000"/>
<rect x="255" y="240" width="1" height="5" fill="#000"/>
<rect x="315" y="240" width="1" height="5" fill="#000"/>
<rect x="376" y="240" width="1" height="5" fill="#000"/>
<rect x="436" y="240" width="1" height="5" fill="#000"/>
<rect x="497" y="240" width="1" height="5" fill="#000"/>
<rect x="557" y="240" width="1" height="5" fill="#000"/>
<rect x="73" y="157" width="6" height="1" fill="#000"/>
<rect x="73" y="201" width="6" height="1" fill="#000"/>
<rect x="73" y="245" width="6" height="1" fill="#000"/>
</g>
<text y="257.7" font-size="11.33"><tspan x="57.69" textLength="30.21" lengthAdjust="spacingAndGlyphs">−400</tspan></text>
<text y="257.7" font-size="11.33"><tspan x="118.19" textLength="30.21" lengthAdjust="spacingAndGlyphs">−300</tspan></text>
<text y="257.7" font-size="11.33"><tspan x="178.69" textLength="30.21" lengthAdjust="spacingAndGlyphs">−200</tspan></text>
<text y="257.7" font-size="11.33"><tspan x="239.19" textLength="30.21" lengthAdjust="spacingAndGlyphs">−100</tspan></text>
<text y="257.7" font-size="11.33"><tspan x="315.70" text-anchor="middle">0</tspan></text>
<text y="257.7" font-size="11.33"><tspan x="365.70" textLength="21.00" lengthAdjust="spacingAndGlyphs">100</tspan></text>
<text y="257.7" font-size="11.33"><tspan x="426.20" textLength="21.00" lengthAdjust="spacingAndGlyphs">200</tspan></text>
<text y="257.7" font-size="11.33"><tspan x="486.70" textLength="21.00" lengthAdjust="spacingAndGlyphs">300</tspan></text>
<text y="257.7" font-size="11.33"><tspan x="547.20" textLength="21.00" lengthAdjust="spacingAndGlyphs">400</tspan></text>
<text y="161.3" font-size="11.33"><tspan x="53.90" textLength="14.00" lengthAdjust="spacingAndGlyphs">20</tspan></text>
<text y="205.3" font-size="11.33"><tspan x="53.90" textLength="14.00" lengthAdjust="spacingAndGlyphs">10</tspan></text>
<text y="249.2" font-size="11.33"><tspan x="65.80" text-anchor="middle">0</tspan></text>
<text y="201" font-size="11.33" transform="rotate(-90 46.3 201)"><tspan x="12.77" textLength="46.48" lengthAdjust="spacingAndGlyphs">Altitude,</tspan> <tspan x="62.75" textLength="17.08" lengthAdjust="spacingAndGlyphs">km</tspan></text>
<text y="264.1" font-size="11.33"><tspan x="276.31" textLength="57.80" lengthAdjust="spacingAndGlyphs">East-West,</tspan> <tspan x="337.60" textLength="17.08" lengthAdjust="spacingAndGlyphs">km</tspan></text>
<g shape-rendering="crispEdges">
<rect x="595" y="157" width="94" height="1" fill="#000"/><rect x="595" y="245" width="94" height="1" fill="#000"/><rect x="595" y="157" width="1" height="89" fill="#000"/><rect x="688" y="157" width="1" height="89" fill="#000"/>
<rect x="595" y="240" width="1" height="5" fill="#000"/>
<rect x="653" y="240" width="1" height="5" fill="#000"/>
<rect x="595" y="161" width="6" height="1" fill="#000"/>
<rect x="595" y="201" width="6" height="1" fill="#000"/>
<rect x="595" y="242" width="6" height="1" fill="#000"/>
</g>
<polyline fill="none" stroke="#000" stroke-width="1.7" stroke-linejoin="round" points="596.7,161.1 597.7,163.1 596.9,165.2 598.1,167.2 597.4,169.2 598.8,171.3 598.5,172.6 600.4,174.0 602.2,175.3 604.2,176.4 606.2,178.3 604.9,179.7 608.0,180.5 609.6,182.1 608.5,183.7 612.3,184.5 615.0,185.9 617.1,186.4 616.4,188.2 621.1,189.6 624.5,190.5 625.9,191.9 631.3,192.9 636.7,194.3 643.5,194.7 650.3,195.2 654.3,196.7 659.8,197.5 663.8,198.6 667.9,199.4 673.3,200.1 678.7,200.5 683.5,201.1 673.3,202.2 680.1,202.7 674.7,203.5 669.9,204.1 665.8,204.6 662.5,205.4 659.8,206.5 653.0,207.3 646.2,208.1 639.4,209.2 631.3,210.3 624.5,211.2 617.7,212.5 611.0,213.5 605.6,214.3 601.5,215.3 598.8,216.7 597.4,218.4 596.7,220.7 598.1,222.1 599.5,224.4 598.1,225.7 596.7,227.1"/>
<text y="165.7" font-size="8.652"><tspan x="612.81" textLength="24.05" lengthAdjust="spacingAndGlyphs">6,817</tspan> <tspan x="639.52" textLength="32.27" lengthAdjust="spacingAndGlyphs">sources</tspan></text>
<text y="164.9" font-size="11.33"><tspan x="575.10" textLength="14.00" lengthAdjust="spacingAndGlyphs">20</tspan></text>
<text y="205.2" font-size="11.33"><tspan x="575.10" textLength="14.00" lengthAdjust="spacingAndGlyphs">10</tspan></text>
<text y="246.5" font-size="11.33"><tspan x="586.50" text-anchor="middle">0</tspan></text>
<text y="257.7" font-size="11.33"><tspan x="595.80" text-anchor="middle">0</tspan></text>
<text y="257.7" font-size="11.33"><tspan x="642.80" textLength="21.00" lengthAdjust="spacingAndGlyphs">200</tspan></text>
<clipPath id="mc"><rect x="74" y="274" width="483" height="435"/></clipPath>
<g clip-path="url(#mc)" fill="none" stroke="#c6c6c6" stroke-width="1.1">
<path d="M73.7 286.6L86.6 286.6L86.6 281.0L95.6 281.0L95.6 276.1L101.7 276.1L101.7 273.0M117.6 273.0L117.6 276.1L120.7 276.1L120.7 282.2L126.6 282.2L126.6 285.9L132.2 285.9L144.4 286.6L144.4 291.5L156.6 291.5L156.6 296.8L163.4 297.3L163.4 306.6M73.7 286.6L78.5 290.7L82.2 295.6L82.2 298.5L94.4 298.8L100.5 300.5L106.6 302.9L112.7 305.4L118.8 307.1L126.1 308.3L134.6 307.8L143.2 307.1L163.4 307.1M163.4 306.6L344.9 306.6M187.8 273.0L187.8 306.6M244.4 273.0L244.4 306.6M292.4 273.0L292.4 306.6M167.6 306.6L167.6 328.5L168.3 328.5L168.3 349.3L165.9 349.3L165.9 370.0L167.1 370.0L167.1 390.7L168.0 390.7L168.0 417.1L146.1 417.1L146.1 456.6M165.9 370.0L264.4 370.0L264.4 374.9L265.6 377.3L270.5 379.0L276.6 378.5L278.5 374.9L279.5 370.0L282.0 370.0M241.5 306.6L241.5 432.9L228.5 432.9L228.5 456.6M73.7 381.0L166.3 381.0M73.7 344.4L79.8 349.3L84.6 352.9L87.6 354.9L87.6 370.0L88.8 371.2L88.8 380.5M301.5 306.6L301.5 349.3L302.2 349.3L302.2 359.8M282.0 359.8L344.9 359.8M282.0 359.8L282.0 456.6M314.4 359.8L314.4 423.2L344.9 423.2M282.7 417.1L314.4 417.1M345.4 284.6L415.6 284.6L414.4 288.3L410.7 293.2L408.3 294.4L407.1 296.3L403.4 296.3L402.2 298.8L399.8 299.8L399.8 335.9M410.7 293.9L443.9 293.9M345.4 307.8L399.8 307.8M373.4 336.5L373.4 347.0L374.1 347.0L374.1 370.0M374.1 370.0L412.7 370.0M410.2 336.5L410.2 350.0L412.0 350.0L412.0 370.0L413.2 370.0L413.2 392.0L414.4 392.0L414.4 396.3M376.6 370.0L376.6 392.0L377.8 392.0L377.8 396.3M345.4 396.3L450.5 396.3M380.2 396.3L380.2 456.6M345.4 414.6L380.2 414.6M345.4 433.4L380.2 433.4M380.2 430.5L418.3 430.5M414.4 396.3L415.1 396.3L415.9 409.0L417.6 414.0L418.3 430.5L419.0 441.0L419.0 456.6M419.0 443.7L447.6 443.7M450.0 273.7L450.0 293.9L443.9 293.9L443.9 306.6L445.1 312.7L445.1 328.5L446.3 335.9L446.8 350.5L448.0 370.0L448.8 390.7L450.5 390.7L450.5 396.3L448.0 396.3L448.0 412.2L451.2 412.2L451.2 433.4L448.0 433.4L448.0 456.6M450.0 276.1L498.8 276.1M498.8 273.0L498.8 284.6M490.2 287.1L493.9 285.4L498.8 284.6L502.4 285.9L506.1 287.1L509.8 290.0L513.4 292.0L517.1 293.2L520.7 291.5L524.4 290.7L528.0 292.0L532.9 292.4L536.6 292.0L541.5 293.9L546.3 294.4L551.2 293.7L557.0 294.4M490.2 287.1L490.2 335.9M445.1 312.2L542.2 312.2M534.9 273.0L534.9 284.6L535.4 284.6L536.6 292.0M542.2 293.9L542.2 335.9L543.2 335.9L544.0 350.5L545.1 390.7M543.9 346.8L548.8 348.0L557.0 350.0M448.8 390.7L557.0 390.7M480.5 390.7L480.5 412.2M510.2 390.7L510.2 412.2M539.5 390.7L539.5 412.2L540.5 412.2L541.0 433.4L541.5 456.6M448.0 412.2L557.0 412.2M481.2 412.2L481.2 433.4M516.6 412.2L516.6 433.4M448.0 433.4L541.5 433.4M488.3 433.4L488.3 456.6M541.5 454.1L557.0 454.1M177.3 457.8L177.3 480.5L174.9 481.7L174.4 485.4L172.0 486.6L171.2 504.1M89.0 504.1L191.5 504.1M191.5 504.1L191.5 512.2L177.8 512.2L177.8 522.0L171.2 523.2L170.0 528.0L145.6 528.5L145.6 535.9L113.9 536.6L112.7 538.3L89.0 539.0M191.5 512.2L192.0 522.0L223.7 522.4M187.8 522.4L187.8 556.1M89.0 556.1L231.0 556.1M200.5 457.8L204.1 462.2L209.0 464.6L211.5 469.5L210.2 476.8L209.5 484.1L211.5 491.5L213.9 495.1L218.8 493.9L223.7 496.3L231.0 497.6L239.6 497.6M211.5 491.5L212.0 506.0L212.7 522.0M234.6 457.8L238.3 463.4L244.4 470.7L248.2 479.3L250.6 486.6L255.5 490.2L254.3 493.9L249.4 496.3L239.6 497.6M223.7 522.4L222.4 525.6L226.1 530.5L231.0 534.1L235.9 540.2L234.6 546.3L232.2 552.4L231.0 556.1M231.0 522.4L238.3 525.6L243.2 532.9L247.0 537.8M171.2 556.1L170.0 559.8L173.7 563.4L176.1 568.3L182.2 570.7L189.5 569.5L193.2 573.2L196.8 576.8L202.9 578.0L206.6 575.6L211.5 576.8L215.1 574.4L216.3 567.1L220.0 559.8L226.1 557.3L231.0 556.1M215.1 574.4L236.0 574.4M235.9 540.2L236.0 557.3L237.2 567.1L236.0 574.4L236.0 576.8L239.6 581.7L245.7 584.1L248.2 589.0L248.2 596.3L250.6 603.7L247.0 608.5L244.5 612.0L249.4 616.8L255.5 622.4L261.6 630.2L266.5 640.0L271.3 644.9L273.8 647.3M215.1 574.4L218.8 580.5L224.9 584.1L222.4 589.0L221.2 596.3L224.9 601.2L228.5 608.5L233.4 612.2L240.7 612.9L244.5 612.0M170.0 559.8L162.7 567.1L155.4 574.4L148.0 573.2L140.7 575.6L134.6 582.9L126.1 586.6L122.4 589.0L122.4 608.5L89.0 608.5M168.3 564.6L168.3 619.5M122.4 598.3L168.3 598.3M135.4 618.8L161.5 619.3L168.3 619.8M135.4 618.8L140.7 622.9L145.6 624.1L146.8 630.2L148.0 636.3L154.1 638.8L156.6 643.7L155.4 647.3L150.5 653.4L144.4 659.5L142.0 663.2L140.7 670.5L134.6 676.6L129.8 683.9L127.3 691.2L123.7 698.5M161.5 619.3L163.9 626.6L165.1 632.7L167.6 635.1L163.9 640.0L166.3 644.9L168.8 651.0L170.0 660.7L170.0 698.5L171.2 701.0L167.6 707.0L167.0 709.0M156.6 643.7L163.9 640.0M89.0 629.0L146.8 629.0M165.1 629.0L193.9 629.0M89.0 645.6L100.5 644.9L128.5 645.6L131.0 648.5L134.6 649.8L140.7 647.8L145.6 648.5L150.5 653.4M89.0 669.3L94.4 660.7L143.2 660.2L170.0 660.2M193.9 612.7L193.9 640.0L187.1 642.4L187.1 674.1L209.0 675.4M193.9 612.7L228.5 612.7M170.0 673.0L187.1 673.0M193.9 640.0L198.0 640.7L201.7 644.9L206.6 647.3L209.5 648.5L209.0 675.4M209.5 648.5L215.1 648.5L215.1 653.4L272.6 653.9M243.5 653.6L243.5 676.6L259.0 677.5M209.0 675.0L243.5 675.4M210.2 675.4L211.5 682.7L215.1 690.0L220.0 697.3L221.2 698.5M255.5 490.2L260.4 496.3L262.8 501.2L264.0 508.5L261.6 515.9L262.8 523.2L260.4 530.5L254.3 535.4L250.6 534.1L247.0 537.8L243.3 532.9L237.2 528.0L232.3 525.6M262.8 501.5L293.3 501.5M299.4 457.8L299.4 496.3L293.3 496.8L293.3 517.6M293.3 517.6L375.0 517.6M262.8 522.0L277.0 522.0L277.0 569.5L279.1 570.7M293.3 517.6L293.8 543.9M254.3 543.9L557.0 543.9M254.3 535.4L256.0 541.0L251.0 545.0L247.0 552.0L241.0 556.0L236.0 557.3M293.9 540.4L291.7 539.7L292.5 537.5L294.7 538.2L296.2 536.8L299.8 539.0L302.0 540.4L303.5 539.0L302.0 536.0L300.6 537.5L299.8 535.3L302.8 534.6L304.2 531.6L302.8 529.4L307.2 528.7L308.6 530.9L310.1 530.2L309.4 527.2L311.6 523.6L316.7 523.6L317.4 525.8L315.2 528.0L311.6 528.7L310.8 531.6L304.2 533.1L297.0 535.5L293.9 536.5M293.8 533.4L362.8 533.4M362.8 517.6L362.8 586.6M340.4 486.6L375.0 486.6L375.0 517.6M340.4 486.6L340.4 517.6M369.6 457.8L369.6 486.6M375.0 491.2L448.0 491.2M293.8 543.9L292.1 552.4L286.0 559.8L281.1 567.1L279.1 570.7M313.3 543.9L313.3 570.2M279.1 570.2L345.2 570.2M345.2 570.2L345.2 659.5M345.2 586.6L362.8 586.6M391.1 543.9L391.1 575.6L390.4 575.6L390.4 606.5L385.0 606.8M391.1 575.4L448.0 575.4M390.4 601.3L448.0 601.3M345.2 607.3L390.4 607.3M299.4 570.2L299.4 622.4L255.5 622.4M299.4 607.3L345.2 607.3M373.3 607.3L373.3 628.0L366.5 630.5L356.7 630.5L345.2 630.0M378.7 622.7L448.0 622.7M378.7 622.7L378.7 660.0M294.5 622.4L294.5 642.4L289.6 638.8L287.2 637.6L284.8 641.2L279.9 644.9L273.8 647.3M248.2 596.3L299.4 596.3M294.5 642.4L298.2 644.9L315.2 644.1L329.9 649.8L344.5 654.6M329.9 649.8L325.0 655.9L320.1 663.2L312.8 670.5L303.0 675.4L295.7 676.6L289.6 681.5M273.8 647.3L272.6 654.6L271.3 663.2L279.9 659.5L284.8 662.0L287.2 668.0L288.9 674.1L288.9 698.5M271.3 663.2L261.6 672.9L257.9 677.8L259.1 687.6L257.9 694.9L259.1 698.5M345.2 659.8L448.0 660.0M395.2 660.0L395.0 698.5M412.3 622.7L412.3 660.2M284.8 698.5L286.0 704.6L284.8 709.0M419.0 456.6L417.9 457.8L417.9 472.4L416.7 474.0L416.7 491.0M417.9 472.4L448.0 472.4M410.6 491.2L409.4 513.0L409.4 543.2M448.0 474.8L555.7 475.0M488.9 457.0L489.4 474.6M542.3 457.0L542.3 475.0M484.5 475.0L484.5 496.0L485.5 496.0L485.5 517.0M513.5 475.0L513.5 496.0L514.8 496.0L514.8 517.0M554.5 475.0L554.5 490.2L548.4 491.5L548.4 495.9M448.0 496.1L557.0 496.1M543.5 496.0L543.5 517.0M480.9 517.8L480.9 543.2L482.1 543.9L482.1 569.5M515.5 517.8L515.5 543.2L516.7 543.9L516.7 569.5M544.3 517.8L545.2 543.2L546.0 569.5L546.0 596.3M448.0 570.0L557.0 570.0M477.7 570.0L477.7 596.3M511.3 570.0L511.3 596.3M448.0 596.5L557.0 596.5M472.8 596.5L472.8 622.4M495.2 596.5L495.2 622.4M518.4 596.5L518.4 622.4M540.6 596.5L541.1 622.4M448.0 622.4L557.0 622.4M474.5 622.4L474.5 648.0L475.2 649.8L475.2 675.0M496.5 622.4L497.2 648.0L497.7 675.0M519.6 638.3L541.6 638.3M519.6 638.3L519.6 654.6L520.4 670.5L521.1 698.5M541.1 622.4L542.3 638.3L542.3 643.7L543.0 670.5M542.3 643.7L557.0 643.7M520.4 670.5L548.9 670.5L549.6 698.5M448.0 654.6L519.6 654.6M448.0 675.4L520.4 675.4M473.3 675.4L473.3 698.5M498.4 675.4L498.4 698.5"/>
</g>
<g shape-rendering="crispEdges">
<rect x="142" y="704" width="1" height="5" fill="#000"/>
<rect x="245" y="704" width="1" height="5" fill="#000"/>
<rect x="348" y="704" width="1" height="5" fill="#000"/>
<rect x="450" y="704" width="1" height="5" fill="#000"/>
<rect x="553" y="704" width="1" height="5" fill="#000"/>
<rect x="73" y="276" width="6" height="1" fill="#000"/>
<rect x="73" y="336" width="6" height="1" fill="#000"/>
<rect x="73" y="397" width="6" height="1" fill="#000"/>
<rect x="73" y="457" width="6" height="1" fill="#000"/>
<rect x="73" y="518" width="6" height="1" fill="#000"/>
<rect x="73" y="578" width="6" height="1" fill="#000"/>
<rect x="73" y="639" width="6" height="1" fill="#000"/>
<rect x="73" y="699" width="6" height="1" fill="#000"/>
</g>
<g shape-rendering="geometricPrecision" stroke="#ff0000" stroke-width="1.5" fill="none">
<path d="M73 457.5L448.5 457.5"/>
<path d="M88.4 457.5L88.4 709"/>
<path d="M448.5 457.5L448.5 699.5"/>
<path d="M73 699.4L557 699.4"/>
<path d="M345.5 273L345.5 457.5"/>
<path d="M345.5 336.2L445 336.6L557 337"/>
<path d="M448.5 517.5L557 517.5"/>
<path d="M399.5 699.5L399.5 709"/>
</g>
<g shape-rendering="crispEdges">
<path fill="#008040" d="M232 554h2v2h-2zM236 554h2v2h-2zM236 556h2v2h-2zM244 574h2v2h-2zM256 584h2v2h-2zM260 582h2v2h-2zM262 578h2v2h-2zM264 584h2v2h-2zM268 568h2v2h-2zM268 582h2v2h-2zM272 592h2v2h-2zM274 592h2v2h-2zM280 598h2v2h-2zM284 604h2v2h-2zM288 604h2v2h-2zM290 588h2v2h-2zM294 584h2v2h-2zM294 594h2v2h-2zM298 578h2v2h-2zM300 592h2v2h-2z"/><path fill="#408080" d="M232 556h2v2h-2zM232 636h2v2h-2zM234 554h2v2h-2zM234 556h2v2h-2zM248 568h2v2h-2zM250 568h2v2h-2zM254 564h2v2h-2zM258 580h2v2h-2zM264 586h2v2h-2zM266 582h2v2h-2zM268 578h2v2h-2zM280 596h2v2h-2zM286 606h2v2h-2zM292 598h2v2h-2zM298 580h2v2h-2zM302 592h2v2h-2z"/><path fill="#ffc080" d="M236 552h2v2h-2zM246 576h2v2h-2zM250 564h2v2h-2zM254 562h2v2h-2zM260 584h2v2h-2zM272 582h2v2h-2zM272 590h2v2h-2zM274 584h2v2h-2zM276 590h2v2h-2zM278 592h2v2h-2zM288 598h2v2h-2zM292 592h2v2h-2zM294 588h2v2h-2zM298 584h2v2h-2zM324 612h2v2h-2z"/><path fill="#0000ff" d="M230 638h2v2h-2zM232 552h2v2h-2zM236 634h2v2h-2zM236 636h2v2h-2zM238 550h2v2h-2zM244 578h2v2h-2zM246 572h2v2h-2zM248 564h2v2h-2zM254 556h2v2h-2zM254 586h2v2h-2zM256 558h2v2h-2zM258 558h2v2h-2zM264 580h2v2h-2zM270 566h2v2h-2zM270 594h2v2h-2zM272 594h2v2h-2zM272 596h2v2h-2zM278 600h2v2h-2zM282 586h2v2h-2zM282 632h2v2h-2zM286 602h2v2h-2zM292 586h2v2h-2zM292 594h2v2h-2zM294 582h2v2h-2zM296 590h2v2h-2zM298 592h2v2h-2zM302 590h2v2h-2zM302 594h2v2h-2zM302 596h2v2h-2zM320 614h2v2h-2zM322 614h2v2h-2z"/><path fill="#00ffff" d="M234 552h2v2h-2zM234 636h2v2h-2zM238 552h2v2h-2zM240 576h2v2h-2zM240 578h2v2h-2zM250 562h2v2h-2zM266 596h2v2h-2zM270 570h2v2h-2zM276 594h2v2h-2zM284 588h2v2h-2zM284 600h2v2h-2zM286 608h2v2h-2zM288 588h2v2h-2zM300 594h2v2h-2zM304 592h2v2h-2z"/><path fill="#8000ff" d="M228 556h2v2h-2zM230 554h2v2h-2zM230 558h2v2h-2zM230 632h2v2h-2zM230 636h2v2h-2zM232 558h2v2h-2zM232 640h2v2h-2zM234 558h2v2h-2zM234 634h2v2h-2zM238 578h2v2h-2zM238 580h2v2h-2zM242 578h2v2h-2zM244 580h2v2h-2zM246 568h2v2h-2zM246 578h2v2h-2zM246 580h2v2h-2zM248 570h2v2h-2zM248 578h2v2h-2zM252 558h2v2h-2zM252 576h2v2h-2zM254 574h2v2h-2zM256 588h2v2h-2zM258 578h2v2h-2zM258 586h2v2h-2zM260 578h2v2h-2zM262 592h2v2h-2zM264 576h2v2h-2zM264 594h2v2h-2zM266 594h2v2h-2zM272 580h2v2h-2zM274 580h2v2h-2zM276 584h2v2h-2zM278 580h2v2h-2zM280 632h2v2h-2zM282 602h2v2h-2zM284 582h2v2h-2zM284 586h2v2h-2zM284 632h2v2h-2zM290 586h2v2h-2zM290 600h2v2h-2zM292 584h2v2h-2zM294 600h2v2h-2zM296 596h2v2h-2zM298 588h2v2h-2zM300 588h2v2h-2zM304 590h2v2h-2zM326 612h2v2h-2z"/><path fill="#ff50ff" d="M226 556h2v2h-2zM226 634h2v2h-2zM228 554h2v2h-2zM228 560h2v2h-2zM228 644h2v2h-2zM230 640h2v2h-2zM232 628h2v2h-2zM234 550h2v2h-2zM236 548h2v2h-2zM238 554h2v2h-2zM238 576h2v2h-2zM238 632h2v2h-2zM238 642h2v2h-2zM240 552h2v2h-2zM242 546h2v2h-2zM242 580h2v2h-2zM246 564h2v2h-2zM246 566h2v2h-2zM246 570h2v2h-2zM248 562h2v2h-2zM248 572h2v2h-2zM250 570h2v2h-2zM250 574h2v2h-2zM252 554h2v2h-2zM252 556h2v2h-2zM252 578h2v2h-2zM254 584h2v2h-2zM254 588h2v2h-2zM256 554h2v2h-2zM256 556h2v2h-2zM256 562h2v2h-2zM256 586h2v2h-2zM256 590h2v2h-2zM258 556h2v2h-2zM258 560h2v2h-2zM258 596h2v2h-2zM260 556h2v2h-2zM260 588h2v2h-2zM260 596h2v2h-2zM262 576h2v2h-2zM262 584h2v2h-2zM262 590h2v2h-2zM264 600h2v2h-2zM266 592h2v2h-2zM268 566h2v2h-2zM268 596h2v2h-2zM268 598h2v2h-2zM268 606h2v2h-2zM270 574h2v2h-2zM270 580h2v2h-2zM272 566h2v2h-2zM272 570h2v2h-2zM272 598h2v2h-2zM272 600h2v2h-2zM274 574h2v2h-2zM274 578h2v2h-2zM274 602h2v2h-2zM276 582h2v2h-2zM276 596h2v2h-2zM276 598h2v2h-2zM278 584h2v2h-2zM278 594h2v2h-2zM278 596h2v2h-2zM278 598h2v2h-2zM280 578h2v2h-2zM280 586h2v2h-2zM280 600h2v2h-2zM280 634h2v2h-2zM280 636h2v2h-2zM284 584h2v2h-2zM284 602h2v2h-2zM284 608h2v2h-2zM286 586h2v2h-2zM286 588h2v2h-2zM288 586h2v2h-2zM288 608h2v2h-2zM290 582h2v2h-2zM290 604h2v2h-2zM290 606h2v2h-2zM292 602h2v2h-2zM292 604h2v2h-2zM292 606h2v2h-2zM294 578h2v2h-2zM294 598h2v2h-2zM296 576h2v2h-2zM296 592h2v2h-2zM298 574h2v2h-2zM298 596h2v2h-2zM300 576h2v2h-2zM300 578h2v2h-2zM300 582h2v2h-2zM300 598h2v2h-2zM302 576h2v2h-2zM302 608h2v2h-2zM304 594h2v2h-2zM306 586h2v2h-2zM318 612h2v2h-2zM322 608h2v2h-2zM322 616h2v2h-2z"/><path fill="#0080ff" d="M236 550h2v2h-2zM248 576h2v2h-2zM256 582h2v2h-2zM262 582h2v2h-2zM262 586h2v2h-2zM268 570h2v2h-2zM274 582h2v2h-2zM274 594h2v2h-2zM276 586h2v2h-2zM278 586h2v2h-2zM294 596h2v2h-2zM298 586h2v2h-2zM324 614h2v2h-2z"/><path fill="#000000" d="M252 562h2v2h-2zM270 584h2v2h-2zM270 586h2v2h-2zM270 590h2v2h-2zM272 588h2v2h-2zM276 588h2v2h-2zM276 592h2v2h-2zM280 588h2v2h-2zM284 596h2v2h-2zM286 598h2v2h-2zM288 600h2v2h-2zM296 582h2v2h-2z"/><path fill="#ffff00" d="M232 638h2v2h-2zM234 638h2v2h-2zM248 566h2v2h-2zM250 566h2v2h-2zM252 566h2v2h-2zM252 568h2v2h-2zM254 558h2v2h-2zM256 560h2v2h-2zM262 580h2v2h-2zM268 594h2v2h-2zM274 588h2v2h-2zM280 592h2v2h-2zM282 588h2v2h-2zM286 600h2v2h-2zM286 604h2v2h-2zM298 576h2v2h-2zM322 610h2v2h-2z"/><path fill="#c0c0c0" d="M252 564h2v2h-2zM266 586h2v2h-2zM268 588h2v2h-2zM272 586h2v2h-2zM288 596h2v2h-2z"/><path fill="#c00000" d="M254 560h2v2h-2zM258 584h2v2h-2zM266 584h2v2h-2zM274 590h2v2h-2zM282 592h2v2h-2zM284 590h2v2h-2zM290 590h2v2h-2zM290 594h2v2h-2zM292 596h2v2h-2zM294 590h2v2h-2zM296 586h2v2h-2zM322 612h2v2h-2zM324 610h2v2h-2z"/><path fill="#ff0080" d="M242 576h2v2h-2zM244 576h2v2h-2zM252 560h2v2h-2zM258 582h2v2h-2zM270 592h2v2h-2zM278 588h2v2h-2zM280 590h2v2h-2zM284 598h2v2h-2zM290 598h2v2h-2zM296 584h2v2h-2z"/><path fill="#ff8000" d="M246 574h2v2h-2zM264 588h2v2h-2zM264 590h2v2h-2zM270 568h2v2h-2zM272 584h2v2h-2zM278 590h2v2h-2zM282 594h2v2h-2zM282 598h2v2h-2zM286 590h2v2h-2z"/><path fill="#ff0000" d="M260 580h2v2h-2zM266 590h2v2h-2zM270 582h2v2h-2zM282 590h2v2h-2zM282 596h2v2h-2zM288 590h2v2h-2zM294 586h2v2h-2zM296 578h2v2h-2zM296 580h2v2h-2z"/><path fill="#800000" d="M266 588h2v2h-2zM268 584h2v2h-2zM268 586h2v2h-2zM274 586h2v2h-2zM286 592h2v2h-2zM290 592h2v2h-2zM290 596h2v2h-2zM292 590h2v2h-2zM294 580h2v2h-2zM294 592h2v2h-2zM298 582h2v2h-2z"/><path fill="#ffffff" d="M270 588h2v2h-2zM286 594h2v2h-2zM286 596h2v2h-2zM288 594h2v2h-2z"/><path fill="#808080" d="M268 590h2v2h-2zM284 592h2v2h-2zM284 594h2v2h-2zM288 592h2v2h-2zM292 588h2v2h-2z"/><path fill="#00ff00" d="M268 592h2v2h-2zM280 594h2v2h-2zM282 600h2v2h-2zM288 602h2v2h-2zM288 606h2v2h-2zM296 588h2v2h-2zM320 612h2v2h-2z"/><path fill="#8000ff" d="M281 623h2v2h-2zM322 672h2v2h-2zM214 515h1v1h-1z"/><path fill="#ff50ff" d="M157 523h2v1h-2zM199 568h2v1h-2zM306 556h2v1h-2zM213 519h2v1h-2zM222 566h2v1h-2zM226 569h2v1h-2zM333 675h2v1h-2zM329 678h2v1h-2zM325 680h2v1h-2zM273 549h2v1h-2zM225 568h2v1h-2z"/>
</g>
<g shape-rendering="geometricPrecision" fill="none" stroke="#7cff24" stroke-width="1.25">
<rect x="330.6" y="456.4" width="5.9" height="5.9"/>
<rect x="343.2" y="457.9" width="5.9" height="5.9"/>
<rect x="350.4" y="462.4" width="5.9" height="5.9"/>
<rect x="342.4" y="465.2" width="5.9" height="5.9"/>
<rect x="306.4" y="464.4" width="5.9" height="5.9"/>
<rect x="297.4" y="474.4" width="5.9" height="5.9"/>
<rect x="315.6" y="473.4" width="5.9" height="5.9"/>
<rect x="328.4" y="476.2" width="5.9" height="5.9"/>
<rect x="355.4" y="479.4" width="5.9" height="5.9"/>
<rect x="293.4" y="488.4" width="5.9" height="5.9"/>
<rect x="313.4" y="488.4" width="5.9" height="5.9"/>
<rect x="329.4" y="486.4" width="5.9" height="5.9"/>
<rect x="358.6" y="495.4" width="5.9" height="5.9"/>
<rect x="341.4" y="501.6" width="5.9" height="5.9"/>
<rect x="319.4" y="511.3" width="5.9" height="5.9"/>
<rect x="294.6" y="553.3" width="5.9" height="5.9"/>
</g>
<g shape-rendering="crispEdges">
<rect x="73" y="273" width="485" height="1" fill="#000"/><rect x="73" y="709" width="485" height="1" fill="#000"/><rect x="73" y="273" width="1" height="437" fill="#000"/><rect x="557" y="273" width="1" height="437" fill="#000"/>
</g>
<text y="721.7" font-size="11.33"><tspan x="127.29" textLength="30.21" lengthAdjust="spacingAndGlyphs">−108</tspan></text>
<text y="721.7" font-size="11.33"><tspan x="230.04" textLength="30.21" lengthAdjust="spacingAndGlyphs">−106</tspan></text>
<text y="721.7" font-size="11.33"><tspan x="332.79" textLength="30.21" lengthAdjust="spacingAndGlyphs">−104</tspan></text>
<text y="721.7" font-size="11.33"><tspan x="435.54" textLength="30.21" lengthAdjust="spacingAndGlyphs">−102</tspan></text>
<text y="721.7" font-size="11.33"><tspan x="538.29" textLength="30.21" lengthAdjust="spacingAndGlyphs">−100</tspan></text>
<text y="279.8" font-size="11.33"><tspan x="53.60" textLength="14.00" lengthAdjust="spacingAndGlyphs">44</tspan></text>
<text y="340.23" font-size="11.33"><tspan x="53.60" textLength="14.00" lengthAdjust="spacingAndGlyphs">43</tspan></text>
<text y="400.66" font-size="11.33"><tspan x="53.60" textLength="14.00" lengthAdjust="spacingAndGlyphs">42</tspan></text>
<text y="461.09" font-size="11.33"><tspan x="53.60" textLength="14.00" lengthAdjust="spacingAndGlyphs">41</tspan></text>
<text y="521.52" font-size="11.33"><tspan x="53.60" textLength="14.00" lengthAdjust="spacingAndGlyphs">40</tspan></text>
<text y="581.95" font-size="11.33"><tspan x="53.60" textLength="14.00" lengthAdjust="spacingAndGlyphs">39</tspan></text>
<text y="642.38" font-size="11.33"><tspan x="53.60" textLength="14.00" lengthAdjust="spacingAndGlyphs">38</tspan></text>
<text y="702.81" font-size="11.33"><tspan x="53.60" textLength="14.00" lengthAdjust="spacingAndGlyphs">37</tspan></text>
<text y="493.2" font-size="11.33" transform="rotate(-90 47.8 493.2)"><tspan x="25.16" textLength="45.27" lengthAdjust="spacingAndGlyphs">Latitude</tspan></text>
<text y="740.7" font-size="11.33"><tspan x="287.84" textLength="54.71" lengthAdjust="spacingAndGlyphs">Longitude</tspan></text>
<g shape-rendering="crispEdges">
<rect x="640" y="274" width="2" height="435" fill="#f1f1f1"/>
<rect x="596" y="326" width="92" height="2" fill="#f1f1f1"/>
<rect x="596" y="380" width="92" height="2" fill="#f1f1f1"/>
<rect x="596" y="435" width="92" height="2" fill="#f1f1f1"/>
<rect x="596" y="489" width="92" height="2" fill="#f1f1f1"/>
<rect x="596" y="544" width="92" height="2" fill="#f1f1f1"/>
<rect x="596" y="598" width="92" height="2" fill="#f1f1f1"/>
<rect x="596" y="653" width="92" height="2" fill="#f1f1f1"/>
<path fill="#ffff00" d="M629 562h1v2h-1zM630 558h1v2h-1zM633 558h1v2h-1zM634 558h1v2h-1zM634 588h1v2h-1zM635 558h1v2h-1zM636 588h1v2h-1zM636 590h1v2h-1zM637 586h1v2h-1zM637 590h1v2h-1zM638 560h1v2h-1zM639 564h1v2h-1zM639 566h1v2h-1zM639 588h1v2h-1zM640 558h1v2h-1zM640 560h1v2h-1zM640 596h1v2h-1zM640 598h1v2h-1zM641 566h1v2h-1zM641 586h1v2h-1zM642 598h1v2h-1zM643 564h1v2h-1zM643 594h1v2h-1zM644 562h1v2h-1zM645 584h1v2h-1zM646 598h1v2h-1zM647 586h1v2h-1zM651 586h1v2h-1zM651 590h1v2h-1zM651 594h1v2h-1zM651 596h1v2h-1zM654 586h1v2h-1zM655 590h1v2h-1zM655 592h1v2h-1zM656 592h1v2h-1zM656 594h1v2h-1zM657 590h1v2h-1zM660 590h1v2h-1zM661 586h1v2h-1zM662 592h1v2h-1zM663 590h1v2h-1z"/><path fill="#ffc080" d="M631 562h1v2h-1zM632 562h1v2h-1zM632 564h1v2h-1zM634 564h1v2h-1zM635 564h1v2h-1zM636 558h1v2h-1zM636 566h1v2h-1zM637 558h1v2h-1zM638 558h1v2h-1zM638 588h1v2h-1zM638 592h1v2h-1zM639 558h1v2h-1zM639 594h1v2h-1zM639 596h1v2h-1zM640 588h1v2h-1zM641 562h1v2h-1zM641 564h1v2h-1zM642 586h1v2h-1zM642 596h1v2h-1zM643 586h1v2h-1zM643 596h1v2h-1zM644 598h1v2h-1zM645 586h1v2h-1zM645 594h1v2h-1zM647 584h1v2h-1zM647 596h1v2h-1zM648 594h1v2h-1zM648 596h1v2h-1zM648 598h1v2h-1zM649 598h1v2h-1zM650 588h1v2h-1zM650 590h1v2h-1zM650 592h1v2h-1zM651 592h1v2h-1zM652 590h1v2h-1zM652 592h1v2h-1zM652 596h1v2h-1zM653 588h1v2h-1zM653 592h1v2h-1zM654 590h1v2h-1zM655 588h1v2h-1zM656 590h1v2h-1zM657 594h1v2h-1zM658 588h1v2h-1zM658 590h1v2h-1zM661 590h1v2h-1z"/><path fill="#ff8000" d="M632 560h1v2h-1zM633 560h1v2h-1zM633 562h1v2h-1zM633 564h1v2h-1zM634 560h1v2h-1zM636 560h1v2h-1zM637 562h1v2h-1zM637 564h1v2h-1zM638 564h1v2h-1zM638 566h1v2h-1zM639 562h1v2h-1zM639 592h1v2h-1zM640 592h1v2h-1zM641 560h1v2h-1zM641 592h1v2h-1zM641 594h1v2h-1zM641 596h1v2h-1zM642 560h1v2h-1zM642 588h1v2h-1zM642 592h1v2h-1zM643 588h1v2h-1zM644 592h1v2h-1zM644 594h1v2h-1zM645 592h1v2h-1zM645 596h1v2h-1zM646 594h1v2h-1zM648 586h1v2h-1zM648 588h1v2h-1zM649 588h1v2h-1zM649 592h1v2h-1zM649 594h1v2h-1zM649 596h1v2h-1zM650 584h1v2h-1zM650 594h1v2h-1zM651 588h1v2h-1zM652 588h1v2h-1zM653 590h1v2h-1zM658 592h1v2h-1z"/><path fill="#0080ff" d="M624 560h1v2h-1zM625 558h1v2h-1zM625 562h1v2h-1zM627 556h1v2h-1zM627 558h1v2h-1zM628 558h1v2h-1zM628 564h1v2h-1zM629 556h1v2h-1zM629 590h1v2h-1zM630 562h1v2h-1zM631 568h1v2h-1zM631 586h1v2h-1zM631 588h1v2h-1zM632 566h1v2h-1zM632 586h1v2h-1zM632 588h1v2h-1zM633 570h1v2h-1zM633 586h1v2h-1zM633 598h1v2h-1zM634 554h1v2h-1zM634 586h1v2h-1zM634 592h1v2h-1zM634 596h1v2h-1zM636 586h1v2h-1zM637 576h1v2h-1zM637 584h1v2h-1zM638 550h1v2h-1zM639 554h1v2h-1zM639 580h1v2h-1zM639 584h1v2h-1zM640 568h1v2h-1zM640 582h1v2h-1zM641 554h1v2h-1zM641 600h1v2h-1zM642 556h1v2h-1zM642 568h1v2h-1zM643 582h1v2h-1zM643 600h1v2h-1zM644 556h1v2h-1zM645 554h1v2h-1zM645 602h1v2h-1zM646 560h1v2h-1zM646 582h1v2h-1zM646 602h1v2h-1zM647 600h1v2h-1zM648 556h1v2h-1zM648 562h1v2h-1zM651 562h1v2h-1zM651 576h1v2h-1zM652 562h1v2h-1zM652 598h1v2h-1zM652 600h1v2h-1zM654 580h1v2h-1zM654 582h1v2h-1zM654 600h1v2h-1zM657 588h1v2h-1zM657 598h1v2h-1zM659 600h1v2h-1zM663 596h1v2h-1zM664 596h1v2h-1zM665 586h1v2h-1zM666 588h1v2h-1zM666 592h1v2h-1zM667 590h1v2h-1zM671 582h1v2h-1zM681 594h1v2h-1z"/><path fill="#ff0080" d="M631 560h1v2h-1zM634 562h1v2h-1zM635 560h1v2h-1zM636 562h1v2h-1zM636 564h1v2h-1zM638 590h1v2h-1zM640 562h1v2h-1zM640 564h1v2h-1zM640 586h1v2h-1zM640 590h1v2h-1zM640 594h1v2h-1zM641 588h1v2h-1zM641 590h1v2h-1zM642 590h1v2h-1zM643 592h1v2h-1zM644 586h1v2h-1zM644 590h1v2h-1zM644 596h1v2h-1zM645 590h1v2h-1zM646 588h1v2h-1zM646 592h1v2h-1zM646 596h1v2h-1zM647 590h1v2h-1zM647 594h1v2h-1zM648 590h1v2h-1zM650 596h1v2h-1z"/><path fill="#8000ff" d="M609 564h1v2h-1zM614 560h1v2h-1zM615 566h1v2h-1zM616 556h1v2h-1zM616 564h1v2h-1zM617 556h1v2h-1zM617 558h1v2h-1zM618 558h1v2h-1zM618 564h1v2h-1zM619 558h1v2h-1zM619 562h1v2h-1zM619 564h1v2h-1zM619 566h1v2h-1zM622 560h1v2h-1zM622 562h1v2h-1zM624 562h1v2h-1zM625 554h1v2h-1zM625 564h1v2h-1zM626 558h1v2h-1zM626 570h1v2h-1zM626 576h1v2h-1zM627 568h1v2h-1zM628 550h1v2h-1zM628 592h1v2h-1zM629 554h1v2h-1zM629 566h1v2h-1zM629 576h1v2h-1zM629 592h1v2h-1zM630 594h1v2h-1zM630 610h1v2h-1zM631 584h1v2h-1zM631 590h1v2h-1zM631 592h1v2h-1zM632 552h1v2h-1zM632 570h1v2h-1zM632 590h1v2h-1zM632 592h1v2h-1zM633 576h1v2h-1zM633 578h1v2h-1zM633 588h1v2h-1zM633 612h1v2h-1zM633 614h1v2h-1zM634 550h1v2h-1zM634 552h1v2h-1zM634 570h1v2h-1zM635 554h1v2h-1zM635 598h1v2h-1zM635 610h1v2h-1zM636 574h1v2h-1zM636 598h1v2h-1zM636 600h1v2h-1zM636 612h1v2h-1zM637 550h1v2h-1zM637 554h1v2h-1zM637 570h1v2h-1zM637 582h1v2h-1zM637 600h1v2h-1zM638 576h1v2h-1zM638 612h1v2h-1zM639 570h1v2h-1zM639 600h1v2h-1zM639 610h1v2h-1zM640 578h1v2h-1zM641 550h1v2h-1zM641 552h1v2h-1zM641 556h1v2h-1zM641 568h1v2h-1zM641 576h1v2h-1zM641 582h1v2h-1zM642 552h1v2h-1zM642 578h1v2h-1zM642 580h1v2h-1zM642 582h1v2h-1zM643 550h1v2h-1zM643 554h1v2h-1zM643 568h1v2h-1zM643 570h1v2h-1zM643 576h1v2h-1zM643 604h1v2h-1zM644 612h1v2h-1zM646 604h1v2h-1zM647 560h1v2h-1zM647 568h1v2h-1zM647 582h1v2h-1zM647 612h1v2h-1zM649 554h1v2h-1zM649 560h1v2h-1zM649 576h1v2h-1zM649 602h1v2h-1zM650 564h1v2h-1zM650 566h1v2h-1zM650 582h1v2h-1zM650 600h1v2h-1zM650 630h1v2h-1zM651 580h1v2h-1zM652 560h1v2h-1zM652 564h1v2h-1zM652 574h1v2h-1zM652 580h1v2h-1zM653 566h1v2h-1zM653 580h1v2h-1zM655 584h1v2h-1zM655 600h1v2h-1zM656 558h1v2h-1zM656 560h1v2h-1zM656 562h1v2h-1zM656 580h1v2h-1zM656 602h1v2h-1zM657 562h1v2h-1zM657 564h1v2h-1zM657 582h1v2h-1zM657 596h1v2h-1zM658 558h1v2h-1zM658 564h1v2h-1zM658 596h1v2h-1zM658 598h1v2h-1zM658 600h1v2h-1zM659 582h1v2h-1zM659 596h1v2h-1zM660 582h1v2h-1zM660 584h1v2h-1zM660 598h1v2h-1zM661 582h1v2h-1zM663 558h1v2h-1zM663 586h1v2h-1zM663 604h1v2h-1zM664 556h1v2h-1zM664 580h1v2h-1zM664 584h1v2h-1zM664 594h1v2h-1zM664 600h1v2h-1zM665 578h1v2h-1zM665 590h1v2h-1zM665 592h1v2h-1zM665 598h1v2h-1zM666 578h1v2h-1zM666 580h1v2h-1zM667 582h1v2h-1zM667 586h1v2h-1zM668 578h1v2h-1zM669 630h1v2h-1zM670 596h1v2h-1zM671 584h1v2h-1zM671 586h1v2h-1zM671 602h1v2h-1zM671 604h1v2h-1zM672 586h1v2h-1zM672 596h1v2h-1zM674 588h1v2h-1zM674 632h1v2h-1zM675 600h1v2h-1zM676 592h1v2h-1zM676 594h1v2h-1zM678 588h1v2h-1zM678 596h1v2h-1zM678 598h1v2h-1zM679 596h1v2h-1zM679 598h1v2h-1zM679 634h1v2h-1zM680 598h1v2h-1zM680 600h1v2h-1zM680 634h1v2h-1zM681 596h1v2h-1zM682 596h1v2h-1zM682 632h1v2h-1zM683 586h1v2h-1zM684 634h1v2h-1zM686 586h1v2h-1zM686 594h1v2h-1zM687 598h1v2h-1z"/><path fill="#408080" d="M629 564h1v2h-1zM631 564h1v2h-1zM632 558h1v2h-1zM633 590h1v2h-1zM634 556h1v2h-1zM634 566h1v2h-1zM634 594h1v2h-1zM635 556h1v2h-1zM635 566h1v2h-1zM635 584h1v2h-1zM635 586h1v2h-1zM635 588h1v2h-1zM635 590h1v2h-1zM635 594h1v2h-1zM636 568h1v2h-1zM637 566h1v2h-1zM637 596h1v2h-1zM638 556h1v2h-1zM638 568h1v2h-1zM638 586h1v2h-1zM638 594h1v2h-1zM638 598h1v2h-1zM639 586h1v2h-1zM639 590h1v2h-1zM639 598h1v2h-1zM640 566h1v2h-1zM641 558h1v2h-1zM641 584h1v2h-1zM641 598h1v2h-1zM642 558h1v2h-1zM642 562h1v2h-1zM643 560h1v2h-1zM643 566h1v2h-1zM643 584h1v2h-1zM643 598h1v2h-1zM644 558h1v2h-1zM645 562h1v2h-1zM646 558h1v2h-1zM646 584h1v2h-1zM646 586h1v2h-1zM648 584h1v2h-1zM649 586h1v2h-1zM650 586h1v2h-1zM652 586h1v2h-1zM652 594h1v2h-1zM653 582h1v2h-1zM653 598h1v2h-1zM654 588h1v2h-1zM654 592h1v2h-1zM654 594h1v2h-1zM655 586h1v2h-1zM655 594h1v2h-1zM656 586h1v2h-1zM656 588h1v2h-1zM657 584h1v2h-1zM657 586h1v2h-1zM657 592h1v2h-1zM659 586h1v2h-1zM659 590h1v2h-1zM660 586h1v2h-1zM660 596h1v2h-1zM661 592h1v2h-1zM663 588h1v2h-1zM663 592h1v2h-1zM663 594h1v2h-1zM664 586h1v2h-1zM664 588h1v2h-1zM668 594h1v2h-1zM677 594h1v2h-1z"/><path fill="#0000ff" d="M616 558h1v2h-1zM618 562h1v2h-1zM620 562h1v2h-1zM620 564h1v2h-1zM623 560h1v2h-1zM623 564h1v2h-1zM623 568h1v2h-1zM624 558h1v2h-1zM624 564h1v2h-1zM626 560h1v2h-1zM627 566h1v2h-1zM627 584h1v2h-1zM628 556h1v2h-1zM629 550h1v2h-1zM629 558h1v2h-1zM629 578h1v2h-1zM629 586h1v2h-1zM630 556h1v2h-1zM630 592h1v2h-1zM631 556h1v2h-1zM631 594h1v2h-1zM632 554h1v2h-1zM632 596h1v2h-1zM633 550h1v2h-1zM633 568h1v2h-1zM633 592h1v2h-1zM633 596h1v2h-1zM634 598h1v2h-1zM635 550h1v2h-1zM635 578h1v2h-1zM635 582h1v2h-1zM635 596h1v2h-1zM635 612h1v2h-1zM636 576h1v2h-1zM636 596h1v2h-1zM637 578h1v2h-1zM637 598h1v2h-1zM638 570h1v2h-1zM638 578h1v2h-1zM638 580h1v2h-1zM638 582h1v2h-1zM638 600h1v2h-1zM639 612h1v2h-1zM640 552h1v2h-1zM642 602h1v2h-1zM642 610h1v2h-1zM643 556h1v2h-1zM643 602h1v2h-1zM644 570h1v2h-1zM645 550h1v2h-1zM645 568h1v2h-1zM645 580h1v2h-1zM646 580h1v2h-1zM647 562h1v2h-1zM647 564h1v2h-1zM647 566h1v2h-1zM647 576h1v2h-1zM649 562h1v2h-1zM649 566h1v2h-1zM649 578h1v2h-1zM649 580h1v2h-1zM650 612h1v2h-1zM651 566h1v2h-1zM651 600h1v2h-1zM652 578h1v2h-1zM652 584h1v2h-1zM653 578h1v2h-1zM653 584h1v2h-1zM655 564h1v2h-1zM655 580h1v2h-1zM655 596h1v2h-1zM656 596h1v2h-1zM657 600h1v2h-1zM658 582h1v2h-1zM658 584h1v2h-1zM659 598h1v2h-1zM660 594h1v2h-1zM660 600h1v2h-1zM662 582h1v2h-1zM662 598h1v2h-1zM663 584h1v2h-1zM664 634h1v2h-1zM665 584h1v2h-1zM665 594h1v2h-1zM666 586h1v2h-1zM666 594h1v2h-1zM666 598h1v2h-1zM668 588h1v2h-1zM668 596h1v2h-1zM669 592h1v2h-1zM671 596h1v2h-1zM672 590h1v2h-1zM672 600h1v2h-1zM673 590h1v2h-1zM673 596h1v2h-1zM675 586h1v2h-1zM675 598h1v2h-1zM679 594h1v2h-1zM680 594h1v2h-1zM682 594h1v2h-1zM683 594h1v2h-1z"/><path fill="#00ffff" d="M626 562h1v2h-1zM626 564h1v2h-1zM627 564h1v2h-1zM628 562h1v2h-1zM630 566h1v2h-1zM630 590h1v2h-1zM631 566h1v2h-1zM632 556h1v2h-1zM634 568h1v2h-1zM634 584h1v2h-1zM636 554h1v2h-1zM636 582h1v2h-1zM636 594h1v2h-1zM637 568h1v2h-1zM638 554h1v2h-1zM639 568h1v2h-1zM639 576h1v2h-1zM640 554h1v2h-1zM640 556h1v2h-1zM641 580h1v2h-1zM644 566h1v2h-1zM645 558h1v2h-1zM645 560h1v2h-1zM645 566h1v2h-1zM646 562h1v2h-1zM646 566h1v2h-1zM648 560h1v2h-1zM648 610h1v2h-1zM650 562h1v2h-1zM651 558h1v2h-1zM655 582h1v2h-1zM655 598h1v2h-1zM656 582h1v2h-1zM656 584h1v2h-1zM661 598h1v2h-1zM662 596h1v2h-1zM669 586h1v2h-1zM669 632h1v2h-1zM670 594h1v2h-1zM671 598h1v2h-1zM672 598h1v2h-1zM675 596h1v2h-1zM676 596h1v2h-1z"/><path fill="#008040" d="M612 560h1v2h-1zM627 560h1v2h-1zM627 562h1v2h-1zM629 560h1v2h-1zM632 568h1v2h-1zM632 594h1v2h-1zM633 556h1v2h-1zM633 566h1v2h-1zM634 590h1v2h-1zM635 568h1v2h-1zM635 592h1v2h-1zM636 550h1v2h-1zM636 592h1v2h-1zM637 556h1v2h-1zM637 588h1v2h-1zM637 592h1v2h-1zM637 594h1v2h-1zM638 584h1v2h-1zM638 596h1v2h-1zM642 564h1v2h-1zM642 566h1v2h-1zM642 584h1v2h-1zM642 600h1v2h-1zM643 562h1v2h-1zM644 560h1v2h-1zM644 564h1v2h-1zM644 584h1v2h-1zM644 600h1v2h-1zM645 564h1v2h-1zM645 600h1v2h-1zM646 600h1v2h-1zM647 580h1v2h-1zM647 598h1v2h-1zM648 582h1v2h-1zM649 590h1v2h-1zM650 598h1v2h-1zM651 598h1v2h-1zM653 586h1v2h-1zM653 596h1v2h-1zM653 600h1v2h-1zM654 584h1v2h-1zM654 596h1v2h-1zM659 584h1v2h-1zM659 588h1v2h-1zM659 592h1v2h-1zM661 588h1v2h-1zM661 594h1v2h-1zM661 596h1v2h-1zM662 584h1v2h-1zM662 590h1v2h-1zM662 594h1v2h-1zM664 592h1v2h-1zM665 588h1v2h-1zM666 590h1v2h-1zM667 588h1v2h-1zM670 592h1v2h-1z"/><path fill="#ff50ff" d="M601 562h1v2h-1zM606 562h1v2h-1zM607 558h1v2h-1zM607 562h1v2h-1zM608 560h1v2h-1zM609 556h1v2h-1zM609 562h1v2h-1zM610 552h1v2h-1zM610 562h1v2h-1zM610 568h1v2h-1zM610 570h1v2h-1zM611 556h1v2h-1zM611 600h1v2h-1zM612 554h1v2h-1zM612 556h1v2h-1zM612 562h1v2h-1zM612 566h1v2h-1zM613 558h1v2h-1zM613 562h1v2h-1zM613 566h1v2h-1zM613 568h1v2h-1zM614 564h1v2h-1zM615 558h1v2h-1zM615 562h1v2h-1zM616 550h1v2h-1zM616 584h1v2h-1zM617 554h1v2h-1zM617 562h1v2h-1zM617 566h1v2h-1zM618 550h1v2h-1zM618 554h1v2h-1zM618 572h1v2h-1zM619 586h1v2h-1zM620 558h1v2h-1zM620 566h1v2h-1zM620 574h1v2h-1zM621 558h1v2h-1zM621 560h1v2h-1zM621 562h1v2h-1zM621 564h1v2h-1zM621 592h1v2h-1zM622 556h1v2h-1zM622 558h1v2h-1zM622 578h1v2h-1zM622 588h1v2h-1zM622 594h1v2h-1zM623 552h1v2h-1zM623 562h1v2h-1zM623 570h1v2h-1zM624 548h1v2h-1zM624 552h1v2h-1zM624 554h1v2h-1zM624 566h1v2h-1zM624 570h1v2h-1zM624 588h1v2h-1zM624 618h1v2h-1zM624 634h1v2h-1zM625 552h1v2h-1zM625 560h1v2h-1zM625 568h1v2h-1zM625 576h1v2h-1zM625 592h1v2h-1zM625 598h1v2h-1zM626 550h1v2h-1zM626 552h1v2h-1zM626 554h1v2h-1zM626 556h1v2h-1zM626 566h1v2h-1zM626 596h1v2h-1zM626 604h1v2h-1zM626 620h1v2h-1zM627 552h1v2h-1zM627 554h1v2h-1zM627 578h1v2h-1zM627 592h1v2h-1zM627 594h1v2h-1zM627 596h1v2h-1zM627 602h1v2h-1zM628 552h1v2h-1zM628 566h1v2h-1zM628 578h1v2h-1zM628 584h1v2h-1zM628 588h1v2h-1zM628 590h1v2h-1zM628 600h1v2h-1zM628 612h1v2h-1zM629 542h1v2h-1zM629 568h1v2h-1zM629 570h1v2h-1zM629 582h1v2h-1zM629 594h1v2h-1zM629 598h1v2h-1zM630 550h1v2h-1zM630 552h1v2h-1zM630 570h1v2h-1zM630 574h1v2h-1zM630 576h1v2h-1zM630 584h1v2h-1zM630 612h1v2h-1zM631 550h1v2h-1zM631 552h1v2h-1zM631 554h1v2h-1zM631 570h1v2h-1zM631 576h1v2h-1zM631 582h1v2h-1zM631 612h1v2h-1zM632 578h1v2h-1zM632 580h1v2h-1zM632 584h1v2h-1zM632 612h1v2h-1zM633 524h1v2h-1zM633 542h1v2h-1zM633 552h1v2h-1zM633 554h1v2h-1zM633 580h1v2h-1zM633 582h1v2h-1zM633 584h1v2h-1zM633 594h1v2h-1zM633 602h1v2h-1zM633 610h1v2h-1zM634 574h1v2h-1zM634 576h1v2h-1zM634 578h1v2h-1zM634 580h1v2h-1zM634 582h1v2h-1zM634 600h1v2h-1zM634 602h1v2h-1zM634 612h1v2h-1zM634 614h1v2h-1zM635 552h1v2h-1zM635 570h1v2h-1zM635 572h1v2h-1zM635 576h1v2h-1zM635 580h1v2h-1zM635 600h1v2h-1zM636 578h1v2h-1zM636 602h1v2h-1zM636 608h1v2h-1zM636 610h1v2h-1zM636 634h1v2h-1zM637 572h1v2h-1zM637 610h1v2h-1zM637 616h1v2h-1zM638 552h1v2h-1zM639 552h1v2h-1zM639 578h1v2h-1zM639 582h1v2h-1zM639 602h1v2h-1zM639 614h1v2h-1zM640 570h1v2h-1zM640 572h1v2h-1zM640 574h1v2h-1zM640 580h1v2h-1zM640 600h1v2h-1zM640 614h1v2h-1zM641 548h1v2h-1zM641 570h1v2h-1zM641 572h1v2h-1zM641 612h1v2h-1zM641 638h1v2h-1zM642 548h1v2h-1zM642 554h1v2h-1zM642 574h1v2h-1zM642 604h1v2h-1zM642 612h1v2h-1zM642 634h1v2h-1zM643 578h1v2h-1zM643 580h1v2h-1zM643 608h1v2h-1zM643 614h1v2h-1zM643 636h1v2h-1zM644 552h1v2h-1zM644 554h1v2h-1zM644 580h1v2h-1zM644 602h1v2h-1zM644 604h1v2h-1zM644 614h1v2h-1zM645 556h1v2h-1zM645 572h1v2h-1zM645 576h1v2h-1zM645 610h1v2h-1zM645 634h1v2h-1zM646 568h1v2h-1zM646 574h1v2h-1zM646 576h1v2h-1zM646 610h1v2h-1zM646 612h1v2h-1zM646 632h1v2h-1zM647 570h1v2h-1zM647 574h1v2h-1zM647 602h1v2h-1zM647 610h1v2h-1zM648 566h1v2h-1zM648 568h1v2h-1zM648 574h1v2h-1zM648 576h1v2h-1zM648 580h1v2h-1zM648 604h1v2h-1zM648 612h1v2h-1zM649 548h1v2h-1zM649 552h1v2h-1zM649 556h1v2h-1zM649 558h1v2h-1zM649 574h1v2h-1zM649 604h1v2h-1zM649 606h1v2h-1zM649 612h1v2h-1zM649 632h1v2h-1zM650 548h1v2h-1zM650 558h1v2h-1zM650 576h1v2h-1zM650 578h1v2h-1zM650 580h1v2h-1zM650 604h1v2h-1zM650 632h1v2h-1zM651 548h1v2h-1zM651 556h1v2h-1zM651 560h1v2h-1zM651 564h1v2h-1zM651 570h1v2h-1zM651 578h1v2h-1zM651 582h1v2h-1zM651 602h1v2h-1zM651 612h1v2h-1zM652 556h1v2h-1zM652 572h1v2h-1zM652 576h1v2h-1zM652 582h1v2h-1zM652 602h1v2h-1zM652 604h1v2h-1zM653 548h1v2h-1zM653 552h1v2h-1zM653 560h1v2h-1zM653 564h1v2h-1zM653 608h1v2h-1zM654 556h1v2h-1zM654 560h1v2h-1zM654 568h1v2h-1zM654 570h1v2h-1zM654 574h1v2h-1zM654 598h1v2h-1zM654 610h1v2h-1zM654 632h1v2h-1zM655 546h1v2h-1zM655 550h1v2h-1zM655 556h1v2h-1zM655 558h1v2h-1zM655 560h1v2h-1zM655 566h1v2h-1zM655 576h1v2h-1zM655 578h1v2h-1zM655 602h1v2h-1zM655 634h1v2h-1zM656 556h1v2h-1zM656 566h1v2h-1zM656 572h1v2h-1zM656 598h1v2h-1zM656 630h1v2h-1zM656 632h1v2h-1zM657 558h1v2h-1zM657 560h1v2h-1zM657 580h1v2h-1zM657 602h1v2h-1zM657 634h1v2h-1zM658 538h1v2h-1zM658 554h1v2h-1zM658 560h1v2h-1zM658 562h1v2h-1zM658 566h1v2h-1zM658 568h1v2h-1zM658 578h1v2h-1zM659 552h1v2h-1zM659 558h1v2h-1zM659 562h1v2h-1zM659 564h1v2h-1zM659 574h1v2h-1zM659 578h1v2h-1zM659 580h1v2h-1zM659 610h1v2h-1zM660 554h1v2h-1zM660 570h1v2h-1zM660 580h1v2h-1zM660 604h1v2h-1zM661 560h1v2h-1zM661 562h1v2h-1zM661 584h1v2h-1zM661 602h1v2h-1zM661 632h1v2h-1zM662 554h1v2h-1zM662 600h1v2h-1zM662 606h1v2h-1zM662 608h1v2h-1zM662 636h1v2h-1zM663 554h1v2h-1zM663 562h1v2h-1zM663 580h1v2h-1zM663 582h1v2h-1zM663 598h1v2h-1zM664 552h1v2h-1zM664 598h1v2h-1zM664 606h1v2h-1zM665 570h1v2h-1zM665 572h1v2h-1zM665 596h1v2h-1zM665 600h1v2h-1zM665 632h1v2h-1zM666 556h1v2h-1zM666 560h1v2h-1zM666 584h1v2h-1zM666 596h1v2h-1zM666 618h1v2h-1zM667 574h1v2h-1zM667 580h1v2h-1zM667 592h1v2h-1zM667 594h1v2h-1zM667 598h1v2h-1zM667 600h1v2h-1zM667 602h1v2h-1zM667 634h1v2h-1zM668 582h1v2h-1zM668 584h1v2h-1zM668 586h1v2h-1zM668 598h1v2h-1zM668 602h1v2h-1zM669 562h1v2h-1zM669 578h1v2h-1zM669 590h1v2h-1zM669 596h1v2h-1zM669 598h1v2h-1zM670 548h1v2h-1zM670 582h1v2h-1zM670 598h1v2h-1zM670 600h1v2h-1zM670 602h1v2h-1zM671 564h1v2h-1zM671 580h1v2h-1zM671 590h1v2h-1zM671 592h1v2h-1zM671 632h1v2h-1zM672 572h1v2h-1zM672 578h1v2h-1zM672 588h1v2h-1zM672 592h1v2h-1zM672 594h1v2h-1zM672 636h1v2h-1zM673 564h1v2h-1zM673 574h1v2h-1zM673 580h1v2h-1zM673 582h1v2h-1zM673 586h1v2h-1zM673 588h1v2h-1zM673 594h1v2h-1zM674 554h1v2h-1zM674 590h1v2h-1zM674 596h1v2h-1zM674 598h1v2h-1zM674 600h1v2h-1zM674 608h1v2h-1zM675 552h1v2h-1zM675 588h1v2h-1zM675 594h1v2h-1zM675 604h1v2h-1zM676 558h1v2h-1zM676 560h1v2h-1zM676 582h1v2h-1zM676 584h1v2h-1zM676 588h1v2h-1zM676 598h1v2h-1zM676 600h1v2h-1zM676 602h1v2h-1zM677 560h1v2h-1zM677 580h1v2h-1zM677 582h1v2h-1zM677 590h1v2h-1zM677 592h1v2h-1zM677 596h1v2h-1zM677 600h1v2h-1zM677 602h1v2h-1zM677 632h1v2h-1zM677 636h1v2h-1zM678 592h1v2h-1zM678 594h1v2h-1zM678 632h1v2h-1zM679 584h1v2h-1zM679 586h1v2h-1zM679 592h1v2h-1zM679 602h1v2h-1zM679 604h1v2h-1zM679 608h1v2h-1zM680 578h1v2h-1zM680 588h1v2h-1zM680 592h1v2h-1zM680 602h1v2h-1zM681 584h1v2h-1zM681 638h1v2h-1zM682 572h1v2h-1zM682 598h1v2h-1zM682 600h1v2h-1zM682 636h1v2h-1zM683 584h1v2h-1zM683 592h1v2h-1zM683 634h1v2h-1zM683 636h1v2h-1zM684 588h1v2h-1zM684 592h1v2h-1zM684 594h1v2h-1zM684 596h1v2h-1zM684 606h1v2h-1zM684 636h1v2h-1zM685 592h1v2h-1zM685 596h1v2h-1zM686 588h1v2h-1zM686 590h1v2h-1zM686 602h1v2h-1zM686 634h1v2h-1zM687 592h1v2h-1zM687 594h1v2h-1zM687 596h1v2h-1zM687 632h1v2h-1z"/><path fill="#00ff00" d="M628 560h1v2h-1zM630 560h1v2h-1zM630 564h1v2h-1zM631 558h1v2h-1zM636 556h1v2h-1zM636 584h1v2h-1zM639 556h1v2h-1zM640 584h1v2h-1zM643 558h1v2h-1zM644 582h1v2h-1zM646 564h1v2h-1zM647 558h1v2h-1zM648 558h1v2h-1zM648 564h1v2h-1zM648 600h1v2h-1zM649 582h1v2h-1zM649 584h1v2h-1zM649 600h1v2h-1zM651 584h1v2h-1zM653 594h1v2h-1zM658 586h1v2h-1zM658 594h1v2h-1zM659 594h1v2h-1zM660 588h1v2h-1zM660 592h1v2h-1zM662 586h1v2h-1zM662 588h1v2h-1zM664 590h1v2h-1zM668 592h1v2h-1zM669 588h1v2h-1z"/><path fill="#ff0000" d="M635 562h1v2h-1zM637 560h1v2h-1zM638 562h1v2h-1zM639 560h1v2h-1zM642 594h1v2h-1zM643 590h1v2h-1zM644 588h1v2h-1zM645 588h1v2h-1zM645 598h1v2h-1zM646 590h1v2h-1zM647 588h1v2h-1zM647 592h1v2h-1z"/><path fill="#c00000" d="M648 592h1v2h-1z"/><path fill="#ff50ff" d="M622 514h1v2h-1zM630 517h1v2h-1zM638 514h1v2h-1zM672 522h1v2h-1zM619 613h1v2h-1zM667 677h1v2h-1zM677 674h1v2h-1zM676 683h1v2h-1zM683 686h1v2h-1z"/>
<rect x="595" y="273" width="94" height="1" fill="#000"/><rect x="595" y="709" width="94" height="1" fill="#000"/><rect x="595" y="273" width="1" height="437" fill="#000"/><rect x="688" y="273" width="1" height="437" fill="#000"/>
<rect x="595" y="704" width="1" height="5" fill="#000"/>
<rect x="641" y="704" width="1" height="5" fill="#000"/>
<rect x="688" y="704" width="1" height="5" fill="#000"/>
<rect x="595" y="327" width="6" height="1" fill="#000"/>
<rect x="595" y="381" width="6" height="1" fill="#000"/>
<rect x="595" y="436" width="6" height="1" fill="#000"/>
<rect x="595" y="490" width="6" height="1" fill="#000"/>
<rect x="595" y="545" width="6" height="1" fill="#000"/>
<rect x="595" y="599" width="6" height="1" fill="#000"/>
<rect x="595" y="654" width="6" height="1" fill="#000"/>
</g>
<text y="277" font-size="11.33"><tspan x="568.00" textLength="21.00" lengthAdjust="spacingAndGlyphs">400</tspan></text>
<text y="331.47" font-size="11.33"><tspan x="568.00" textLength="21.00" lengthAdjust="spacingAndGlyphs">300</tspan></text>
<text y="385.94" font-size="11.33"><tspan x="568.00" textLength="21.00" lengthAdjust="spacingAndGlyphs">200</tspan></text>
<text y="440.41" font-size="11.33"><tspan x="568.00" textLength="21.00" lengthAdjust="spacingAndGlyphs">100</tspan></text>
<text y="494.88" font-size="11.33"><tspan x="585.90" text-anchor="middle">0</tspan></text>
<text y="549.35" font-size="11.33"><tspan x="558.29" textLength="30.21" lengthAdjust="spacingAndGlyphs">−100</tspan></text>
<text y="603.82" font-size="11.33"><tspan x="558.29" textLength="30.21" lengthAdjust="spacingAndGlyphs">−200</tspan></text>
<text y="658.29" font-size="11.33"><tspan x="558.29" textLength="30.21" lengthAdjust="spacingAndGlyphs">−300</tspan></text>
<text y="712.76" font-size="11.33"><tspan x="558.29" textLength="30.21" lengthAdjust="spacingAndGlyphs">−400</tspan></text>
<text y="721.7" font-size="11.33"><tspan x="595.60" text-anchor="middle">0</tspan></text>
<text y="721.7" font-size="11.33"><tspan x="633.50" textLength="14.00" lengthAdjust="spacingAndGlyphs">10</tspan></text>
<text y="721.7" font-size="11.33"><tspan x="680.70" textLength="14.00" lengthAdjust="spacingAndGlyphs">20</tspan></text>
<text y="740.7" font-size="11.33"><tspan x="607.17" textLength="46.48" lengthAdjust="spacingAndGlyphs">Altitude,</tspan> <tspan x="657.15" textLength="17.08" lengthAdjust="spacingAndGlyphs">km</tspan></text>
<text y="491.9" font-size="11.4845" transform="rotate(-90 699.8 491.9)"><tspan x="653.79" textLength="71.16" lengthAdjust="spacingAndGlyphs">North-South,</tspan> <tspan x="728.49" textLength="17.32" lengthAdjust="spacingAndGlyphs">km</tspan></text>
<g shape-rendering="crispEdges">
<rect x="67.80" y="764" width="24.12" height="24" fill="#ff50ff"/>
<rect x="91.42" y="764" width="24.12" height="24" fill="#8000ff"/>
<rect x="115.04" y="764" width="24.12" height="24" fill="#8000ff"/>
<rect x="138.66" y="764" width="24.12" height="24" fill="#0000ff"/>
<rect x="162.28" y="764" width="24.12" height="24" fill="#0000ff"/>
<rect x="185.90" y="764" width="24.12" height="24" fill="#0080ff"/>
<rect x="209.51" y="764" width="24.12" height="24" fill="#00ffff"/>
<rect x="233.13" y="764" width="24.12" height="24" fill="#00ff00"/>
<rect x="256.75" y="764" width="24.12" height="24" fill="#008040"/>
<rect x="280.37" y="764" width="24.12" height="24" fill="#408080"/>
<rect x="303.99" y="764" width="24.12" height="24" fill="#ffff00"/>
<rect x="327.61" y="764" width="24.12" height="24" fill="#ffc080"/>
<rect x="351.23" y="764" width="24.12" height="24" fill="#ff8000"/>
<rect x="374.85" y="764" width="24.12" height="24" fill="#ff0080"/>
<rect x="398.47" y="764" width="24.12" height="24" fill="#ff0000"/>
<rect x="422.09" y="764" width="24.12" height="24" fill="#c00000"/>
<rect x="445.70" y="764" width="24.12" height="24" fill="#800000"/>
<rect x="469.32" y="764" width="24.12" height="24" fill="#000000"/>
<rect x="492.94" y="764" width="24.12" height="24" fill="#808080"/>
<rect x="516.56" y="764" width="24.12" height="24" fill="#c0c0c0"/>
<rect x="540.18" y="764" width="24.12" height="24" fill="#ffffff"/>
<rect x="68" y="763" width="497" height="1" fill="#000"/><rect x="68" y="788" width="497" height="1" fill="#000"/><rect x="68" y="763" width="1" height="26" fill="#000"/><rect x="564" y="763" width="1" height="26" fill="#000"/>
<rect x="68" y="784" width="1" height="4" fill="#000"/>
<rect x="136" y="786" width="1" height="2" fill="#000"/>
<rect x="175" y="786" width="1" height="2" fill="#000"/>
<rect x="203" y="786" width="1" height="2" fill="#000"/>
<rect x="225" y="786" width="1" height="2" fill="#000"/>
<rect x="243" y="786" width="1" height="2" fill="#000"/>
<rect x="258" y="786" width="1" height="2" fill="#000"/>
<rect x="271" y="786" width="1" height="2" fill="#000"/>
<rect x="283" y="786" width="1" height="2" fill="#000"/>
<rect x="293" y="784" width="1" height="4" fill="#000"/>
<rect x="361" y="786" width="1" height="2" fill="#000"/>
<rect x="400" y="786" width="1" height="2" fill="#000"/>
<rect x="428" y="786" width="1" height="2" fill="#000"/>
<rect x="450" y="786" width="1" height="2" fill="#000"/>
<rect x="468" y="786" width="1" height="2" fill="#000"/>
<rect x="483" y="786" width="1" height="2" fill="#000"/>
<rect x="496" y="786" width="1" height="2" fill="#000"/>
<rect x="508" y="786" width="1" height="2" fill="#000"/>
<rect x="518" y="784" width="1" height="4" fill="#000"/>
</g>
<text y="801.2" font-size="11.33"><tspan x="67.40" text-anchor="middle">1</tspan></text>
<text y="801.2" font-size="11.33"><tspan x="285.50" textLength="14.00" lengthAdjust="spacingAndGlyphs">10</tspan></text>
<text y="801.2" font-size="11.33"><tspan x="507.30" textLength="21.00" lengthAdjust="spacingAndGlyphs">100</tspan></text>
<text y="784.2" font-size="16.5315"><tspan x="583.30" textLength="79.11" lengthAdjust="spacingAndGlyphs">Sources/7</tspan> <tspan x="667.51" textLength="31.36" lengthAdjust="spacingAndGlyphs">km²</tspan></text>
</svg>
</body></html>
